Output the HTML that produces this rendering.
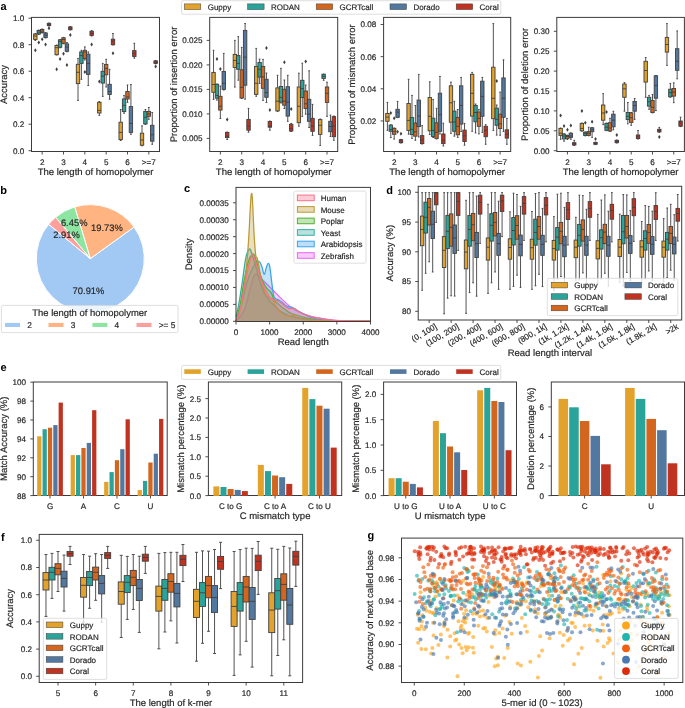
<!DOCTYPE html>
<html><head><meta charset="utf-8"><style>html,body{margin:0;padding:0;background:#fff;}svg{display:block;will-change:transform;}</style></head>
<body><svg width="685" height="708" viewBox="0 0 685 708" text-rendering="geometricPrecision" stroke-width="0.18" font-family='"Liberation Sans", sans-serif'>
<rect width="685" height="708" fill="#ffffff"/>
<text x="0.4" y="9.8" font-size="11.0" text-anchor="start" fill="#000000" stroke="#000000" font-weight="bold" stroke-width="0">a</text>
<text x="0.3" y="194.4" font-size="11.0" text-anchor="start" fill="#000000" stroke="#000000" font-weight="bold" stroke-width="0">b</text>
<text x="184.1" y="192.3" font-size="11.0" text-anchor="start" fill="#000000" stroke="#000000" font-weight="bold" stroke-width="0">c</text>
<text x="386.3" y="193.8" font-size="11.0" text-anchor="start" fill="#000000" stroke="#000000" font-weight="bold" stroke-width="0">d</text>
<text x="0.5" y="370.8" font-size="11.0" text-anchor="start" fill="#000000" stroke="#000000" font-weight="bold" stroke-width="0">e</text>
<text x="1" y="540.8" font-size="11.0" text-anchor="start" fill="#000000" stroke="#000000" font-weight="bold" stroke-width="0">f</text>
<text x="367.5" y="538.9" font-size="11.0" text-anchor="start" fill="#000000" stroke="#000000" font-weight="bold" stroke-width="0">g</text>
<path d="M35.34 34V33.5M34.49 33.5H36.19M35.34 39.5V40.5M34.49 40.5H36.19" stroke="#3f3f3f" stroke-width="0.9" fill="none"/>
<rect x="33.63" y="34" width="3.41" height="5.5" fill="#e2a22b" stroke="#3f3f3f" stroke-width="0.9"/>
<path d="M33.63 36H37.05" stroke="#3f3f3f" stroke-width="0.9"/>
<path d="M35.34 48.3L36.64 50.3L35.34 52.3L34.04 50.3Z" fill="#3f3f3f"/>
<path d="M38.75 30.5V30M37.9 30H39.61M38.75 34V34.5M37.9 34.5H39.61" stroke="#3f3f3f" stroke-width="0.9" fill="none"/>
<rect x="37.05" y="30.5" width="3.41" height="3.5" fill="#2aa39a" stroke="#3f3f3f" stroke-width="0.9"/>
<path d="M37.05 32.1H40.46" stroke="#3f3f3f" stroke-width="0.9"/>
<path d="M38.75 40.5L40.05 42.5L38.75 44.5L37.45 42.5Z" fill="#3f3f3f"/>
<path d="M42.17 29.4V29M41.31 29H43.02M42.17 32.4V33M41.31 33H43.02" stroke="#3f3f3f" stroke-width="0.9" fill="none"/>
<rect x="40.46" y="29.4" width="3.41" height="3" fill="#d3661f" stroke="#3f3f3f" stroke-width="0.9"/>
<path d="M40.46 31.1H43.87" stroke="#3f3f3f" stroke-width="0.9"/>
<path d="M42.17 37.2L43.47 39.2L42.17 41.2L40.87 39.2Z" fill="#3f3f3f"/>
<path d="M45.58 33V32.5M44.73 32.5H46.43M45.58 37.5V38M44.73 38H46.43" stroke="#3f3f3f" stroke-width="0.9" fill="none"/>
<rect x="43.87" y="33" width="3.41" height="4.5" fill="#53789f" stroke="#3f3f3f" stroke-width="0.9"/>
<path d="M43.87 35.2H47.29" stroke="#3f3f3f" stroke-width="0.9"/>
<path d="M45.58 42.6L46.88 44.6L45.58 46.6L44.28 44.6Z" fill="#3f3f3f"/>
<path d="M48.99 23.3V23M48.14 23H49.85M48.99 25.6V26M48.14 26H49.85" stroke="#3f3f3f" stroke-width="0.9" fill="none"/>
<rect x="47.29" y="23.3" width="3.41" height="2.3" fill="#bf3320" stroke="#3f3f3f" stroke-width="0.9"/>
<path d="M47.29 24.5H50.7" stroke="#3f3f3f" stroke-width="0.9"/>
<path d="M48.99 26.3L50.29 28.3L48.99 30.3L47.69 28.3Z" fill="#3f3f3f"/>
<path d="M56.67 45.5V45M55.82 45H57.53M56.67 54.7V55M55.82 55H57.53" stroke="#3f3f3f" stroke-width="0.9" fill="none"/>
<rect x="54.97" y="45.5" width="3.41" height="9.2" fill="#e2a22b" stroke="#3f3f3f" stroke-width="0.9"/>
<path d="M54.97 47.7H58.38" stroke="#3f3f3f" stroke-width="0.9"/>
<path d="M56.67 67.3L57.97 69.3L56.67 71.3L55.37 69.3Z" fill="#3f3f3f"/>
<path d="M60.09 39.9V39.5M59.23 39.5H60.94M60.09 47.3V47.8M59.23 47.8H60.94" stroke="#3f3f3f" stroke-width="0.9" fill="none"/>
<rect x="58.38" y="39.9" width="3.41" height="7.4" fill="#2aa39a" stroke="#3f3f3f" stroke-width="0.9"/>
<path d="M58.38 41.6H61.79" stroke="#3f3f3f" stroke-width="0.9"/>
<path d="M60.09 57.1L61.39 59.1L60.09 61.1L58.79 59.1Z" fill="#3f3f3f"/>
<path d="M63.5 37.8V37.4M62.65 37.4H64.35M63.5 43.3V43.8M62.65 43.8H64.35" stroke="#3f3f3f" stroke-width="0.9" fill="none"/>
<rect x="61.79" y="37.8" width="3.41" height="5.5" fill="#d3661f" stroke="#3f3f3f" stroke-width="0.9"/>
<path d="M61.79 39.5H65.21" stroke="#3f3f3f" stroke-width="0.9"/>
<path d="M63.5 51.7L64.8 53.7L63.5 55.7L62.2 53.7Z" fill="#3f3f3f"/>
<path d="M66.91 43.9V42.5M66.06 42.5H67.77M66.91 51.3V51.8M66.06 51.8H67.77" stroke="#3f3f3f" stroke-width="0.9" fill="none"/>
<rect x="65.21" y="43.9" width="3.41" height="7.4" fill="#53789f" stroke="#3f3f3f" stroke-width="0.9"/>
<path d="M65.21 47H68.62" stroke="#3f3f3f" stroke-width="0.9"/>
<path d="M66.91 63.1L68.21 65.1L66.91 67.1L65.61 65.1Z" fill="#3f3f3f"/>
<path d="M70.33 26.9V26.6M69.47 26.6H71.18M70.33 29.7V30M69.47 30H71.18" stroke="#3f3f3f" stroke-width="0.9" fill="none"/>
<rect x="68.62" y="26.9" width="3.41" height="2.8" fill="#bf3320" stroke="#3f3f3f" stroke-width="0.9"/>
<path d="M68.62 28.3H72.03" stroke="#3f3f3f" stroke-width="0.9"/>
<path d="M70.33 33.1L71.63 35.1L70.33 37.1L69.03 35.1Z" fill="#3f3f3f"/>
<path d="M78.01 64.3V58.4M77.15 58.4H78.86M78.01 83.6V100.4M77.15 100.4H78.86" stroke="#3f3f3f" stroke-width="0.9" fill="none"/>
<rect x="76.3" y="64.3" width="3.41" height="19.3" fill="#e2a22b" stroke="#3f3f3f" stroke-width="0.9"/>
<path d="M76.3 72.3H79.71" stroke="#3f3f3f" stroke-width="0.9"/>
<path d="M81.42 51.9V50.3M80.57 50.3H82.27M81.42 63.4V79.3M80.57 79.3H82.27" stroke="#3f3f3f" stroke-width="0.9" fill="none"/>
<rect x="79.71" y="51.9" width="3.41" height="11.5" fill="#2aa39a" stroke="#3f3f3f" stroke-width="0.9"/>
<path d="M79.71 55.6H83.13" stroke="#3f3f3f" stroke-width="0.9"/>
<path d="M84.83 50.3V46.9M83.98 46.9H85.69M84.83 58.4V60M83.98 60H85.69" stroke="#3f3f3f" stroke-width="0.9" fill="none"/>
<rect x="83.13" y="50.3" width="3.41" height="8.1" fill="#d3661f" stroke="#3f3f3f" stroke-width="0.9"/>
<path d="M83.13 52H86.54" stroke="#3f3f3f" stroke-width="0.9"/>
<path d="M84.83 70.1L86.13 72.1L84.83 74.1L83.53 72.1Z" fill="#3f3f3f"/>
<path d="M88.25 54.2V51.9M87.39 51.9H89.1M88.25 74.4V85.5M87.39 85.5H89.1" stroke="#3f3f3f" stroke-width="0.9" fill="none"/>
<rect x="86.54" y="54.2" width="3.41" height="20.2" fill="#53789f" stroke="#3f3f3f" stroke-width="0.9"/>
<path d="M86.54 63.4H89.95" stroke="#3f3f3f" stroke-width="0.9"/>
<path d="M91.66 31.3V30.5M90.81 30.5H92.51M91.66 35.4V36M90.81 36H92.51" stroke="#3f3f3f" stroke-width="0.9" fill="none"/>
<rect x="89.95" y="31.3" width="3.41" height="4.1" fill="#bf3320" stroke="#3f3f3f" stroke-width="0.9"/>
<path d="M89.95 33.4H93.37" stroke="#3f3f3f" stroke-width="0.9"/>
<path d="M91.66 42.6L92.96 44.6L91.66 46.6L90.36 44.6Z" fill="#3f3f3f"/>
<path d="M99.34 102.3V101.5M98.49 101.5H100.19M99.34 113V115.4M98.49 115.4H100.19" stroke="#3f3f3f" stroke-width="0.9" fill="none"/>
<rect x="97.63" y="102.3" width="3.41" height="10.7" fill="#e2a22b" stroke="#3f3f3f" stroke-width="0.9"/>
<path d="M97.63 110.4H101.05" stroke="#3f3f3f" stroke-width="0.9"/>
<path d="M99.34 79.6L100.64 81.6L99.34 83.6L98.04 81.6Z" fill="#3f3f3f"/>
<path d="M102.75 71.3V63.4M101.9 63.4H103.61M102.75 83.1V96.4M101.9 96.4H103.61" stroke="#3f3f3f" stroke-width="0.9" fill="none"/>
<rect x="101.05" y="71.3" width="3.41" height="11.8" fill="#2aa39a" stroke="#3f3f3f" stroke-width="0.9"/>
<path d="M101.05 76.2H104.46" stroke="#3f3f3f" stroke-width="0.9"/>
<path d="M106.17 64.4V59.3M105.31 59.3H107.02M106.17 74.8V87M105.31 87H107.02" stroke="#3f3f3f" stroke-width="0.9" fill="none"/>
<rect x="104.46" y="64.4" width="3.41" height="10.4" fill="#d3661f" stroke="#3f3f3f" stroke-width="0.9"/>
<path d="M104.46 68.5H107.87" stroke="#3f3f3f" stroke-width="0.9"/>
<path d="M109.58 84.3V69.3M108.73 69.3H110.43M109.58 94.5V99.2M108.73 99.2H110.43" stroke="#3f3f3f" stroke-width="0.9" fill="none"/>
<rect x="107.87" y="84.3" width="3.41" height="10.2" fill="#53789f" stroke="#3f3f3f" stroke-width="0.9"/>
<path d="M107.87 91.5H111.29" stroke="#3f3f3f" stroke-width="0.9"/>
<path d="M112.99 39.2V33.5M112.14 33.5H113.85M112.99 44.7V45M112.14 45H113.85" stroke="#3f3f3f" stroke-width="0.9" fill="none"/>
<rect x="111.29" y="39.2" width="3.41" height="5.5" fill="#bf3320" stroke="#3f3f3f" stroke-width="0.9"/>
<path d="M111.29 41.1H114.7" stroke="#3f3f3f" stroke-width="0.9"/>
<path d="M112.99 51.3L114.29 53.3L112.99 55.3L111.69 53.3Z" fill="#3f3f3f"/>
<path d="M120.67 122.2V109.5M119.82 109.5H121.53M120.67 139.6V140.5M119.82 140.5H121.53" stroke="#3f3f3f" stroke-width="0.9" fill="none"/>
<rect x="118.97" y="122.2" width="3.41" height="17.4" fill="#e2a22b" stroke="#3f3f3f" stroke-width="0.9"/>
<path d="M118.97 132.4H122.38" stroke="#3f3f3f" stroke-width="0.9"/>
<path d="M124.09 99V95.4M123.23 95.4H124.94M124.09 111.6V113.3M123.23 113.3H124.94" stroke="#3f3f3f" stroke-width="0.9" fill="none"/>
<rect x="122.38" y="99" width="3.41" height="12.6" fill="#2aa39a" stroke="#3f3f3f" stroke-width="0.9"/>
<path d="M122.38 105.4H125.79" stroke="#3f3f3f" stroke-width="0.9"/>
<path d="M127.5 91.5V85M126.65 85H128.35M127.5 99V102.4M126.65 102.4H128.35" stroke="#3f3f3f" stroke-width="0.9" fill="none"/>
<rect x="125.79" y="91.5" width="3.41" height="7.5" fill="#d3661f" stroke="#3f3f3f" stroke-width="0.9"/>
<path d="M125.79 96.9H129.21" stroke="#3f3f3f" stroke-width="0.9"/>
<path d="M130.91 106.6V84.5M130.06 84.5H131.77M130.91 132.4V134.3M130.06 134.3H131.77" stroke="#3f3f3f" stroke-width="0.9" fill="none"/>
<rect x="129.21" y="106.6" width="3.41" height="25.8" fill="#53789f" stroke="#3f3f3f" stroke-width="0.9"/>
<path d="M129.21 123.4H132.62" stroke="#3f3f3f" stroke-width="0.9"/>
<path d="M134.33 50.6V43.3M133.47 43.3H135.18M134.33 56.5V58.2M133.47 58.2H135.18" stroke="#3f3f3f" stroke-width="0.9" fill="none"/>
<rect x="132.62" y="50.6" width="3.41" height="5.9" fill="#bf3320" stroke="#3f3f3f" stroke-width="0.9"/>
<path d="M132.62 53.5H136.03" stroke="#3f3f3f" stroke-width="0.9"/>
<path d="M142.01 133.2V125.8M141.15 125.8H142.86M142.01 145.2V145.8M141.15 145.8H142.86" stroke="#3f3f3f" stroke-width="0.9" fill="none"/>
<rect x="140.3" y="133.2" width="3.41" height="12" fill="#e2a22b" stroke="#3f3f3f" stroke-width="0.9"/>
<path d="M140.3 140H143.71" stroke="#3f3f3f" stroke-width="0.9"/>
<path d="M145.42 111.4V109.5M144.57 109.5H146.27M145.42 123.9V124.5M144.57 124.5H146.27" stroke="#3f3f3f" stroke-width="0.9" fill="none"/>
<rect x="143.71" y="111.4" width="3.41" height="12.5" fill="#2aa39a" stroke="#3f3f3f" stroke-width="0.9"/>
<path d="M143.71 117.3H147.13" stroke="#3f3f3f" stroke-width="0.9"/>
<path d="M148.83 111.4V107.5M147.98 107.5H149.69M148.83 116.3V119.3M147.98 119.3H149.69" stroke="#3f3f3f" stroke-width="0.9" fill="none"/>
<rect x="147.13" y="111.4" width="3.41" height="4.9" fill="#d3661f" stroke="#3f3f3f" stroke-width="0.9"/>
<path d="M147.13 113.9H150.54" stroke="#3f3f3f" stroke-width="0.9"/>
<path d="M152.25 125.3V112.5M151.39 112.5H153.1M152.25 141.2V144.3M151.39 144.3H153.1" stroke="#3f3f3f" stroke-width="0.9" fill="none"/>
<rect x="150.54" y="125.3" width="3.41" height="15.9" fill="#53789f" stroke="#3f3f3f" stroke-width="0.9"/>
<path d="M150.54 134.8H153.95" stroke="#3f3f3f" stroke-width="0.9"/>
<path d="M155.66 60.9V60.5M154.81 60.5H156.51M155.66 63.4V63.8M154.81 63.8H156.51" stroke="#3f3f3f" stroke-width="0.9" fill="none"/>
<rect x="153.95" y="60.9" width="3.41" height="2.5" fill="#bf3320" stroke="#3f3f3f" stroke-width="0.9"/>
<path d="M153.95 62.2H157.37" stroke="#3f3f3f" stroke-width="0.9"/>
<path d="M155.66 64.5L156.96 66.5L155.66 68.5L154.36 66.5Z" fill="#3f3f3f"/>
<rect x="31.5" y="17.4" width="128" height="134.1" fill="none" stroke="#3b3b3b" stroke-width="1.0"/>
<line x1="28.5" y1="150.7" x2="31.5" y2="150.7" stroke="#3b3b3b" stroke-width="0.9"/>
<text x="24.2" y="153.62" font-size="8.1" text-anchor="end" fill="#262626" stroke="#262626">0.0</text>
<line x1="28.5" y1="124.2" x2="31.5" y2="124.2" stroke="#3b3b3b" stroke-width="0.9"/>
<text x="24.2" y="127.12" font-size="8.1" text-anchor="end" fill="#262626" stroke="#262626">0.2</text>
<line x1="28.5" y1="97.7" x2="31.5" y2="97.7" stroke="#3b3b3b" stroke-width="0.9"/>
<text x="24.2" y="100.62" font-size="8.1" text-anchor="end" fill="#262626" stroke="#262626">0.4</text>
<line x1="28.5" y1="71.2" x2="31.5" y2="71.2" stroke="#3b3b3b" stroke-width="0.9"/>
<text x="24.2" y="74.12" font-size="8.1" text-anchor="end" fill="#262626" stroke="#262626">0.6</text>
<line x1="28.5" y1="44.7" x2="31.5" y2="44.7" stroke="#3b3b3b" stroke-width="0.9"/>
<text x="24.2" y="47.62" font-size="8.1" text-anchor="end" fill="#262626" stroke="#262626">0.8</text>
<line x1="28.5" y1="18.2" x2="31.5" y2="18.2" stroke="#3b3b3b" stroke-width="0.9"/>
<text x="24.2" y="21.12" font-size="8.1" text-anchor="end" fill="#262626" stroke="#262626">1.0</text>
<line x1="42.17" y1="151.5" x2="42.17" y2="154.5" stroke="#3b3b3b" stroke-width="0.9"/>
<text x="42.17" y="164.7" font-size="8.1" text-anchor="middle" fill="#262626" stroke="#262626">2</text>
<line x1="63.5" y1="151.5" x2="63.5" y2="154.5" stroke="#3b3b3b" stroke-width="0.9"/>
<text x="63.5" y="164.7" font-size="8.1" text-anchor="middle" fill="#262626" stroke="#262626">3</text>
<line x1="84.83" y1="151.5" x2="84.83" y2="154.5" stroke="#3b3b3b" stroke-width="0.9"/>
<text x="84.83" y="164.7" font-size="8.1" text-anchor="middle" fill="#262626" stroke="#262626">4</text>
<line x1="106.17" y1="151.5" x2="106.17" y2="154.5" stroke="#3b3b3b" stroke-width="0.9"/>
<text x="106.17" y="164.7" font-size="8.1" text-anchor="middle" fill="#262626" stroke="#262626">5</text>
<line x1="127.5" y1="151.5" x2="127.5" y2="154.5" stroke="#3b3b3b" stroke-width="0.9"/>
<text x="127.5" y="164.7" font-size="8.1" text-anchor="middle" fill="#262626" stroke="#262626">6</text>
<line x1="148.83" y1="151.5" x2="148.83" y2="154.5" stroke="#3b3b3b" stroke-width="0.9"/>
<text x="148.83" y="164.7" font-size="8.1" text-anchor="middle" fill="#262626" stroke="#262626">&gt;=7</text>
<text x="95.5" y="175" font-size="9.5" text-anchor="middle" fill="#262626" stroke="#262626">The length of homopolymer</text>
<text transform="translate(7.2,84.45) rotate(-90)" font-size="9.5" text-anchor="middle" fill="#262626" stroke="#262626">Accuracy</text>
<path d="M213.54 72.4V50.3M212.69 50.3H214.39M213.54 92.3V99.5M212.69 99.5H214.39" stroke="#3f3f3f" stroke-width="0.9" fill="none"/>
<rect x="211.83" y="72.4" width="3.41" height="19.9" fill="#e2a22b" stroke="#3f3f3f" stroke-width="0.9"/>
<path d="M211.83 84.5H215.25" stroke="#3f3f3f" stroke-width="0.9"/>
<path d="M216.95 84.3V84M216.1 84H217.81M216.95 98.2V100.1M216.1 100.1H217.81" stroke="#3f3f3f" stroke-width="0.9" fill="none"/>
<rect x="215.25" y="84.3" width="3.41" height="13.9" fill="#2aa39a" stroke="#3f3f3f" stroke-width="0.9"/>
<path d="M215.25 95.4H218.66" stroke="#3f3f3f" stroke-width="0.9"/>
<path d="M216.95 57.1L218.25 59.1L216.95 61.1L215.65 59.1Z" fill="#3f3f3f"/>
<path d="M220.37 96.3V86M219.51 86H221.22M220.37 110.1V118.5M219.51 118.5H221.22" stroke="#3f3f3f" stroke-width="0.9" fill="none"/>
<rect x="218.66" y="96.3" width="3.41" height="13.8" fill="#d3661f" stroke="#3f3f3f" stroke-width="0.9"/>
<path d="M218.66 106.3H222.07" stroke="#3f3f3f" stroke-width="0.9"/>
<path d="M220.37 66.9L221.67 68.9L220.37 70.9L219.07 68.9Z" fill="#3f3f3f"/>
<path d="M223.78 71.5V53.4M222.93 53.4H224.63M223.78 89.4V90M222.93 90H224.63" stroke="#3f3f3f" stroke-width="0.9" fill="none"/>
<rect x="222.07" y="71.5" width="3.41" height="17.9" fill="#53789f" stroke="#3f3f3f" stroke-width="0.9"/>
<path d="M222.07 83.3H225.49" stroke="#3f3f3f" stroke-width="0.9"/>
<path d="M227.19 132.4V132M226.34 132H228.05M227.19 137.6V139.5M226.34 139.5H228.05" stroke="#3f3f3f" stroke-width="0.9" fill="none"/>
<rect x="225.49" y="132.4" width="3.41" height="5.2" fill="#bf3320" stroke="#3f3f3f" stroke-width="0.9"/>
<path d="M225.49 136.2H228.9" stroke="#3f3f3f" stroke-width="0.9"/>
<path d="M227.19 117.6L228.49 119.6L227.19 121.6L225.89 119.6Z" fill="#3f3f3f"/>
<path d="M234.87 54.4V40.4M234.02 40.4H235.73M234.87 67.4V87.1M234.02 87.1H235.73" stroke="#3f3f3f" stroke-width="0.9" fill="none"/>
<rect x="233.17" y="54.4" width="3.41" height="13" fill="#e2a22b" stroke="#3f3f3f" stroke-width="0.9"/>
<path d="M233.17 60.4H236.58" stroke="#3f3f3f" stroke-width="0.9"/>
<path d="M238.29 55.6V36.6M237.43 36.6H239.14M238.29 69.3V80.2M237.43 80.2H239.14" stroke="#3f3f3f" stroke-width="0.9" fill="none"/>
<rect x="236.58" y="55.6" width="3.41" height="13.7" fill="#2aa39a" stroke="#3f3f3f" stroke-width="0.9"/>
<path d="M236.58 63.4H239.99" stroke="#3f3f3f" stroke-width="0.9"/>
<path d="M241.7 69.8V47.4M240.85 47.4H242.55M241.7 98V98.5M240.85 98.5H242.55" stroke="#3f3f3f" stroke-width="0.9" fill="none"/>
<rect x="239.99" y="69.8" width="3.41" height="28.2" fill="#d3661f" stroke="#3f3f3f" stroke-width="0.9"/>
<path d="M239.99 87.3H243.41" stroke="#3f3f3f" stroke-width="0.9"/>
<path d="M245.11 30.4V23.5M244.26 23.5H245.97M245.11 85.2V99.2M244.26 99.2H245.97" stroke="#3f3f3f" stroke-width="0.9" fill="none"/>
<rect x="243.41" y="30.4" width="3.41" height="54.8" fill="#53789f" stroke="#3f3f3f" stroke-width="0.9"/>
<path d="M243.41 57.2H246.82" stroke="#3f3f3f" stroke-width="0.9"/>
<path d="M248.53 119.4V108.4M247.67 108.4H249.38M248.53 130.2V132.2M247.67 132.2H249.38" stroke="#3f3f3f" stroke-width="0.9" fill="none"/>
<rect x="246.82" y="119.4" width="3.41" height="10.8" fill="#bf3320" stroke="#3f3f3f" stroke-width="0.9"/>
<path d="M246.82 126.2H250.23" stroke="#3f3f3f" stroke-width="0.9"/>
<path d="M256.21 66.4V48.4M255.35 48.4H257.06M256.21 94.4V96.3M255.35 96.3H257.06" stroke="#3f3f3f" stroke-width="0.9" fill="none"/>
<rect x="254.5" y="66.4" width="3.41" height="28" fill="#e2a22b" stroke="#3f3f3f" stroke-width="0.9"/>
<path d="M254.5 83.3H257.91" stroke="#3f3f3f" stroke-width="0.9"/>
<path d="M259.62 62.4V59.1M258.77 59.1H260.47M259.62 77.1V83.5M258.77 83.5H260.47" stroke="#3f3f3f" stroke-width="0.9" fill="none"/>
<rect x="257.91" y="62.4" width="3.41" height="14.7" fill="#2aa39a" stroke="#3f3f3f" stroke-width="0.9"/>
<path d="M257.91 69.3H261.33" stroke="#3f3f3f" stroke-width="0.9"/>
<path d="M263.03 66.4V59.4M262.18 59.4H263.89M263.03 88.3V100.4M262.18 100.4H263.89" stroke="#3f3f3f" stroke-width="0.9" fill="none"/>
<rect x="261.33" y="66.4" width="3.41" height="21.9" fill="#d3661f" stroke="#3f3f3f" stroke-width="0.9"/>
<path d="M261.33 76.9H264.74" stroke="#3f3f3f" stroke-width="0.9"/>
<path d="M266.45 79.3V73M265.59 73H267.3M266.45 97.3V102.5M265.59 102.5H267.3" stroke="#3f3f3f" stroke-width="0.9" fill="none"/>
<rect x="264.74" y="79.3" width="3.41" height="18" fill="#53789f" stroke="#3f3f3f" stroke-width="0.9"/>
<path d="M264.74 92.6H268.15" stroke="#3f3f3f" stroke-width="0.9"/>
<path d="M266.45 46L267.75 48L266.45 50L265.15 48Z" fill="#3f3f3f"/>
<path d="M269.86 121.5V121M269.01 121H270.71M269.86 127.2V130.2M269.01 130.2H270.71" stroke="#3f3f3f" stroke-width="0.9" fill="none"/>
<rect x="268.15" y="121.5" width="3.41" height="5.7" fill="#bf3320" stroke="#3f3f3f" stroke-width="0.9"/>
<path d="M268.15 126.2H271.57" stroke="#3f3f3f" stroke-width="0.9"/>
<path d="M269.86 108.1L271.16 110.1L269.86 112.1L268.56 110.1Z" fill="#3f3f3f"/>
<path d="M277.54 87.9V75.3M276.69 75.3H278.39M277.54 110.9V111.5M276.69 111.5H278.39" stroke="#3f3f3f" stroke-width="0.9" fill="none"/>
<rect x="275.83" y="87.9" width="3.41" height="23" fill="#e2a22b" stroke="#3f3f3f" stroke-width="0.9"/>
<path d="M275.83 101.2H279.25" stroke="#3f3f3f" stroke-width="0.9"/>
<path d="M280.95 86.5V68.3M280.1 68.3H281.81M280.95 102.1V103M280.1 103H281.81" stroke="#3f3f3f" stroke-width="0.9" fill="none"/>
<rect x="279.25" y="86.5" width="3.41" height="15.6" fill="#2aa39a" stroke="#3f3f3f" stroke-width="0.9"/>
<path d="M279.25 97.4H282.66" stroke="#3f3f3f" stroke-width="0.9"/>
<path d="M284.37 89.3V80M283.51 80H285.22M284.37 105.2V108.5M283.51 108.5H285.22" stroke="#3f3f3f" stroke-width="0.9" fill="none"/>
<rect x="282.66" y="89.3" width="3.41" height="15.9" fill="#d3661f" stroke="#3f3f3f" stroke-width="0.9"/>
<path d="M282.66 101.2H286.07" stroke="#3f3f3f" stroke-width="0.9"/>
<path d="M284.37 60.3L285.67 62.3L284.37 64.3L283.07 62.3Z" fill="#3f3f3f"/>
<path d="M287.78 86.7V75.3M286.93 75.3H288.63M287.78 116.1V121.3M286.93 121.3H288.63" stroke="#3f3f3f" stroke-width="0.9" fill="none"/>
<rect x="286.07" y="86.7" width="3.41" height="29.4" fill="#53789f" stroke="#3f3f3f" stroke-width="0.9"/>
<path d="M286.07 102.2H289.49" stroke="#3f3f3f" stroke-width="0.9"/>
<path d="M291.19 124.3V123.5M290.34 123.5H292.05M291.19 131V131.5M290.34 131.5H292.05" stroke="#3f3f3f" stroke-width="0.9" fill="none"/>
<rect x="289.49" y="124.3" width="3.41" height="6.7" fill="#bf3320" stroke="#3f3f3f" stroke-width="0.9"/>
<path d="M289.49 128.5H292.9" stroke="#3f3f3f" stroke-width="0.9"/>
<path d="M291.19 107L292.49 109L291.19 111L289.89 109Z" fill="#3f3f3f"/>
<path d="M298.87 87V73.2M298.02 73.2H299.73M298.87 122.7V126.2M298.02 126.2H299.73" stroke="#3f3f3f" stroke-width="0.9" fill="none"/>
<rect x="297.17" y="87" width="3.41" height="35.7" fill="#e2a22b" stroke="#3f3f3f" stroke-width="0.9"/>
<path d="M297.17 106.3H300.58" stroke="#3f3f3f" stroke-width="0.9"/>
<path d="M302.29 80.3V63.2M301.43 63.2H303.14M302.29 97.6V116.4M301.43 116.4H303.14" stroke="#3f3f3f" stroke-width="0.9" fill="none"/>
<rect x="300.58" y="80.3" width="3.41" height="17.3" fill="#2aa39a" stroke="#3f3f3f" stroke-width="0.9"/>
<path d="M300.58 88.6H303.99" stroke="#3f3f3f" stroke-width="0.9"/>
<path d="M305.7 91V85M304.85 85H306.55M305.7 108.5V114.2M304.85 114.2H306.55" stroke="#3f3f3f" stroke-width="0.9" fill="none"/>
<rect x="303.99" y="91" width="3.41" height="17.5" fill="#d3661f" stroke="#3f3f3f" stroke-width="0.9"/>
<path d="M303.99 103.8H307.41" stroke="#3f3f3f" stroke-width="0.9"/>
<path d="M305.7 59.6L307 61.6L305.7 63.6L304.4 61.6Z" fill="#3f3f3f"/>
<path d="M309.11 99.3V70.8M308.26 70.8H309.97M309.11 121.3V127.5M308.26 127.5H309.97" stroke="#3f3f3f" stroke-width="0.9" fill="none"/>
<rect x="307.41" y="99.3" width="3.41" height="22" fill="#53789f" stroke="#3f3f3f" stroke-width="0.9"/>
<path d="M307.41 114.2H310.82" stroke="#3f3f3f" stroke-width="0.9"/>
<path d="M312.53 118.3V104.4M311.67 104.4H313.38M312.53 131.3V135.4M311.67 135.4H313.38" stroke="#3f3f3f" stroke-width="0.9" fill="none"/>
<rect x="310.82" y="118.3" width="3.41" height="13" fill="#bf3320" stroke="#3f3f3f" stroke-width="0.9"/>
<path d="M310.82 126.1H314.23" stroke="#3f3f3f" stroke-width="0.9"/>
<path d="M320.21 119.6V119M319.35 119H321.06M320.21 134.4V145.5M319.35 145.5H321.06" stroke="#3f3f3f" stroke-width="0.9" fill="none"/>
<rect x="318.5" y="119.6" width="3.41" height="14.8" fill="#e2a22b" stroke="#3f3f3f" stroke-width="0.9"/>
<path d="M318.5 125.3H321.91" stroke="#3f3f3f" stroke-width="0.9"/>
<path d="M323.62 74.3V74M322.77 74H324.47M323.62 78.4V80.3M322.77 80.3H324.47" stroke="#3f3f3f" stroke-width="0.9" fill="none"/>
<rect x="321.91" y="74.3" width="3.41" height="4.1" fill="#2aa39a" stroke="#3f3f3f" stroke-width="0.9"/>
<path d="M321.91 76.3H325.33" stroke="#3f3f3f" stroke-width="0.9"/>
<path d="M327.03 87V82.2M326.18 82.2H327.89M327.03 102.4V116.4M326.18 116.4H327.89" stroke="#3f3f3f" stroke-width="0.9" fill="none"/>
<rect x="325.33" y="87" width="3.41" height="15.4" fill="#d3661f" stroke="#3f3f3f" stroke-width="0.9"/>
<path d="M325.33 93.3H328.74" stroke="#3f3f3f" stroke-width="0.9"/>
<path d="M330.45 121.3V115.1M329.59 115.1H331.3M330.45 131.7V136.5M329.59 136.5H331.3" stroke="#3f3f3f" stroke-width="0.9" fill="none"/>
<rect x="328.74" y="121.3" width="3.41" height="10.4" fill="#53789f" stroke="#3f3f3f" stroke-width="0.9"/>
<path d="M328.74 126.5H332.15" stroke="#3f3f3f" stroke-width="0.9"/>
<path d="M333.86 116.6V116M333.01 116H334.71M333.86 136.7V140.3M333.01 140.3H334.71" stroke="#3f3f3f" stroke-width="0.9" fill="none"/>
<rect x="332.15" y="116.6" width="3.41" height="20.1" fill="#bf3320" stroke="#3f3f3f" stroke-width="0.9"/>
<path d="M332.15 126.1H335.57" stroke="#3f3f3f" stroke-width="0.9"/>
<rect x="209.7" y="17.4" width="128" height="134.1" fill="none" stroke="#3b3b3b" stroke-width="1.0"/>
<line x1="206.7" y1="138.4" x2="209.7" y2="138.4" stroke="#3b3b3b" stroke-width="0.9"/>
<text x="202.4" y="141.32" font-size="8.1" text-anchor="end" fill="#262626" stroke="#262626">0.005</text>
<line x1="206.7" y1="113.9" x2="209.7" y2="113.9" stroke="#3b3b3b" stroke-width="0.9"/>
<text x="202.4" y="116.82" font-size="8.1" text-anchor="end" fill="#262626" stroke="#262626">0.010</text>
<line x1="206.7" y1="89.4" x2="209.7" y2="89.4" stroke="#3b3b3b" stroke-width="0.9"/>
<text x="202.4" y="92.32" font-size="8.1" text-anchor="end" fill="#262626" stroke="#262626">0.015</text>
<line x1="206.7" y1="64.9" x2="209.7" y2="64.9" stroke="#3b3b3b" stroke-width="0.9"/>
<text x="202.4" y="67.82" font-size="8.1" text-anchor="end" fill="#262626" stroke="#262626">0.020</text>
<line x1="206.7" y1="40.4" x2="209.7" y2="40.4" stroke="#3b3b3b" stroke-width="0.9"/>
<text x="202.4" y="43.32" font-size="8.1" text-anchor="end" fill="#262626" stroke="#262626">0.025</text>
<line x1="220.37" y1="151.5" x2="220.37" y2="154.5" stroke="#3b3b3b" stroke-width="0.9"/>
<text x="220.37" y="164.7" font-size="8.1" text-anchor="middle" fill="#262626" stroke="#262626">2</text>
<line x1="241.7" y1="151.5" x2="241.7" y2="154.5" stroke="#3b3b3b" stroke-width="0.9"/>
<text x="241.7" y="164.7" font-size="8.1" text-anchor="middle" fill="#262626" stroke="#262626">3</text>
<line x1="263.03" y1="151.5" x2="263.03" y2="154.5" stroke="#3b3b3b" stroke-width="0.9"/>
<text x="263.03" y="164.7" font-size="8.1" text-anchor="middle" fill="#262626" stroke="#262626">4</text>
<line x1="284.37" y1="151.5" x2="284.37" y2="154.5" stroke="#3b3b3b" stroke-width="0.9"/>
<text x="284.37" y="164.7" font-size="8.1" text-anchor="middle" fill="#262626" stroke="#262626">5</text>
<line x1="305.7" y1="151.5" x2="305.7" y2="154.5" stroke="#3b3b3b" stroke-width="0.9"/>
<text x="305.7" y="164.7" font-size="8.1" text-anchor="middle" fill="#262626" stroke="#262626">6</text>
<line x1="327.03" y1="151.5" x2="327.03" y2="154.5" stroke="#3b3b3b" stroke-width="0.9"/>
<text x="327.03" y="164.7" font-size="8.1" text-anchor="middle" fill="#262626" stroke="#262626">&gt;=7</text>
<text x="273.7" y="175" font-size="9.5" text-anchor="middle" fill="#262626" stroke="#262626">The length of homopolymer</text>
<text transform="translate(176.6,84.45) rotate(-90)" font-size="9.5" text-anchor="middle" fill="#262626" stroke="#262626">Proportion of insertion error</text>
<path d="M387.41 113.5V102.4M386.57 102.4H388.26M387.41 121.3V130.4M386.57 130.4H388.26" stroke="#3f3f3f" stroke-width="0.9" fill="none"/>
<rect x="385.72" y="113.5" width="3.39" height="7.8" fill="#e2a22b" stroke="#3f3f3f" stroke-width="0.9"/>
<path d="M385.72 117.1H389.11" stroke="#3f3f3f" stroke-width="0.9"/>
<path d="M390.8 125.1V124.8M389.95 124.8H391.65M390.8 131.3V137.5M389.95 137.5H391.65" stroke="#3f3f3f" stroke-width="0.9" fill="none"/>
<rect x="389.11" y="125.1" width="3.39" height="6.2" fill="#2aa39a" stroke="#3f3f3f" stroke-width="0.9"/>
<path d="M389.11 129.4H392.5" stroke="#3f3f3f" stroke-width="0.9"/>
<path d="M390.8 111.1L392.1 113.1L390.8 115.1L389.5 113.1Z" fill="#3f3f3f"/>
<path d="M394.19 128.3V128M393.34 128H395.04M394.19 134.3V139.1M393.34 139.1H395.04" stroke="#3f3f3f" stroke-width="0.9" fill="none"/>
<rect x="392.5" y="128.3" width="3.39" height="6" fill="#d3661f" stroke="#3f3f3f" stroke-width="0.9"/>
<path d="M392.5 131.3H395.89" stroke="#3f3f3f" stroke-width="0.9"/>
<path d="M394.19 116.2L395.49 118.2L394.19 120.2L392.89 118.2Z" fill="#3f3f3f"/>
<path d="M397.58 109.3V101.4M396.73 101.4H398.43M397.58 117.3V117.6M396.73 117.6H398.43" stroke="#3f3f3f" stroke-width="0.9" fill="none"/>
<rect x="395.89" y="109.3" width="3.39" height="8" fill="#53789f" stroke="#3f3f3f" stroke-width="0.9"/>
<path d="M395.89 112.1H399.28" stroke="#3f3f3f" stroke-width="0.9"/>
<path d="M397.58 129.8L398.88 131.8L397.58 133.8L396.28 131.8Z" fill="#3f3f3f"/>
<path d="M400.97 139.7V139.4M400.12 139.4H401.82M400.97 142.7V143M400.12 143H401.82" stroke="#3f3f3f" stroke-width="0.9" fill="none"/>
<rect x="399.28" y="139.7" width="3.39" height="3" fill="#bf3320" stroke="#3f3f3f" stroke-width="0.9"/>
<path d="M399.28 141H402.66" stroke="#3f3f3f" stroke-width="0.9"/>
<path d="M400.97 131.7L402.27 133.7L400.97 135.7L399.67 133.7Z" fill="#3f3f3f"/>
<path d="M408.6 103.5V79.3M407.75 79.3H409.44M408.6 130.4V134.2M407.75 134.2H409.44" stroke="#3f3f3f" stroke-width="0.9" fill="none"/>
<rect x="406.9" y="103.5" width="3.39" height="26.9" fill="#e2a22b" stroke="#3f3f3f" stroke-width="0.9"/>
<path d="M406.9 120.4H410.29" stroke="#3f3f3f" stroke-width="0.9"/>
<path d="M411.99 117.6V95.4M411.14 95.4H412.83M411.99 134.6V138.4M411.14 138.4H412.83" stroke="#3f3f3f" stroke-width="0.9" fill="none"/>
<rect x="410.29" y="117.6" width="3.39" height="17" fill="#2aa39a" stroke="#3f3f3f" stroke-width="0.9"/>
<path d="M410.29 129.4H413.68" stroke="#3f3f3f" stroke-width="0.9"/>
<path d="M415.38 123V105.5M414.53 105.5H416.22M415.38 136.2V140.3M414.53 140.3H416.22" stroke="#3f3f3f" stroke-width="0.9" fill="none"/>
<rect x="413.68" y="123" width="3.39" height="13.2" fill="#d3661f" stroke="#3f3f3f" stroke-width="0.9"/>
<path d="M413.68 131.8H417.07" stroke="#3f3f3f" stroke-width="0.9"/>
<path d="M418.76 100.1V74.4M417.92 74.4H419.61M418.76 126.6V137M417.92 137H419.61" stroke="#3f3f3f" stroke-width="0.9" fill="none"/>
<rect x="417.07" y="100.1" width="3.39" height="26.5" fill="#53789f" stroke="#3f3f3f" stroke-width="0.9"/>
<path d="M417.07 116H420.46" stroke="#3f3f3f" stroke-width="0.9"/>
<path d="M422.15 135.6V125.6M421.31 125.6H423M422.15 143.6V144M421.31 144H423" stroke="#3f3f3f" stroke-width="0.9" fill="none"/>
<rect x="420.46" y="135.6" width="3.39" height="8" fill="#bf3320" stroke="#3f3f3f" stroke-width="0.9"/>
<path d="M420.46 140H423.85" stroke="#3f3f3f" stroke-width="0.9"/>
<path d="M429.78 97.5V81.8M428.93 81.8H430.63M429.78 130.8V134.6M428.93 134.6H430.63" stroke="#3f3f3f" stroke-width="0.9" fill="none"/>
<rect x="428.09" y="97.5" width="3.39" height="33.3" fill="#e2a22b" stroke="#3f3f3f" stroke-width="0.9"/>
<path d="M428.09 116.3H431.47" stroke="#3f3f3f" stroke-width="0.9"/>
<path d="M433.17 118.2V99.5M432.32 99.5H434.02M433.17 136.5V137.5M432.32 137.5H434.02" stroke="#3f3f3f" stroke-width="0.9" fill="none"/>
<rect x="431.47" y="118.2" width="3.39" height="18.3" fill="#2aa39a" stroke="#3f3f3f" stroke-width="0.9"/>
<path d="M431.47 130.4H434.86" stroke="#3f3f3f" stroke-width="0.9"/>
<path d="M436.56 122.8V108.3M435.71 108.3H437.41M436.56 138.4V139M435.71 139H437.41" stroke="#3f3f3f" stroke-width="0.9" fill="none"/>
<rect x="434.86" y="122.8" width="3.39" height="15.6" fill="#d3661f" stroke="#3f3f3f" stroke-width="0.9"/>
<path d="M434.86 132.3H438.25" stroke="#3f3f3f" stroke-width="0.9"/>
<path d="M439.95 93.2V76.4M439.1 76.4H440.8M439.95 131.3V134M439.1 134H440.8" stroke="#3f3f3f" stroke-width="0.9" fill="none"/>
<rect x="438.25" y="93.2" width="3.39" height="38.1" fill="#53789f" stroke="#3f3f3f" stroke-width="0.9"/>
<path d="M438.25 114.7H441.64" stroke="#3f3f3f" stroke-width="0.9"/>
<path d="M443.34 134V123.2M442.49 123.2H444.18M443.34 143.6V146M442.49 146H444.18" stroke="#3f3f3f" stroke-width="0.9" fill="none"/>
<rect x="441.64" y="134" width="3.39" height="9.6" fill="#bf3320" stroke="#3f3f3f" stroke-width="0.9"/>
<path d="M441.64 140.3H445.03" stroke="#3f3f3f" stroke-width="0.9"/>
<path d="M450.96 85.8V82.1M450.12 82.1H451.81M450.96 122.2V133.4M450.12 133.4H451.81" stroke="#3f3f3f" stroke-width="0.9" fill="none"/>
<rect x="449.27" y="85.8" width="3.39" height="36.4" fill="#e2a22b" stroke="#3f3f3f" stroke-width="0.9"/>
<path d="M449.27 102.8H452.66" stroke="#3f3f3f" stroke-width="0.9"/>
<path d="M454.35 111.1V101.3M453.5 101.3H455.2M454.35 131.3V136.2M453.5 136.2H455.2" stroke="#3f3f3f" stroke-width="0.9" fill="none"/>
<rect x="452.66" y="111.1" width="3.39" height="20.2" fill="#2aa39a" stroke="#3f3f3f" stroke-width="0.9"/>
<path d="M452.66 122H456.05" stroke="#3f3f3f" stroke-width="0.9"/>
<path d="M457.74 117.4V109.5M456.89 109.5H458.59M457.74 134.8V137.4M456.89 137.4H458.59" stroke="#3f3f3f" stroke-width="0.9" fill="none"/>
<rect x="456.05" y="117.4" width="3.39" height="17.4" fill="#d3661f" stroke="#3f3f3f" stroke-width="0.9"/>
<path d="M456.05 126.3H459.44" stroke="#3f3f3f" stroke-width="0.9"/>
<path d="M461.13 85.8V77.4M460.28 77.4H461.98M461.13 124.1V131.5M460.28 131.5H461.98" stroke="#3f3f3f" stroke-width="0.9" fill="none"/>
<rect x="459.44" y="85.8" width="3.39" height="38.3" fill="#53789f" stroke="#3f3f3f" stroke-width="0.9"/>
<path d="M459.44 105.4H462.83" stroke="#3f3f3f" stroke-width="0.9"/>
<path d="M464.52 130.1V123.4M463.67 123.4H465.37M464.52 141.5V145.2M463.67 145.2H465.37" stroke="#3f3f3f" stroke-width="0.9" fill="none"/>
<rect x="462.83" y="130.1" width="3.39" height="11.4" fill="#bf3320" stroke="#3f3f3f" stroke-width="0.9"/>
<path d="M462.83 135.8H466.21" stroke="#3f3f3f" stroke-width="0.9"/>
<path d="M472.15 74.3V72.4M471.3 72.4H472.99M472.15 116.1V131.3M471.3 131.3H472.99" stroke="#3f3f3f" stroke-width="0.9" fill="none"/>
<rect x="470.45" y="74.3" width="3.39" height="41.8" fill="#e2a22b" stroke="#3f3f3f" stroke-width="0.9"/>
<path d="M470.45 93.3H473.84" stroke="#3f3f3f" stroke-width="0.9"/>
<path d="M475.54 105.4V104M474.69 104H476.38M475.54 121.8V132.9M474.69 132.9H476.38" stroke="#3f3f3f" stroke-width="0.9" fill="none"/>
<rect x="473.84" y="105.4" width="3.39" height="16.4" fill="#2aa39a" stroke="#3f3f3f" stroke-width="0.9"/>
<path d="M473.84 112.5H477.23" stroke="#3f3f3f" stroke-width="0.9"/>
<path d="M478.93 112V109.5M478.08 109.5H479.77M478.93 126.3V133.9M478.08 133.9H479.77" stroke="#3f3f3f" stroke-width="0.9" fill="none"/>
<rect x="477.23" y="112" width="3.39" height="14.3" fill="#d3661f" stroke="#3f3f3f" stroke-width="0.9"/>
<path d="M477.23 118.4H480.62" stroke="#3f3f3f" stroke-width="0.9"/>
<path d="M482.31 81.2V77.4M481.47 77.4H483.16M482.31 116.3V132.4M481.47 132.4H483.16" stroke="#3f3f3f" stroke-width="0.9" fill="none"/>
<rect x="480.62" y="81.2" width="3.39" height="35.1" fill="#53789f" stroke="#3f3f3f" stroke-width="0.9"/>
<path d="M480.62 96.4H484.01" stroke="#3f3f3f" stroke-width="0.9"/>
<path d="M485.7 126.3V124.7M484.86 124.7H486.55M485.7 136.7V144.3M484.86 144.3H486.55" stroke="#3f3f3f" stroke-width="0.9" fill="none"/>
<rect x="484.01" y="126.3" width="3.39" height="10.4" fill="#bf3320" stroke="#3f3f3f" stroke-width="0.9"/>
<path d="M484.01 130.4H487.4" stroke="#3f3f3f" stroke-width="0.9"/>
<path d="M493.33 67.2V23.6M492.48 23.6H494.18M493.33 118.7V130.4M492.48 130.4H494.18" stroke="#3f3f3f" stroke-width="0.9" fill="none"/>
<rect x="491.64" y="67.2" width="3.39" height="51.5" fill="#e2a22b" stroke="#3f3f3f" stroke-width="0.9"/>
<path d="M491.64 98.3H495.02" stroke="#3f3f3f" stroke-width="0.9"/>
<path d="M496.72 108.2V105M495.87 105H497.57M496.72 125.3V135.1M495.87 135.1H497.57" stroke="#3f3f3f" stroke-width="0.9" fill="none"/>
<rect x="495.02" y="108.2" width="3.39" height="17.1" fill="#2aa39a" stroke="#3f3f3f" stroke-width="0.9"/>
<path d="M495.02 119.3H498.41" stroke="#3f3f3f" stroke-width="0.9"/>
<path d="M496.72 78.9L498.02 80.9L496.72 82.9L495.42 80.9Z" fill="#3f3f3f"/>
<path d="M500.11 114.2V92.1M499.26 92.1H500.96M500.11 128.6V135.3M499.26 135.3H500.96" stroke="#3f3f3f" stroke-width="0.9" fill="none"/>
<rect x="498.41" y="114.2" width="3.39" height="14.4" fill="#d3661f" stroke="#3f3f3f" stroke-width="0.9"/>
<path d="M498.41 123.9H501.8" stroke="#3f3f3f" stroke-width="0.9"/>
<path d="M503.5 77.9V59.8M502.65 59.8H504.35M503.5 117.3V131.5M502.65 131.5H504.35" stroke="#3f3f3f" stroke-width="0.9" fill="none"/>
<rect x="501.8" y="77.9" width="3.39" height="39.4" fill="#53789f" stroke="#3f3f3f" stroke-width="0.9"/>
<path d="M501.8 98.3H505.19" stroke="#3f3f3f" stroke-width="0.9"/>
<path d="M506.89 129.8V118.4M506.04 118.4H507.73M506.89 138.1V144.3M506.04 144.3H507.73" stroke="#3f3f3f" stroke-width="0.9" fill="none"/>
<rect x="505.19" y="129.8" width="3.39" height="8.3" fill="#bf3320" stroke="#3f3f3f" stroke-width="0.9"/>
<path d="M505.19 134.3H508.58" stroke="#3f3f3f" stroke-width="0.9"/>
<rect x="383.6" y="17.4" width="127.1" height="134.1" fill="none" stroke="#3b3b3b" stroke-width="1.0"/>
<line x1="380.6" y1="120.95" x2="383.6" y2="120.95" stroke="#3b3b3b" stroke-width="0.9"/>
<text x="376.3" y="123.87" font-size="8.1" text-anchor="end" fill="#262626" stroke="#262626">0.02</text>
<line x1="380.6" y1="88.8" x2="383.6" y2="88.8" stroke="#3b3b3b" stroke-width="0.9"/>
<text x="376.3" y="91.72" font-size="8.1" text-anchor="end" fill="#262626" stroke="#262626">0.04</text>
<line x1="380.6" y1="56.65" x2="383.6" y2="56.65" stroke="#3b3b3b" stroke-width="0.9"/>
<text x="376.3" y="59.57" font-size="8.1" text-anchor="end" fill="#262626" stroke="#262626">0.06</text>
<line x1="380.6" y1="24.5" x2="383.6" y2="24.5" stroke="#3b3b3b" stroke-width="0.9"/>
<text x="376.3" y="27.42" font-size="8.1" text-anchor="end" fill="#262626" stroke="#262626">0.08</text>
<line x1="394.19" y1="151.5" x2="394.19" y2="154.5" stroke="#3b3b3b" stroke-width="0.9"/>
<text x="394.19" y="164.7" font-size="8.1" text-anchor="middle" fill="#262626" stroke="#262626">2</text>
<line x1="415.38" y1="151.5" x2="415.38" y2="154.5" stroke="#3b3b3b" stroke-width="0.9"/>
<text x="415.38" y="164.7" font-size="8.1" text-anchor="middle" fill="#262626" stroke="#262626">3</text>
<line x1="436.56" y1="151.5" x2="436.56" y2="154.5" stroke="#3b3b3b" stroke-width="0.9"/>
<text x="436.56" y="164.7" font-size="8.1" text-anchor="middle" fill="#262626" stroke="#262626">4</text>
<line x1="457.74" y1="151.5" x2="457.74" y2="154.5" stroke="#3b3b3b" stroke-width="0.9"/>
<text x="457.74" y="164.7" font-size="8.1" text-anchor="middle" fill="#262626" stroke="#262626">5</text>
<line x1="478.93" y1="151.5" x2="478.93" y2="154.5" stroke="#3b3b3b" stroke-width="0.9"/>
<text x="478.93" y="164.7" font-size="8.1" text-anchor="middle" fill="#262626" stroke="#262626">6</text>
<line x1="500.11" y1="151.5" x2="500.11" y2="154.5" stroke="#3b3b3b" stroke-width="0.9"/>
<text x="500.11" y="164.7" font-size="8.1" text-anchor="middle" fill="#262626" stroke="#262626">&gt;=7</text>
<text x="447.15" y="175" font-size="9.5" text-anchor="middle" fill="#262626" stroke="#262626">The length of homopolymer</text>
<text transform="translate(354.9,84.45) rotate(-90)" font-size="9.5" text-anchor="middle" fill="#262626" stroke="#262626">Proportion of mismatch error</text>
<path d="M560.63 128.4V128M559.78 128H561.48M560.63 135.4V139.3M559.78 139.3H561.48" stroke="#3f3f3f" stroke-width="0.9" fill="none"/>
<rect x="558.93" y="128.4" width="3.4" height="7" fill="#e2a22b" stroke="#3f3f3f" stroke-width="0.9"/>
<path d="M558.93 133.2H562.33" stroke="#3f3f3f" stroke-width="0.9"/>
<path d="M560.63 113.6L561.93 115.6L560.63 117.6L559.33 115.6Z" fill="#3f3f3f"/>
<path d="M564.03 134.1V133.8M563.18 133.8H564.88M564.03 138.9V141.2M563.18 141.2H564.88" stroke="#3f3f3f" stroke-width="0.9" fill="none"/>
<rect x="562.33" y="134.1" width="3.4" height="4.8" fill="#2aa39a" stroke="#3f3f3f" stroke-width="0.9"/>
<path d="M562.33 136H565.73" stroke="#3f3f3f" stroke-width="0.9"/>
<path d="M564.03 124.1L565.33 126.1L564.03 128.1L562.73 126.1Z" fill="#3f3f3f"/>
<path d="M567.43 135.5V135.2M566.58 135.2H568.28M567.43 138.4V139.5M566.58 139.5H568.28" stroke="#3f3f3f" stroke-width="0.9" fill="none"/>
<rect x="565.73" y="135.5" width="3.4" height="2.9" fill="#d3661f" stroke="#3f3f3f" stroke-width="0.9"/>
<path d="M565.73 136.5H569.13" stroke="#3f3f3f" stroke-width="0.9"/>
<path d="M567.43 127.8L568.73 129.8L567.43 131.8L566.13 129.8Z" fill="#3f3f3f"/>
<path d="M570.84 133.2V132.9M569.99 132.9H571.69M570.84 137.4V139.3M569.99 139.3H571.69" stroke="#3f3f3f" stroke-width="0.9" fill="none"/>
<rect x="569.13" y="133.2" width="3.4" height="4.2" fill="#53789f" stroke="#3f3f3f" stroke-width="0.9"/>
<path d="M569.13 136H572.54" stroke="#3f3f3f" stroke-width="0.9"/>
<path d="M570.84 123.6L572.14 125.6L570.84 127.6L569.54 125.6Z" fill="#3f3f3f"/>
<path d="M574.24 142.7V140.3M573.39 140.3H575.09M574.24 145V145.5M573.39 145.5H575.09" stroke="#3f3f3f" stroke-width="0.9" fill="none"/>
<rect x="572.54" y="142.7" width="3.4" height="2.3" fill="#bf3320" stroke="#3f3f3f" stroke-width="0.9"/>
<path d="M572.54 143.8H575.94" stroke="#3f3f3f" stroke-width="0.9"/>
<path d="M581.89 123.4V123M581.04 123H582.75M581.89 130.8V131.2M581.04 131.2H582.75" stroke="#3f3f3f" stroke-width="0.9" fill="none"/>
<rect x="580.19" y="123.4" width="3.4" height="7.4" fill="#e2a22b" stroke="#3f3f3f" stroke-width="0.9"/>
<path d="M580.19 128.4H583.6" stroke="#3f3f3f" stroke-width="0.9"/>
<path d="M581.89 109.1L583.19 111.1L581.89 113.1L580.59 111.1Z" fill="#3f3f3f"/>
<path d="M585.3 132.2V131.9M584.45 131.9H586.15M585.3 135.5V135.9M584.45 135.9H586.15" stroke="#3f3f3f" stroke-width="0.9" fill="none"/>
<rect x="583.6" y="132.2" width="3.4" height="3.3" fill="#2aa39a" stroke="#3f3f3f" stroke-width="0.9"/>
<path d="M583.6 133.6H587" stroke="#3f3f3f" stroke-width="0.9"/>
<path d="M585.3 120.7L586.6 122.7L585.3 124.7L584 122.7Z" fill="#3f3f3f"/>
<path d="M588.7 131.6V127.2M587.85 127.2H589.55M588.7 135.4V135.8M587.85 135.8H589.55" stroke="#3f3f3f" stroke-width="0.9" fill="none"/>
<rect x="587" y="131.6" width="3.4" height="3.8" fill="#d3661f" stroke="#3f3f3f" stroke-width="0.9"/>
<path d="M587 133.2H590.4" stroke="#3f3f3f" stroke-width="0.9"/>
<path d="M592.1 127.8V127.5M591.25 127.5H592.95M592.1 131.7V137.4M591.25 137.4H592.95" stroke="#3f3f3f" stroke-width="0.9" fill="none"/>
<rect x="590.4" y="127.8" width="3.4" height="3.9" fill="#53789f" stroke="#3f3f3f" stroke-width="0.9"/>
<path d="M590.4 129.8H593.8" stroke="#3f3f3f" stroke-width="0.9"/>
<path d="M592.1 119.8L593.4 121.8L592.1 123.8L590.8 121.8Z" fill="#3f3f3f"/>
<path d="M595.51 142.4V142.1M594.65 142.1H596.36M595.51 144.3V144.6M594.65 144.6H596.36" stroke="#3f3f3f" stroke-width="0.9" fill="none"/>
<rect x="593.8" y="142.4" width="3.4" height="1.9" fill="#bf3320" stroke="#3f3f3f" stroke-width="0.9"/>
<path d="M593.8 143.4H597.21" stroke="#3f3f3f" stroke-width="0.9"/>
<path d="M595.51 137.1L596.81 139.1L595.51 141.1L594.21 139.1Z" fill="#3f3f3f"/>
<path d="M603.16 105V93.6M602.31 93.6H604.01M603.16 120.2V124.6M602.31 124.6H604.01" stroke="#3f3f3f" stroke-width="0.9" fill="none"/>
<rect x="601.46" y="105" width="3.4" height="15.2" fill="#e2a22b" stroke="#3f3f3f" stroke-width="0.9"/>
<path d="M601.46 113H604.86" stroke="#3f3f3f" stroke-width="0.9"/>
<path d="M606.56 123.4V123.1M605.71 123.1H607.41M606.56 130.3V130.7M605.71 130.7H607.41" stroke="#3f3f3f" stroke-width="0.9" fill="none"/>
<rect x="604.86" y="123.4" width="3.4" height="6.9" fill="#2aa39a" stroke="#3f3f3f" stroke-width="0.9"/>
<path d="M604.86 127.2H608.27" stroke="#3f3f3f" stroke-width="0.9"/>
<path d="M606.56 110L607.86 112L606.56 114L605.26 112Z" fill="#3f3f3f"/>
<path d="M609.97 122.7V118.3M609.12 118.3H610.82M609.97 131V131.4M609.12 131.4H610.82" stroke="#3f3f3f" stroke-width="0.9" fill="none"/>
<rect x="608.27" y="122.7" width="3.4" height="8.3" fill="#d3661f" stroke="#3f3f3f" stroke-width="0.9"/>
<path d="M608.27 128H611.67" stroke="#3f3f3f" stroke-width="0.9"/>
<path d="M613.37 114.2V111.3M612.52 111.3H614.22M613.37 126.8V129.8M612.52 129.8H614.22" stroke="#3f3f3f" stroke-width="0.9" fill="none"/>
<rect x="611.67" y="114.2" width="3.4" height="12.6" fill="#53789f" stroke="#3f3f3f" stroke-width="0.9"/>
<path d="M611.67 120.2H615.07" stroke="#3f3f3f" stroke-width="0.9"/>
<path d="M616.77 140.3V140M615.92 140H617.62M616.77 142.7V143M615.92 143H617.62" stroke="#3f3f3f" stroke-width="0.9" fill="none"/>
<rect x="615.07" y="140.3" width="3.4" height="2.4" fill="#bf3320" stroke="#3f3f3f" stroke-width="0.9"/>
<path d="M615.07 141.5H618.47" stroke="#3f3f3f" stroke-width="0.9"/>
<path d="M616.77 133.1L618.07 135.1L616.77 137.1L615.47 135.1Z" fill="#3f3f3f"/>
<path d="M624.43 84V82.6M623.58 82.6H625.28M624.43 97.3V111.2M623.58 111.2H625.28" stroke="#3f3f3f" stroke-width="0.9" fill="none"/>
<rect x="622.73" y="84" width="3.4" height="13.3" fill="#e2a22b" stroke="#3f3f3f" stroke-width="0.9"/>
<path d="M622.73 88.8H626.13" stroke="#3f3f3f" stroke-width="0.9"/>
<path d="M627.83 112.5V102.5M626.98 102.5H628.68M627.83 119.6V123.9M626.98 123.9H628.68" stroke="#3f3f3f" stroke-width="0.9" fill="none"/>
<rect x="626.13" y="112.5" width="3.4" height="7.1" fill="#2aa39a" stroke="#3f3f3f" stroke-width="0.9"/>
<path d="M626.13 116.3H629.53" stroke="#3f3f3f" stroke-width="0.9"/>
<path d="M631.23 112.8V112.5M630.38 112.5H632.08M631.23 122.4V125.3M630.38 125.3H632.08" stroke="#3f3f3f" stroke-width="0.9" fill="none"/>
<rect x="629.53" y="112.8" width="3.4" height="9.6" fill="#d3661f" stroke="#3f3f3f" stroke-width="0.9"/>
<path d="M629.53 117.7H632.93" stroke="#3f3f3f" stroke-width="0.9"/>
<path d="M634.64 101.4V98.5M633.79 98.5H635.49M634.64 111.2V119.4M633.79 119.4H635.49" stroke="#3f3f3f" stroke-width="0.9" fill="none"/>
<rect x="632.93" y="101.4" width="3.4" height="9.8" fill="#53789f" stroke="#3f3f3f" stroke-width="0.9"/>
<path d="M632.93 105.5H636.34" stroke="#3f3f3f" stroke-width="0.9"/>
<path d="M638.04 135V130.5M637.19 130.5H638.89M638.04 138.6V139M637.19 139H638.89" stroke="#3f3f3f" stroke-width="0.9" fill="none"/>
<rect x="636.34" y="135" width="3.4" height="3.6" fill="#bf3320" stroke="#3f3f3f" stroke-width="0.9"/>
<path d="M636.34 136.8H639.74" stroke="#3f3f3f" stroke-width="0.9"/>
<path d="M645.69 61.3V57.5M644.84 57.5H646.55M645.69 82.1V97.3M644.84 97.3H646.55" stroke="#3f3f3f" stroke-width="0.9" fill="none"/>
<rect x="643.99" y="61.3" width="3.4" height="20.8" fill="#e2a22b" stroke="#3f3f3f" stroke-width="0.9"/>
<path d="M643.99 70.5H647.4" stroke="#3f3f3f" stroke-width="0.9"/>
<path d="M649.1 97.3V95.4M648.25 95.4H649.95M649.1 106.1V109.3M648.25 109.3H649.95" stroke="#3f3f3f" stroke-width="0.9" fill="none"/>
<rect x="647.4" y="97.3" width="3.4" height="8.8" fill="#2aa39a" stroke="#3f3f3f" stroke-width="0.9"/>
<path d="M647.4 101.8H650.8" stroke="#3f3f3f" stroke-width="0.9"/>
<path d="M652.5 100.4V94.5M651.65 94.5H653.35M652.5 112.5V112.9M651.65 112.9H653.35" stroke="#3f3f3f" stroke-width="0.9" fill="none"/>
<rect x="650.8" y="100.4" width="3.4" height="12.1" fill="#d3661f" stroke="#3f3f3f" stroke-width="0.9"/>
<path d="M650.8 107.3H654.2" stroke="#3f3f3f" stroke-width="0.9"/>
<path d="M655.9 75.8V75.5M655.05 75.5H656.75M655.9 98.2V110.6M655.05 110.6H656.75" stroke="#3f3f3f" stroke-width="0.9" fill="none"/>
<rect x="654.2" y="75.8" width="3.4" height="22.4" fill="#53789f" stroke="#3f3f3f" stroke-width="0.9"/>
<path d="M654.2 85.4H657.6" stroke="#3f3f3f" stroke-width="0.9"/>
<path d="M659.31 129.3V127.4M658.45 127.4H660.16M659.31 131.9V132.3M658.45 132.3H660.16" stroke="#3f3f3f" stroke-width="0.9" fill="none"/>
<rect x="657.6" y="129.3" width="3.4" height="2.6" fill="#bf3320" stroke="#3f3f3f" stroke-width="0.9"/>
<path d="M657.6 130.6H661.01" stroke="#3f3f3f" stroke-width="0.9"/>
<path d="M659.31 135.1L660.61 137.1L659.31 139.1L658.01 137.1Z" fill="#3f3f3f"/>
<path d="M666.96 37.4V23.6M666.11 23.6H667.81M666.96 52.1V65.4M666.11 65.4H667.81" stroke="#3f3f3f" stroke-width="0.9" fill="none"/>
<rect x="665.26" y="37.4" width="3.4" height="14.7" fill="#e2a22b" stroke="#3f3f3f" stroke-width="0.9"/>
<path d="M665.26 44.5H668.66" stroke="#3f3f3f" stroke-width="0.9"/>
<path d="M670.36 89.2V83.5M669.51 83.5H671.21M670.36 96.8V97.2M669.51 97.2H671.21" stroke="#3f3f3f" stroke-width="0.9" fill="none"/>
<rect x="668.66" y="89.2" width="3.4" height="7.6" fill="#2aa39a" stroke="#3f3f3f" stroke-width="0.9"/>
<path d="M668.66 92.6H672.07" stroke="#3f3f3f" stroke-width="0.9"/>
<path d="M673.77 88.5V82.8M672.92 82.8H674.62M673.77 96.1V102.7M672.92 102.7H674.62" stroke="#3f3f3f" stroke-width="0.9" fill="none"/>
<rect x="672.07" y="88.5" width="3.4" height="7.6" fill="#d3661f" stroke="#3f3f3f" stroke-width="0.9"/>
<path d="M672.07 92.1H675.47" stroke="#3f3f3f" stroke-width="0.9"/>
<path d="M677.17 48.7V30.9M676.32 30.9H678.02M677.17 70.3V78.8M676.32 78.8H678.02" stroke="#3f3f3f" stroke-width="0.9" fill="none"/>
<rect x="675.47" y="48.7" width="3.4" height="21.6" fill="#53789f" stroke="#3f3f3f" stroke-width="0.9"/>
<path d="M675.47 61.3H678.87" stroke="#3f3f3f" stroke-width="0.9"/>
<path d="M680.57 121V117.2M679.72 117.2H681.42M680.57 126.2V126.6M679.72 126.6H681.42" stroke="#3f3f3f" stroke-width="0.9" fill="none"/>
<rect x="678.87" y="121" width="3.4" height="5.2" fill="#bf3320" stroke="#3f3f3f" stroke-width="0.9"/>
<path d="M678.87 123H682.27" stroke="#3f3f3f" stroke-width="0.9"/>
<rect x="556.8" y="17.4" width="127.6" height="134.1" fill="none" stroke="#3b3b3b" stroke-width="1.0"/>
<line x1="553.8" y1="150.7" x2="556.8" y2="150.7" stroke="#3b3b3b" stroke-width="0.9"/>
<text x="549.5" y="153.62" font-size="8.1" text-anchor="end" fill="#262626" stroke="#262626">0.00</text>
<line x1="553.8" y1="130.8" x2="556.8" y2="130.8" stroke="#3b3b3b" stroke-width="0.9"/>
<text x="549.5" y="133.72" font-size="8.1" text-anchor="end" fill="#262626" stroke="#262626">0.05</text>
<line x1="553.8" y1="110.9" x2="556.8" y2="110.9" stroke="#3b3b3b" stroke-width="0.9"/>
<text x="549.5" y="113.82" font-size="8.1" text-anchor="end" fill="#262626" stroke="#262626">0.10</text>
<line x1="553.8" y1="91" x2="556.8" y2="91" stroke="#3b3b3b" stroke-width="0.9"/>
<text x="549.5" y="93.92" font-size="8.1" text-anchor="end" fill="#262626" stroke="#262626">0.15</text>
<line x1="553.8" y1="71.1" x2="556.8" y2="71.1" stroke="#3b3b3b" stroke-width="0.9"/>
<text x="549.5" y="74.02" font-size="8.1" text-anchor="end" fill="#262626" stroke="#262626">0.20</text>
<line x1="553.8" y1="51.2" x2="556.8" y2="51.2" stroke="#3b3b3b" stroke-width="0.9"/>
<text x="549.5" y="54.12" font-size="8.1" text-anchor="end" fill="#262626" stroke="#262626">0.25</text>
<line x1="553.8" y1="31.3" x2="556.8" y2="31.3" stroke="#3b3b3b" stroke-width="0.9"/>
<text x="549.5" y="34.22" font-size="8.1" text-anchor="end" fill="#262626" stroke="#262626">0.30</text>
<line x1="567.43" y1="151.5" x2="567.43" y2="154.5" stroke="#3b3b3b" stroke-width="0.9"/>
<text x="567.43" y="164.7" font-size="8.1" text-anchor="middle" fill="#262626" stroke="#262626">2</text>
<line x1="588.7" y1="151.5" x2="588.7" y2="154.5" stroke="#3b3b3b" stroke-width="0.9"/>
<text x="588.7" y="164.7" font-size="8.1" text-anchor="middle" fill="#262626" stroke="#262626">3</text>
<line x1="609.97" y1="151.5" x2="609.97" y2="154.5" stroke="#3b3b3b" stroke-width="0.9"/>
<text x="609.97" y="164.7" font-size="8.1" text-anchor="middle" fill="#262626" stroke="#262626">4</text>
<line x1="631.23" y1="151.5" x2="631.23" y2="154.5" stroke="#3b3b3b" stroke-width="0.9"/>
<text x="631.23" y="164.7" font-size="8.1" text-anchor="middle" fill="#262626" stroke="#262626">5</text>
<line x1="652.5" y1="151.5" x2="652.5" y2="154.5" stroke="#3b3b3b" stroke-width="0.9"/>
<text x="652.5" y="164.7" font-size="8.1" text-anchor="middle" fill="#262626" stroke="#262626">6</text>
<line x1="673.77" y1="151.5" x2="673.77" y2="154.5" stroke="#3b3b3b" stroke-width="0.9"/>
<text x="673.77" y="164.7" font-size="8.1" text-anchor="middle" fill="#262626" stroke="#262626">&gt;=7</text>
<text x="620.6" y="175" font-size="9.5" text-anchor="middle" fill="#262626" stroke="#262626">The length of homopolymer</text>
<text transform="translate(528.1,84.45) rotate(-90)" font-size="9.5" text-anchor="middle" fill="#262626" stroke="#262626">Proportion of deletion error</text>
<rect x="181.5" y="0.7" width="319.3" height="13.5" rx="1.5" fill="#ffffff" fill-opacity="0.8" stroke="#d6d6d6" stroke-width="0.8"/>
<rect x="184.3" y="3.9" width="16.5" height="5.7" fill="#e2a22b" stroke="#3f3f3f" stroke-width="0.5"/>
<text x="207.7" y="10" font-size="8.0" text-anchor="start" fill="#262626" stroke="#262626">Guppy</text>
<rect x="247.6" y="3.9" width="16.5" height="5.7" fill="#2aa39a" stroke="#3f3f3f" stroke-width="0.5"/>
<text x="271" y="10" font-size="8.0" text-anchor="start" fill="#262626" stroke="#262626">RODAN</text>
<rect x="316.2" y="3.9" width="16.5" height="5.7" fill="#d3661f" stroke="#3f3f3f" stroke-width="0.5"/>
<text x="339.6" y="10" font-size="8.0" text-anchor="start" fill="#262626" stroke="#262626">GCRTcall</text>
<rect x="390" y="3.9" width="16.5" height="5.7" fill="#53789f" stroke="#3f3f3f" stroke-width="0.5"/>
<text x="413.4" y="10" font-size="8.0" text-anchor="start" fill="#262626" stroke="#262626">Dorado</text>
<rect x="456.2" y="3.9" width="16.5" height="5.7" fill="#bf3320" stroke="#3f3f3f" stroke-width="0.5"/>
<text x="479.6" y="10" font-size="8.0" text-anchor="start" fill="#262626" stroke="#262626">Coral</text>
<path d="M90.3 258.6L48.63 224.25A54.0 54.0 0 1 0 134.11 227.03Z" fill="#a1c9f4" stroke="#ffffff" stroke-width="1.0" stroke-linejoin="round"/>
<path d="M90.3 258.6L134.11 227.03A54.0 54.0 0 0 0 74.69 206.91Z" fill="#ffb482" stroke="#ffffff" stroke-width="1.0" stroke-linejoin="round"/>
<path d="M90.3 258.6L74.69 206.91A54.0 54.0 0 0 0 55.57 217.25Z" fill="#8de5a1" stroke="#ffffff" stroke-width="1.0" stroke-linejoin="round"/>
<path d="M90.3 258.6L55.57 217.25A54.0 54.0 0 0 0 48.63 224.25Z" fill="#ff9f9b" stroke="#ffffff" stroke-width="1.0" stroke-linejoin="round"/>
<text x="88.5" y="294" font-size="9.4" text-anchor="middle" fill="#262626" stroke="#262626">70.91%</text>
<text x="106.9" y="230.6" font-size="9.4" text-anchor="middle" fill="#262626" stroke="#262626">19.73%</text>
<text x="74.2" y="225.9" font-size="9.4" text-anchor="middle" fill="#262626" stroke="#262626">6.45%</text>
<text x="66.6" y="238.2" font-size="9.4" text-anchor="middle" fill="#262626" stroke="#262626">2.91%</text>
<rect x="1.4" y="305.4" width="176.6" height="27.2" rx="1.5" fill="#ffffff" fill-opacity="0.8" stroke="#d6d6d6" stroke-width="0.8"/>
<text x="89.7" y="315.8" font-size="9.45" text-anchor="middle" fill="#262626" stroke="#262626">The length of homopolymer</text>
<rect x="5.0" y="322.9" width="15" height="4.1" fill="#a1c9f4"/>
<text x="27.2" y="327.9" font-size="8.3" text-anchor="start" fill="#262626" stroke="#262626">2</text>
<rect x="48.5" y="322.9" width="15" height="4.1" fill="#ffb482"/>
<text x="70.7" y="327.9" font-size="8.3" text-anchor="start" fill="#262626" stroke="#262626">3</text>
<rect x="92.4" y="322.9" width="15" height="4.1" fill="#8de5a1"/>
<text x="114.6" y="327.9" font-size="8.3" text-anchor="start" fill="#262626" stroke="#262626">4</text>
<rect x="136.5" y="322.9" width="15" height="4.1" fill="#ff9f9b"/>
<text x="158.7" y="327.9" font-size="8.3" text-anchor="start" fill="#262626" stroke="#262626">&gt;= 5</text>
<path d="M236 321.3C237.41 319.37 242.12 315.2 244.47 309.75C246.83 304.29 248.48 294.33 250.12 288.56C251.77 282.79 252.95 277.26 254.36 275.14C255.77 273.02 256.95 274.79 258.6 275.85C260.25 276.91 261.89 279.14 264.25 281.5C266.6 283.85 269.66 286.91 272.72 289.97C275.78 293.03 279.31 296.8 282.61 299.86C285.91 302.92 288.97 305.98 292.5 308.33C296.03 310.69 299.89 312.45 303.8 313.98C307.7 315.51 310.76 316.45 315.94 317.51C321.12 318.57 325.83 319.75 334.87 320.34C343.91 320.93 364.3 320.93 370.18 321.05L370.18 321.3L236 321.3Z" fill="#e866f4" fill-opacity="0.3" stroke="none"/>
<path d="M236 321.3C237.41 319.37 242.12 315.2 244.47 309.75C246.83 304.29 248.48 294.33 250.12 288.56C251.77 282.79 252.95 277.26 254.36 275.14C255.77 273.02 256.95 274.79 258.6 275.85C260.25 276.91 261.89 279.14 264.25 281.5C266.6 283.85 269.66 286.91 272.72 289.97C275.78 293.03 279.31 296.8 282.61 299.86C285.91 302.92 288.97 305.98 292.5 308.33C296.03 310.69 299.89 312.45 303.8 313.98C307.7 315.51 310.76 316.45 315.94 317.51C321.12 318.57 325.83 319.75 334.87 320.34C343.91 320.93 364.3 320.93 370.18 321.05" fill="none" stroke="#e866f4" stroke-width="1.25"/>
<path d="M236 321.3C236.94 318.43 239.77 310.73 241.65 304.1C243.53 297.46 245.42 287.62 247.3 281.5C249.18 275.38 251.3 270.67 252.95 267.37C254.6 264.08 256.01 262.55 257.19 261.72C258.36 260.9 259.19 261.49 260.01 262.43C260.84 263.37 261.42 265.37 262.13 267.37C262.84 269.37 263.54 274.44 264.25 274.44C264.95 274.44 265.71 269.21 266.37 267.37C267.03 265.54 267.61 263.42 268.2 263.42C268.79 263.42 269.26 263.89 269.9 267.37C270.53 270.86 271.31 279.38 272.02 284.32C272.72 289.27 273.08 294.44 274.14 297.03C275.19 299.62 276.96 298.92 278.37 299.86C279.79 300.8 281.2 301.62 282.61 302.68C284.02 303.74 285.2 305.39 286.85 306.21C288.5 307.04 290.61 306.8 292.5 307.63C294.38 308.45 295.79 309.86 298.15 311.16C300.5 312.45 303.66 314.1 306.62 315.4C309.59 316.69 311.24 318.03 315.94 318.93C320.65 319.82 325.83 320.39 334.87 320.76C343.91 321.14 364.3 321.12 370.18 321.19L370.18 321.3L236 321.3Z" fill="#3ba3ec" fill-opacity="0.3" stroke="none"/>
<path d="M236 321.3C236.94 318.43 239.77 310.73 241.65 304.1C243.53 297.46 245.42 287.62 247.3 281.5C249.18 275.38 251.3 270.67 252.95 267.37C254.6 264.08 256.01 262.55 257.19 261.72C258.36 260.9 259.19 261.49 260.01 262.43C260.84 263.37 261.42 265.37 262.13 267.37C262.84 269.37 263.54 274.44 264.25 274.44C264.95 274.44 265.71 269.21 266.37 267.37C267.03 265.54 267.61 263.42 268.2 263.42C268.79 263.42 269.26 263.89 269.9 267.37C270.53 270.86 271.31 279.38 272.02 284.32C272.72 289.27 273.08 294.44 274.14 297.03C275.19 299.62 276.96 298.92 278.37 299.86C279.79 300.8 281.2 301.62 282.61 302.68C284.02 303.74 285.2 305.39 286.85 306.21C288.5 307.04 290.61 306.8 292.5 307.63C294.38 308.45 295.79 309.86 298.15 311.16C300.5 312.45 303.66 314.1 306.62 315.4C309.59 316.69 311.24 318.03 315.94 318.93C320.65 319.82 325.83 320.39 334.87 320.76C343.91 321.14 364.3 321.12 370.18 321.19" fill="none" stroke="#3ba3ec" stroke-width="1.25"/>
<path d="M236 316.81C236.47 314.69 237.77 309.98 238.82 304.1C239.88 298.21 241.18 289.27 242.36 281.5C243.53 273.73 244.71 262.9 245.89 257.49C247.06 252.07 248.48 249.84 249.42 249.01C250.36 248.19 250.71 250.42 251.54 252.54C252.36 254.66 253.42 258.55 254.36 261.72C255.3 264.9 256.13 267.84 257.19 271.61C258.25 275.38 259.54 280.79 260.72 284.32C261.89 287.85 262.95 290.21 264.25 292.8C265.54 295.39 267.07 297.98 268.49 299.86C269.9 301.74 271.08 302.45 272.72 304.1C274.37 305.74 276.25 308.1 278.37 309.75C280.49 311.39 283.08 312.81 285.44 313.98C287.79 315.16 287.41 315.75 292.5 316.81C297.58 317.87 308.88 319.63 315.94 320.34C323.01 321.05 325.83 320.9 334.87 321.05C343.91 321.19 364.3 321.16 370.18 321.19L370.18 321.3L236 321.3Z" fill="#36ada4" fill-opacity="0.3" stroke="none"/>
<path d="M236 316.81C236.47 314.69 237.77 309.98 238.82 304.1C239.88 298.21 241.18 289.27 242.36 281.5C243.53 273.73 244.71 262.9 245.89 257.49C247.06 252.07 248.48 249.84 249.42 249.01C250.36 248.19 250.71 250.42 251.54 252.54C252.36 254.66 253.42 258.55 254.36 261.72C255.3 264.9 256.13 267.84 257.19 271.61C258.25 275.38 259.54 280.79 260.72 284.32C261.89 287.85 262.95 290.21 264.25 292.8C265.54 295.39 267.07 297.98 268.49 299.86C269.9 301.74 271.08 302.45 272.72 304.1C274.37 305.74 276.25 308.1 278.37 309.75C280.49 311.39 283.08 312.81 285.44 313.98C287.79 315.16 287.41 315.75 292.5 316.81C297.58 317.87 308.88 319.63 315.94 320.34C323.01 321.05 325.83 320.9 334.87 321.05C343.91 321.19 364.3 321.16 370.18 321.19" fill="none" stroke="#36ada4" stroke-width="1.25"/>
<path d="M236 321.3C236.71 318.43 238.82 311.2 240.24 304.1C241.65 296.99 243.06 285.97 244.47 278.67C245.89 271.37 247.53 264.19 248.71 260.31C249.89 256.43 250.71 256.43 251.54 255.37C252.36 254.31 252.95 253.37 253.66 253.95C254.36 254.54 254.95 256.43 255.77 258.9C256.6 261.37 257.42 265.02 258.6 268.79C259.78 272.55 261.42 278.2 262.84 281.5C264.25 284.79 265.66 286.68 267.07 288.56C268.49 290.44 270.13 290.91 271.31 292.8C272.49 294.68 272.96 297.98 274.14 299.86C275.31 301.74 276.49 302.45 278.37 304.1C280.26 305.74 283.08 308.1 285.44 309.75C287.79 311.39 287.41 312.29 292.5 313.98C297.58 315.68 308.88 318.74 315.94 319.92C323.01 321.09 325.83 320.83 334.87 321.05C343.91 321.26 364.3 321.16 370.18 321.19L370.18 321.3L236 321.3Z" fill="#50b131" fill-opacity="0.3" stroke="none"/>
<path d="M236 321.3C236.71 318.43 238.82 311.2 240.24 304.1C241.65 296.99 243.06 285.97 244.47 278.67C245.89 271.37 247.53 264.19 248.71 260.31C249.89 256.43 250.71 256.43 251.54 255.37C252.36 254.31 252.95 253.37 253.66 253.95C254.36 254.54 254.95 256.43 255.77 258.9C256.6 261.37 257.42 265.02 258.6 268.79C259.78 272.55 261.42 278.2 262.84 281.5C264.25 284.79 265.66 286.68 267.07 288.56C268.49 290.44 270.13 290.91 271.31 292.8C272.49 294.68 272.96 297.98 274.14 299.86C275.31 301.74 276.49 302.45 278.37 304.1C280.26 305.74 283.08 308.1 285.44 309.75C287.79 311.39 287.41 312.29 292.5 313.98C297.58 315.68 308.88 318.74 315.94 319.92C323.01 321.09 325.83 320.83 334.87 321.05C343.91 321.26 364.3 321.16 370.18 321.19" fill="none" stroke="#50b131" stroke-width="1.25"/>
<path d="M236 321.3C236.71 319.37 238.82 315.91 240.24 309.75C241.65 303.58 243.3 293.03 244.47 284.32C245.65 275.61 246.55 265.96 247.3 257.49C248.05 249.01 248.52 241.24 248.99 233.47C249.47 225.71 249.75 217.35 250.12 210.88C250.5 204.4 250.9 196.99 251.25 194.63C251.61 192.28 251.91 193.1 252.24 196.75C252.57 200.4 252.88 209.46 253.23 216.53C253.58 223.59 253.94 232.65 254.36 239.12C254.79 245.6 255.3 252.19 255.77 255.37C256.24 258.55 256.72 256.66 257.19 258.19C257.66 259.72 258.01 261.37 258.6 264.55C259.19 267.73 260.01 273.73 260.72 277.26C261.42 280.79 262.01 282.91 262.84 285.73C263.66 288.56 264.48 292.09 265.66 294.21C266.84 296.33 268.72 297.5 269.9 298.45C271.08 299.39 271.78 298.68 272.72 299.86C273.66 301.04 274.61 303.86 275.55 305.51C276.49 307.16 276.96 308.22 278.37 309.75C279.79 311.28 282.14 313.63 284.02 314.69C285.91 315.75 288.02 315.98 289.67 316.1C291.32 316.22 292.5 315.04 293.91 315.4C295.32 315.75 296.03 317.47 298.15 318.22C300.27 318.97 303.66 319.54 306.62 319.92C309.59 320.29 311.24 320.29 315.94 320.48C320.65 320.67 325.83 320.93 334.87 321.05C343.91 321.16 364.3 321.16 370.18 321.19L370.18 321.3L236 321.3Z" fill="#bb9832" fill-opacity="0.3" stroke="none"/>
<path d="M236 321.3C236.71 319.37 238.82 315.91 240.24 309.75C241.65 303.58 243.3 293.03 244.47 284.32C245.65 275.61 246.55 265.96 247.3 257.49C248.05 249.01 248.52 241.24 248.99 233.47C249.47 225.71 249.75 217.35 250.12 210.88C250.5 204.4 250.9 196.99 251.25 194.63C251.61 192.28 251.91 193.1 252.24 196.75C252.57 200.4 252.88 209.46 253.23 216.53C253.58 223.59 253.94 232.65 254.36 239.12C254.79 245.6 255.3 252.19 255.77 255.37C256.24 258.55 256.72 256.66 257.19 258.19C257.66 259.72 258.01 261.37 258.6 264.55C259.19 267.73 260.01 273.73 260.72 277.26C261.42 280.79 262.01 282.91 262.84 285.73C263.66 288.56 264.48 292.09 265.66 294.21C266.84 296.33 268.72 297.5 269.9 298.45C271.08 299.39 271.78 298.68 272.72 299.86C273.66 301.04 274.61 303.86 275.55 305.51C276.49 307.16 276.96 308.22 278.37 309.75C279.79 311.28 282.14 313.63 284.02 314.69C285.91 315.75 288.02 315.98 289.67 316.1C291.32 316.22 292.5 315.04 293.91 315.4C295.32 315.75 296.03 317.47 298.15 318.22C300.27 318.97 303.66 319.54 306.62 319.92C309.59 320.29 311.24 320.29 315.94 320.48C320.65 320.67 325.83 320.93 334.87 321.05C343.91 321.16 364.3 321.16 370.18 321.19" fill="none" stroke="#bb9832" stroke-width="1.25"/>
<path d="M236 321.3C236.71 319.37 238.82 315.44 240.24 309.75C241.65 304.05 243.06 294.44 244.47 287.15C245.89 279.85 247.42 271.37 248.71 265.96C250.01 260.55 251.18 255.6 252.24 254.66C253.3 253.72 254.01 257.49 255.07 260.31C256.13 263.14 257.3 267.61 258.6 271.61C259.89 275.61 261.42 280.79 262.84 284.32C264.25 287.85 265.9 290.56 267.07 292.8C268.25 295.03 268.96 296.68 269.9 297.74C270.84 298.8 271.55 298.68 272.72 299.15C273.9 299.62 275.31 299.74 276.96 300.56C278.61 301.39 280.73 302.8 282.61 304.1C284.49 305.39 286.38 307.63 288.26 308.33C290.14 309.04 292.26 307.86 293.91 308.33C295.56 308.8 296.5 310.22 298.15 311.16C299.79 312.1 300.83 312.92 303.8 313.98C306.76 315.04 310.76 316.45 315.94 317.51C321.12 318.57 325.83 319.75 334.87 320.34C343.91 320.93 364.3 320.93 370.18 321.05L370.18 321.3L236 321.3Z" fill="#f77189" fill-opacity="0.3" stroke="none"/>
<path d="M236 321.3C236.71 319.37 238.82 315.44 240.24 309.75C241.65 304.05 243.06 294.44 244.47 287.15C245.89 279.85 247.42 271.37 248.71 265.96C250.01 260.55 251.18 255.6 252.24 254.66C253.3 253.72 254.01 257.49 255.07 260.31C256.13 263.14 257.3 267.61 258.6 271.61C259.89 275.61 261.42 280.79 262.84 284.32C264.25 287.85 265.9 290.56 267.07 292.8C268.25 295.03 268.96 296.68 269.9 297.74C270.84 298.8 271.55 298.68 272.72 299.15C273.9 299.62 275.31 299.74 276.96 300.56C278.61 301.39 280.73 302.8 282.61 304.1C284.49 305.39 286.38 307.63 288.26 308.33C290.14 309.04 292.26 307.86 293.91 308.33C295.56 308.8 296.5 310.22 298.15 311.16C299.79 312.1 300.83 312.92 303.8 313.98C306.76 315.04 310.76 316.45 315.94 317.51C321.12 318.57 325.83 319.75 334.87 320.34C343.91 320.93 364.3 320.93 370.18 321.05" fill="none" stroke="#f77189" stroke-width="1.25"/>
<rect x="236" y="187.4" width="134.5" height="134.1" fill="none" stroke="#3b3b3b" stroke-width="1.0"/>
<line x1="233" y1="321.3" x2="236" y2="321.3" stroke="#3b3b3b" stroke-width="0.9"/>
<text x="228.7" y="324.22" font-size="8.1" text-anchor="end" fill="#262626" stroke="#262626">0.00000</text>
<line x1="233" y1="304.37" x2="236" y2="304.37" stroke="#3b3b3b" stroke-width="0.9"/>
<text x="228.7" y="307.29" font-size="8.1" text-anchor="end" fill="#262626" stroke="#262626">0.00005</text>
<line x1="233" y1="287.44" x2="236" y2="287.44" stroke="#3b3b3b" stroke-width="0.9"/>
<text x="228.7" y="290.36" font-size="8.1" text-anchor="end" fill="#262626" stroke="#262626">0.00010</text>
<line x1="233" y1="270.51" x2="236" y2="270.51" stroke="#3b3b3b" stroke-width="0.9"/>
<text x="228.7" y="273.43" font-size="8.1" text-anchor="end" fill="#262626" stroke="#262626">0.00015</text>
<line x1="233" y1="253.58" x2="236" y2="253.58" stroke="#3b3b3b" stroke-width="0.9"/>
<text x="228.7" y="256.5" font-size="8.1" text-anchor="end" fill="#262626" stroke="#262626">0.00020</text>
<line x1="233" y1="236.65" x2="236" y2="236.65" stroke="#3b3b3b" stroke-width="0.9"/>
<text x="228.7" y="239.57" font-size="8.1" text-anchor="end" fill="#262626" stroke="#262626">0.00025</text>
<line x1="233" y1="219.72" x2="236" y2="219.72" stroke="#3b3b3b" stroke-width="0.9"/>
<text x="228.7" y="222.64" font-size="8.1" text-anchor="end" fill="#262626" stroke="#262626">0.00030</text>
<line x1="233" y1="202.79" x2="236" y2="202.79" stroke="#3b3b3b" stroke-width="0.9"/>
<text x="228.7" y="205.71" font-size="8.1" text-anchor="end" fill="#262626" stroke="#262626">0.00035</text>
<line x1="236" y1="321.5" x2="236" y2="324.5" stroke="#3b3b3b" stroke-width="0.9"/>
<text x="236" y="334.7" font-size="8.1" text-anchor="middle" fill="#262626" stroke="#262626">0</text>
<line x1="269.62" y1="321.5" x2="269.62" y2="324.5" stroke="#3b3b3b" stroke-width="0.9"/>
<text x="269.62" y="334.7" font-size="8.1" text-anchor="middle" fill="#262626" stroke="#262626">1000</text>
<line x1="303.25" y1="321.5" x2="303.25" y2="324.5" stroke="#3b3b3b" stroke-width="0.9"/>
<text x="303.25" y="334.7" font-size="8.1" text-anchor="middle" fill="#262626" stroke="#262626">2000</text>
<line x1="336.88" y1="321.5" x2="336.88" y2="324.5" stroke="#3b3b3b" stroke-width="0.9"/>
<text x="336.88" y="334.7" font-size="8.1" text-anchor="middle" fill="#262626" stroke="#262626">3000</text>
<line x1="370.5" y1="321.5" x2="370.5" y2="324.5" stroke="#3b3b3b" stroke-width="0.9"/>
<text x="370.5" y="334.7" font-size="8.1" text-anchor="middle" fill="#262626" stroke="#262626">4000</text>
<text x="303.25" y="344.8" font-size="9.5" text-anchor="middle" fill="#262626" stroke="#262626">Read length</text>
<text transform="translate(191.5,254.45) rotate(-90)" font-size="9.5" text-anchor="middle" fill="#262626" stroke="#262626">Density</text>
<rect x="293.9" y="191.1" width="72.1" height="72.1" rx="1.5" fill="#ffffff" fill-opacity="0.8" stroke="#d6d6d6" stroke-width="0.8"/>
<rect x="297.4" y="195.1" width="16.8" height="5.6" fill="#f77189" fill-opacity="0.35" stroke="#f77189" stroke-width="1.0"/>
<text x="320.7" y="201" font-size="8.0" text-anchor="start" fill="#262626" stroke="#262626">Human</text>
<rect x="297.4" y="206.62" width="16.8" height="5.6" fill="#bb9832" fill-opacity="0.35" stroke="#bb9832" stroke-width="1.0"/>
<text x="320.7" y="212.52" font-size="8.0" text-anchor="start" fill="#262626" stroke="#262626">Mouse</text>
<rect x="297.4" y="218.14" width="16.8" height="5.6" fill="#50b131" fill-opacity="0.35" stroke="#50b131" stroke-width="1.0"/>
<text x="320.7" y="224.04" font-size="8.0" text-anchor="start" fill="#262626" stroke="#262626">Poplar</text>
<rect x="297.4" y="229.66" width="16.8" height="5.6" fill="#36ada4" fill-opacity="0.35" stroke="#36ada4" stroke-width="1.0"/>
<text x="320.7" y="235.56" font-size="8.0" text-anchor="start" fill="#262626" stroke="#262626">Yeast</text>
<rect x="297.4" y="241.18" width="16.8" height="5.6" fill="#3ba3ec" fill-opacity="0.35" stroke="#3ba3ec" stroke-width="1.0"/>
<text x="320.7" y="247.08" font-size="8.0" text-anchor="start" fill="#262626" stroke="#262626">Arabidopsis</text>
<rect x="297.4" y="252.7" width="16.8" height="5.6" fill="#e866f4" fill-opacity="0.35" stroke="#e866f4" stroke-width="1.0"/>
<text x="320.7" y="258.6" font-size="8.0" text-anchor="start" fill="#262626" stroke="#262626">Zebrafish</text>
<path d="M422.15 216.1V192.6M421.27 192.6H423.03M422.15 245.7V290.3M421.27 290.3H423.03" stroke="#3f3f3f" stroke-width="0.9" fill="none"/>
<rect x="420.4" y="216.1" width="3.51" height="29.6" fill="#e2a22b" stroke="#3f3f3f" stroke-width="0.9"/>
<path d="M420.4 229.4H423.91" stroke="#3f3f3f" stroke-width="0.9"/>
<path d="M425.67 202.2V192.6M424.79 192.6H426.54M425.67 233V273.3M424.79 273.3H426.54" stroke="#3f3f3f" stroke-width="0.9" fill="none"/>
<rect x="423.91" y="202.2" width="3.51" height="30.8" fill="#2aa39a" stroke="#3f3f3f" stroke-width="0.9"/>
<path d="M423.91 217.3H427.42" stroke="#3f3f3f" stroke-width="0.9"/>
<path d="M429.18 198.5V192.6M428.3 192.6H430.06M429.18 225V261.8M428.3 261.8H430.06" stroke="#3f3f3f" stroke-width="0.9" fill="none"/>
<rect x="427.42" y="198.5" width="3.51" height="26.5" fill="#d3661f" stroke="#3f3f3f" stroke-width="0.9"/>
<path d="M427.42 207.4H430.94" stroke="#3f3f3f" stroke-width="0.9"/>
<path d="M432.69 211.2V192.6M431.81 192.6H433.57M432.69 238.5V272M431.81 272H433.57" stroke="#3f3f3f" stroke-width="0.9" fill="none"/>
<rect x="430.94" y="211.2" width="3.51" height="27.3" fill="#53789f" stroke="#3f3f3f" stroke-width="0.9"/>
<path d="M430.94 224.3H434.45" stroke="#3f3f3f" stroke-width="0.9"/>
<path d="M436.21 192.6V192.6M435.33 192.6H437.08M436.21 204.8V222.4M435.33 222.4H437.08" stroke="#3f3f3f" stroke-width="0.9" fill="none"/>
<rect x="434.45" y="192.6" width="3.51" height="12.2" fill="#bf3320" stroke="#3f3f3f" stroke-width="0.9"/>
<path d="M434.45 193H437.96" stroke="#3f3f3f" stroke-width="0.9"/>
<path d="M444.11 236.6V192.6M443.23 192.6H444.99M444.11 267.5V313.8M443.23 313.8H444.99" stroke="#3f3f3f" stroke-width="0.9" fill="none"/>
<rect x="442.35" y="236.6" width="3.51" height="30.9" fill="#e2a22b" stroke="#3f3f3f" stroke-width="0.9"/>
<path d="M442.35 250.3H445.87" stroke="#3f3f3f" stroke-width="0.9"/>
<path d="M447.62 215.4V192.6M446.75 192.6H448.5M447.62 248.6V298.2M446.75 298.2H448.5" stroke="#3f3f3f" stroke-width="0.9" fill="none"/>
<rect x="445.87" y="215.4" width="3.51" height="33.2" fill="#2aa39a" stroke="#3f3f3f" stroke-width="0.9"/>
<path d="M445.87 231.3H449.38" stroke="#3f3f3f" stroke-width="0.9"/>
<path d="M451.14 213.9V192.6M450.26 192.6H452.02M451.14 246.2V295.8M450.26 295.8H452.02" stroke="#3f3f3f" stroke-width="0.9" fill="none"/>
<rect x="449.38" y="213.9" width="3.51" height="32.3" fill="#d3661f" stroke="#3f3f3f" stroke-width="0.9"/>
<path d="M449.38 227.4H452.89" stroke="#3f3f3f" stroke-width="0.9"/>
<path d="M454.65 225V192.6M453.77 192.6H455.53M454.65 253.4V296.1M453.77 296.1H455.53" stroke="#3f3f3f" stroke-width="0.9" fill="none"/>
<rect x="452.89" y="225" width="3.51" height="28.4" fill="#53789f" stroke="#3f3f3f" stroke-width="0.9"/>
<path d="M452.89 238H456.41" stroke="#3f3f3f" stroke-width="0.9"/>
<path d="M458.16 192.6V192.6M457.29 192.6H459.04M458.16 215.4V250.4M457.29 250.4H459.04" stroke="#3f3f3f" stroke-width="0.9" fill="none"/>
<rect x="456.41" y="192.6" width="3.51" height="22.8" fill="#bf3320" stroke="#3f3f3f" stroke-width="0.9"/>
<path d="M456.41 201.4H459.92" stroke="#3f3f3f" stroke-width="0.9"/>
<path d="M466.07 240V200.3M465.19 200.3H466.95M466.07 268.8V313.4M465.19 313.4H466.95" stroke="#3f3f3f" stroke-width="0.9" fill="none"/>
<rect x="464.31" y="240" width="3.51" height="28.8" fill="#e2a22b" stroke="#3f3f3f" stroke-width="0.9"/>
<path d="M464.31 252.1H467.83" stroke="#3f3f3f" stroke-width="0.9"/>
<path d="M469.58 215.4V192.6M468.7 192.6H470.46M469.58 246.2V292.6M468.7 292.6H470.46" stroke="#3f3f3f" stroke-width="0.9" fill="none"/>
<rect x="467.83" y="215.4" width="3.51" height="30.8" fill="#2aa39a" stroke="#3f3f3f" stroke-width="0.9"/>
<path d="M467.83 229.4H471.34" stroke="#3f3f3f" stroke-width="0.9"/>
<path d="M473.1 213.5V192.6M472.22 192.6H473.97M473.1 240.7V282.8M472.22 282.8H473.97" stroke="#3f3f3f" stroke-width="0.9" fill="none"/>
<rect x="471.34" y="213.5" width="3.51" height="27.2" fill="#d3661f" stroke="#3f3f3f" stroke-width="0.9"/>
<path d="M471.34 224.7H474.85" stroke="#3f3f3f" stroke-width="0.9"/>
<path d="M476.61 232.4V196.1M475.73 196.1H477.49M476.61 257.5V296.2M475.73 296.2H477.49" stroke="#3f3f3f" stroke-width="0.9" fill="none"/>
<rect x="474.85" y="232.4" width="3.51" height="25.1" fill="#53789f" stroke="#3f3f3f" stroke-width="0.9"/>
<path d="M474.85 243.6H478.37" stroke="#3f3f3f" stroke-width="0.9"/>
<path d="M480.12 195.2V192.6M479.24 192.6H481M480.12 214.1V243.3M479.24 243.3H481" stroke="#3f3f3f" stroke-width="0.9" fill="none"/>
<rect x="478.37" y="195.2" width="3.51" height="18.9" fill="#bf3320" stroke="#3f3f3f" stroke-width="0.9"/>
<path d="M478.37 202.4H481.88" stroke="#3f3f3f" stroke-width="0.9"/>
<path d="M488.03 238V204.3M487.15 204.3H488.91M488.03 260.1V293.4M487.15 293.4H488.91" stroke="#3f3f3f" stroke-width="0.9" fill="none"/>
<rect x="486.27" y="238" width="3.51" height="22.1" fill="#e2a22b" stroke="#3f3f3f" stroke-width="0.9"/>
<path d="M486.27 247.2H489.78" stroke="#3f3f3f" stroke-width="0.9"/>
<path d="M491.54 213.7V192.6M490.66 192.6H492.42M491.54 241.1V282.8M490.66 282.8H492.42" stroke="#3f3f3f" stroke-width="0.9" fill="none"/>
<rect x="489.78" y="213.7" width="3.51" height="27.4" fill="#2aa39a" stroke="#3f3f3f" stroke-width="0.9"/>
<path d="M489.78 225.3H493.3" stroke="#3f3f3f" stroke-width="0.9"/>
<path d="M495.05 212.5V192.6M494.18 192.6H495.93M495.05 235.9V272M494.18 272H495.93" stroke="#3f3f3f" stroke-width="0.9" fill="none"/>
<rect x="493.3" y="212.5" width="3.51" height="23.4" fill="#d3661f" stroke="#3f3f3f" stroke-width="0.9"/>
<path d="M493.3 222.4H496.81" stroke="#3f3f3f" stroke-width="0.9"/>
<path d="M498.57 233.4V201.2M497.69 201.2H499.45M498.57 255.3V289.3M497.69 289.3H499.45" stroke="#3f3f3f" stroke-width="0.9" fill="none"/>
<rect x="496.81" y="233.4" width="3.51" height="21.9" fill="#53789f" stroke="#3f3f3f" stroke-width="0.9"/>
<path d="M496.81 243.6H500.32" stroke="#3f3f3f" stroke-width="0.9"/>
<path d="M502.08 195.2V192.6M501.2 192.6H502.96M502.08 211.5V236.6M501.2 236.6H502.96" stroke="#3f3f3f" stroke-width="0.9" fill="none"/>
<rect x="500.32" y="195.2" width="3.51" height="16.3" fill="#bf3320" stroke="#3f3f3f" stroke-width="0.9"/>
<path d="M500.32 200.9H503.84" stroke="#3f3f3f" stroke-width="0.9"/>
<path d="M509.99 238.8V211.8M509.11 211.8H510.86M509.99 259.2V289.3M509.11 289.3H510.86" stroke="#3f3f3f" stroke-width="0.9" fill="none"/>
<rect x="508.23" y="238.8" width="3.51" height="20.4" fill="#e2a22b" stroke="#3f3f3f" stroke-width="0.9"/>
<path d="M508.23 247.5H511.74" stroke="#3f3f3f" stroke-width="0.9"/>
<path d="M513.5 217.6V193.2M512.62 193.2H514.38M513.5 245V286.4M512.62 286.4H514.38" stroke="#3f3f3f" stroke-width="0.9" fill="none"/>
<rect x="511.74" y="217.6" width="3.51" height="27.4" fill="#2aa39a" stroke="#3f3f3f" stroke-width="0.9"/>
<path d="M511.74 230.5H515.26" stroke="#3f3f3f" stroke-width="0.9"/>
<path d="M517.01 215.7V194.5M516.13 194.5H517.89M517.01 239.2V275.2M516.13 275.2H517.89" stroke="#3f3f3f" stroke-width="0.9" fill="none"/>
<rect x="515.26" y="215.7" width="3.51" height="23.5" fill="#d3661f" stroke="#3f3f3f" stroke-width="0.9"/>
<path d="M515.26 225.5H518.77" stroke="#3f3f3f" stroke-width="0.9"/>
<path d="M520.53 235.1V206.4M519.65 206.4H521.4M520.53 255.8V287.4M519.65 287.4H521.4" stroke="#3f3f3f" stroke-width="0.9" fill="none"/>
<rect x="518.77" y="235.1" width="3.51" height="20.7" fill="#53789f" stroke="#3f3f3f" stroke-width="0.9"/>
<path d="M518.77 244.3H522.28" stroke="#3f3f3f" stroke-width="0.9"/>
<path d="M524.04 196.6V192.6M523.16 192.6H524.92M524.04 214.1V240.4M523.16 240.4H524.92" stroke="#3f3f3f" stroke-width="0.9" fill="none"/>
<rect x="522.28" y="196.6" width="3.51" height="17.5" fill="#bf3320" stroke="#3f3f3f" stroke-width="0.9"/>
<path d="M522.28 203.5H525.8" stroke="#3f3f3f" stroke-width="0.9"/>
<path d="M531.94 239.2V211.5M531.07 211.5H532.82M531.94 259.2V289.3M531.07 289.3H532.82" stroke="#3f3f3f" stroke-width="0.9" fill="none"/>
<rect x="530.19" y="239.2" width="3.51" height="20" fill="#e2a22b" stroke="#3f3f3f" stroke-width="0.9"/>
<path d="M530.19 247.7H533.7" stroke="#3f3f3f" stroke-width="0.9"/>
<path d="M535.46 219.2V193.5M534.58 193.5H536.34M535.46 245.2V285.8M534.58 285.8H536.34" stroke="#3f3f3f" stroke-width="0.9" fill="none"/>
<rect x="533.7" y="219.2" width="3.51" height="26" fill="#2aa39a" stroke="#3f3f3f" stroke-width="0.9"/>
<path d="M533.7 232.4H537.21" stroke="#3f3f3f" stroke-width="0.9"/>
<path d="M538.97 216.6V192.6M538.09 192.6H539.85M538.97 239.2V274.3M538.09 274.3H539.85" stroke="#3f3f3f" stroke-width="0.9" fill="none"/>
<rect x="537.21" y="216.6" width="3.51" height="22.6" fill="#d3661f" stroke="#3f3f3f" stroke-width="0.9"/>
<path d="M537.21 226.5H540.73" stroke="#3f3f3f" stroke-width="0.9"/>
<path d="M542.48 235.3V208.4M541.61 208.4H543.36M542.48 255.3V286.6M541.61 286.6H543.36" stroke="#3f3f3f" stroke-width="0.9" fill="none"/>
<rect x="540.73" y="235.3" width="3.51" height="20" fill="#53789f" stroke="#3f3f3f" stroke-width="0.9"/>
<path d="M540.73 244.3H544.24" stroke="#3f3f3f" stroke-width="0.9"/>
<path d="M546 197.6V192.6M545.12 192.6H546.88M546 214.9V241.9M545.12 241.9H546.88" stroke="#3f3f3f" stroke-width="0.9" fill="none"/>
<rect x="544.24" y="197.6" width="3.51" height="17.3" fill="#bf3320" stroke="#3f3f3f" stroke-width="0.9"/>
<path d="M544.24 205.3H547.75" stroke="#3f3f3f" stroke-width="0.9"/>
<path d="M553.9 240.4V216.6M553.02 216.6H554.78M553.9 260.1V290.5M553.02 290.5H554.78" stroke="#3f3f3f" stroke-width="0.9" fill="none"/>
<rect x="552.15" y="240.4" width="3.51" height="19.7" fill="#e2a22b" stroke="#3f3f3f" stroke-width="0.9"/>
<path d="M552.15 248.6H555.66" stroke="#3f3f3f" stroke-width="0.9"/>
<path d="M557.42 227.6V194.2M556.54 194.2H558.29M557.42 250.1V278.9M556.54 278.9H558.29" stroke="#3f3f3f" stroke-width="0.9" fill="none"/>
<rect x="555.66" y="227.6" width="3.51" height="22.5" fill="#2aa39a" stroke="#3f3f3f" stroke-width="0.9"/>
<path d="M555.66 237.1H559.17" stroke="#3f3f3f" stroke-width="0.9"/>
<path d="M560.93 222.4V193.2M560.05 193.2H561.81M560.93 243.8V276.5M560.05 276.5H561.81" stroke="#3f3f3f" stroke-width="0.9" fill="none"/>
<rect x="559.17" y="222.4" width="3.51" height="21.4" fill="#d3661f" stroke="#3f3f3f" stroke-width="0.9"/>
<path d="M559.17 231.3H562.69" stroke="#3f3f3f" stroke-width="0.9"/>
<path d="M564.44 236.3V207.4M563.56 207.4H565.32M564.44 256.7V288M563.56 288H565.32" stroke="#3f3f3f" stroke-width="0.9" fill="none"/>
<rect x="562.69" y="236.3" width="3.51" height="20.4" fill="#53789f" stroke="#3f3f3f" stroke-width="0.9"/>
<path d="M562.69 245.2H566.2" stroke="#3f3f3f" stroke-width="0.9"/>
<path d="M567.96 202.6V192.6M567.08 192.6H568.83M567.96 219.5V245M567.08 245H568.83" stroke="#3f3f3f" stroke-width="0.9" fill="none"/>
<rect x="566.2" y="202.6" width="3.51" height="16.9" fill="#bf3320" stroke="#3f3f3f" stroke-width="0.9"/>
<path d="M566.2 209.6H569.71" stroke="#3f3f3f" stroke-width="0.9"/>
<path d="M575.86 240.1V217.3M574.98 217.3H576.74M575.86 257.7V280.3M574.98 280.3H576.74" stroke="#3f3f3f" stroke-width="0.9" fill="none"/>
<rect x="574.1" y="240.1" width="3.51" height="17.6" fill="#e2a22b" stroke="#3f3f3f" stroke-width="0.9"/>
<path d="M574.1 247.2H577.62" stroke="#3f3f3f" stroke-width="0.9"/>
<path d="M579.37 224.5V195.2M578.5 195.2H580.25M579.37 246.2V279.9M578.5 279.9H580.25" stroke="#3f3f3f" stroke-width="0.9" fill="none"/>
<rect x="577.62" y="224.5" width="3.51" height="21.7" fill="#2aa39a" stroke="#3f3f3f" stroke-width="0.9"/>
<path d="M577.62 235.3H581.13" stroke="#3f3f3f" stroke-width="0.9"/>
<path d="M582.89 219.9V195.6M582.01 195.6H583.77M582.89 241.1V272.9M582.01 272.9H583.77" stroke="#3f3f3f" stroke-width="0.9" fill="none"/>
<rect x="581.13" y="219.9" width="3.51" height="21.2" fill="#d3661f" stroke="#3f3f3f" stroke-width="0.9"/>
<path d="M581.13 229.4H584.64" stroke="#3f3f3f" stroke-width="0.9"/>
<path d="M586.4 236.3V209.3M585.52 209.3H587.28M586.4 255.3V286.1M585.52 286.1H587.28" stroke="#3f3f3f" stroke-width="0.9" fill="none"/>
<rect x="584.64" y="236.3" width="3.51" height="19" fill="#53789f" stroke="#3f3f3f" stroke-width="0.9"/>
<path d="M584.64 245H588.16" stroke="#3f3f3f" stroke-width="0.9"/>
<path d="M589.91 201.6V192.6M589.04 192.6H590.79M589.91 217.3V240.4M589.04 240.4H590.79" stroke="#3f3f3f" stroke-width="0.9" fill="none"/>
<rect x="588.16" y="201.6" width="3.51" height="15.7" fill="#bf3320" stroke="#3f3f3f" stroke-width="0.9"/>
<path d="M588.16 208.4H591.67" stroke="#3f3f3f" stroke-width="0.9"/>
<path d="M597.82 240.7V214.4M596.94 214.4H598.7M597.82 258.9V283M596.94 283H598.7" stroke="#3f3f3f" stroke-width="0.9" fill="none"/>
<rect x="596.06" y="240.7" width="3.51" height="18.2" fill="#e2a22b" stroke="#3f3f3f" stroke-width="0.9"/>
<path d="M596.06 248.4H599.58" stroke="#3f3f3f" stroke-width="0.9"/>
<path d="M601.33 229.8V200M600.45 200H602.21M601.33 249.1V278.9M600.45 278.9H602.21" stroke="#3f3f3f" stroke-width="0.9" fill="none"/>
<rect x="599.58" y="229.8" width="3.51" height="19.3" fill="#2aa39a" stroke="#3f3f3f" stroke-width="0.9"/>
<path d="M599.58 237.8H603.09" stroke="#3f3f3f" stroke-width="0.9"/>
<path d="M604.85 224.3V194.9M603.97 194.9H605.72M604.85 243.6V273.3M603.97 273.3H605.72" stroke="#3f3f3f" stroke-width="0.9" fill="none"/>
<rect x="603.09" y="224.3" width="3.51" height="19.3" fill="#d3661f" stroke="#3f3f3f" stroke-width="0.9"/>
<path d="M603.09 232.1H606.6" stroke="#3f3f3f" stroke-width="0.9"/>
<path d="M608.36 236.3V211.2M607.48 211.2H609.24M608.36 256.3V286.1M607.48 286.1H609.24" stroke="#3f3f3f" stroke-width="0.9" fill="none"/>
<rect x="606.6" y="236.3" width="3.51" height="20" fill="#53789f" stroke="#3f3f3f" stroke-width="0.9"/>
<path d="M606.6 245.2H610.12" stroke="#3f3f3f" stroke-width="0.9"/>
<path d="M611.87 204.3V192.6M610.99 192.6H612.75M611.87 219.2V241.9M610.99 241.9H612.75" stroke="#3f3f3f" stroke-width="0.9" fill="none"/>
<rect x="610.12" y="204.3" width="3.51" height="14.9" fill="#bf3320" stroke="#3f3f3f" stroke-width="0.9"/>
<path d="M610.12 210.6H613.63" stroke="#3f3f3f" stroke-width="0.9"/>
<path d="M619.78 239.5V214.1M618.9 214.1H620.66M619.78 256.6V282.3M618.9 282.3H620.66" stroke="#3f3f3f" stroke-width="0.9" fill="none"/>
<rect x="618.02" y="239.5" width="3.51" height="17.1" fill="#e2a22b" stroke="#3f3f3f" stroke-width="0.9"/>
<path d="M618.02 247.2H621.53" stroke="#3f3f3f" stroke-width="0.9"/>
<path d="M623.29 215.4V194.5M622.41 194.5H624.17M623.29 243.8V286.1M622.41 286.1H624.17" stroke="#3f3f3f" stroke-width="0.9" fill="none"/>
<rect x="621.53" y="215.4" width="3.51" height="28.4" fill="#2aa39a" stroke="#3f3f3f" stroke-width="0.9"/>
<path d="M621.53 231.8H625.05" stroke="#3f3f3f" stroke-width="0.9"/>
<path d="M626.8 215.4V194.9M625.93 194.9H627.68M626.8 238V272.4M625.93 272.4H627.68" stroke="#3f3f3f" stroke-width="0.9" fill="none"/>
<rect x="625.05" y="215.4" width="3.51" height="22.6" fill="#d3661f" stroke="#3f3f3f" stroke-width="0.9"/>
<path d="M625.05 226.5H628.56" stroke="#3f3f3f" stroke-width="0.9"/>
<path d="M630.32 235.6V210.6M629.44 210.6H631.2M630.32 253.4V280.8M629.44 280.8H631.2" stroke="#3f3f3f" stroke-width="0.9" fill="none"/>
<rect x="628.56" y="235.6" width="3.51" height="17.8" fill="#53789f" stroke="#3f3f3f" stroke-width="0.9"/>
<path d="M628.56 243.3H632.07" stroke="#3f3f3f" stroke-width="0.9"/>
<path d="M633.83 198.7V192.6M632.95 192.6H634.71M633.83 215.7V241.4M632.95 241.4H634.71" stroke="#3f3f3f" stroke-width="0.9" fill="none"/>
<rect x="632.07" y="198.7" width="3.51" height="17" fill="#bf3320" stroke="#3f3f3f" stroke-width="0.9"/>
<path d="M632.07 207.4H635.59" stroke="#3f3f3f" stroke-width="0.9"/>
<path d="M641.74 240.7V221.5M640.86 221.5H642.61M641.74 257.2V283M640.86 283H642.61" stroke="#3f3f3f" stroke-width="0.9" fill="none"/>
<rect x="639.98" y="240.7" width="3.51" height="16.5" fill="#e2a22b" stroke="#3f3f3f" stroke-width="0.9"/>
<path d="M639.98 246.9H643.49" stroke="#3f3f3f" stroke-width="0.9"/>
<path d="M645.25 230.8V205.5M644.37 205.5H646.13M645.25 250.1V278.9M644.37 278.9H646.13" stroke="#3f3f3f" stroke-width="0.9" fill="none"/>
<rect x="643.49" y="230.8" width="3.51" height="19.3" fill="#2aa39a" stroke="#3f3f3f" stroke-width="0.9"/>
<path d="M643.49 238.5H647.01" stroke="#3f3f3f" stroke-width="0.9"/>
<path d="M648.76 224.5V206.4M647.88 206.4H649.64M648.76 243.3V271M647.88 271H649.64" stroke="#3f3f3f" stroke-width="0.9" fill="none"/>
<rect x="647.01" y="224.5" width="3.51" height="18.8" fill="#d3661f" stroke="#3f3f3f" stroke-width="0.9"/>
<path d="M647.01 232.4H650.52" stroke="#3f3f3f" stroke-width="0.9"/>
<path d="M652.28 236.6V211.2M651.4 211.2H653.15M652.28 254.3V280.3M651.4 280.3H653.15" stroke="#3f3f3f" stroke-width="0.9" fill="none"/>
<rect x="650.52" y="236.6" width="3.51" height="17.7" fill="#53789f" stroke="#3f3f3f" stroke-width="0.9"/>
<path d="M650.52 244.3H654.03" stroke="#3f3f3f" stroke-width="0.9"/>
<path d="M655.79 205.5V192.7M654.91 192.7H656.67M655.79 219.5V240.4M654.91 240.4H656.67" stroke="#3f3f3f" stroke-width="0.9" fill="none"/>
<rect x="654.03" y="205.5" width="3.51" height="14" fill="#bf3320" stroke="#3f3f3f" stroke-width="0.9"/>
<path d="M654.03 211.5H657.55" stroke="#3f3f3f" stroke-width="0.9"/>
<path d="M663.69 241.1V218.6M662.82 218.6H664.57M663.69 257.2V281.8M662.82 281.8H664.57" stroke="#3f3f3f" stroke-width="0.9" fill="none"/>
<rect x="661.94" y="241.1" width="3.51" height="16.1" fill="#e2a22b" stroke="#3f3f3f" stroke-width="0.9"/>
<path d="M661.94 247.2H665.45" stroke="#3f3f3f" stroke-width="0.9"/>
<path d="M667.21 232.4V208M666.33 208H668.09M667.21 250.1V277.5M666.33 277.5H668.09" stroke="#3f3f3f" stroke-width="0.9" fill="none"/>
<rect x="665.45" y="232.4" width="3.51" height="17.7" fill="#2aa39a" stroke="#3f3f3f" stroke-width="0.9"/>
<path d="M665.45 239.2H668.96" stroke="#3f3f3f" stroke-width="0.9"/>
<path d="M670.72 226.5V204.3M669.84 204.3H671.6M670.72 243.6V270.2M669.84 270.2H671.6" stroke="#3f3f3f" stroke-width="0.9" fill="none"/>
<rect x="668.96" y="226.5" width="3.51" height="17.1" fill="#d3661f" stroke="#3f3f3f" stroke-width="0.9"/>
<path d="M668.96 233.4H672.48" stroke="#3f3f3f" stroke-width="0.9"/>
<path d="M674.23 237.1V214.7M673.36 214.7H675.11M674.23 253.9V280.1M673.36 280.1H675.11" stroke="#3f3f3f" stroke-width="0.9" fill="none"/>
<rect x="672.48" y="237.1" width="3.51" height="16.8" fill="#53789f" stroke="#3f3f3f" stroke-width="0.9"/>
<path d="M672.48 244.3H675.99" stroke="#3f3f3f" stroke-width="0.9"/>
<path d="M677.75 208.4V194.5M676.87 194.5H678.63M677.75 221.2V241.1M676.87 241.1H678.63" stroke="#3f3f3f" stroke-width="0.9" fill="none"/>
<rect x="675.99" y="208.4" width="3.51" height="12.8" fill="#bf3320" stroke="#3f3f3f" stroke-width="0.9"/>
<path d="M675.99 213.5H679.5" stroke="#3f3f3f" stroke-width="0.9"/>
<rect x="418.2" y="186.3" width="263.5" height="133.7" fill="none" stroke="#3b3b3b" stroke-width="1.0"/>
<line x1="415.2" y1="311.3" x2="418.2" y2="311.3" stroke="#3b3b3b" stroke-width="0.9"/>
<text x="410.9" y="314.22" font-size="8.1" text-anchor="end" fill="#262626" stroke="#262626">80</text>
<line x1="415.2" y1="281.55" x2="418.2" y2="281.55" stroke="#3b3b3b" stroke-width="0.9"/>
<text x="410.9" y="284.47" font-size="8.1" text-anchor="end" fill="#262626" stroke="#262626">85</text>
<line x1="415.2" y1="251.8" x2="418.2" y2="251.8" stroke="#3b3b3b" stroke-width="0.9"/>
<text x="410.9" y="254.72" font-size="8.1" text-anchor="end" fill="#262626" stroke="#262626">90</text>
<line x1="415.2" y1="222.05" x2="418.2" y2="222.05" stroke="#3b3b3b" stroke-width="0.9"/>
<text x="410.9" y="224.97" font-size="8.1" text-anchor="end" fill="#262626" stroke="#262626">95</text>
<line x1="415.2" y1="192.3" x2="418.2" y2="192.3" stroke="#3b3b3b" stroke-width="0.9"/>
<text x="410.9" y="195.22" font-size="8.1" text-anchor="end" fill="#262626" stroke="#262626">100</text>
<line x1="429.18" y1="320" x2="429.18" y2="323" stroke="#3b3b3b" stroke-width="0.9"/>
<line x1="451.14" y1="320" x2="451.14" y2="323" stroke="#3b3b3b" stroke-width="0.9"/>
<line x1="473.1" y1="320" x2="473.1" y2="323" stroke="#3b3b3b" stroke-width="0.9"/>
<line x1="495.05" y1="320" x2="495.05" y2="323" stroke="#3b3b3b" stroke-width="0.9"/>
<line x1="517.01" y1="320" x2="517.01" y2="323" stroke="#3b3b3b" stroke-width="0.9"/>
<line x1="538.97" y1="320" x2="538.97" y2="323" stroke="#3b3b3b" stroke-width="0.9"/>
<line x1="560.93" y1="320" x2="560.93" y2="323" stroke="#3b3b3b" stroke-width="0.9"/>
<line x1="582.89" y1="320" x2="582.89" y2="323" stroke="#3b3b3b" stroke-width="0.9"/>
<line x1="604.85" y1="320" x2="604.85" y2="323" stroke="#3b3b3b" stroke-width="0.9"/>
<line x1="626.8" y1="320" x2="626.8" y2="323" stroke="#3b3b3b" stroke-width="0.9"/>
<line x1="648.76" y1="320" x2="648.76" y2="323" stroke="#3b3b3b" stroke-width="0.9"/>
<line x1="670.72" y1="320" x2="670.72" y2="323" stroke="#3b3b3b" stroke-width="0.9"/>
<text transform="translate(437.38,328.2) rotate(-30)" font-size="8.1" text-anchor="end" fill="#262626" stroke="#262626">(0, 100]</text>
<text transform="translate(459.34,328.2) rotate(-30)" font-size="8.1" text-anchor="end" fill="#262626" stroke="#262626">(100, 200]</text>
<text transform="translate(481.3,328.2) rotate(-30)" font-size="8.1" text-anchor="end" fill="#262626" stroke="#262626">(200, 400]</text>
<text transform="translate(503.25,328.2) rotate(-30)" font-size="8.1" text-anchor="end" fill="#262626" stroke="#262626">(400, 600]</text>
<text transform="translate(525.21,328.2) rotate(-30)" font-size="8.1" text-anchor="end" fill="#262626" stroke="#262626">(600, 800]</text>
<text transform="translate(547.17,328.2) rotate(-30)" font-size="8.1" text-anchor="end" fill="#262626" stroke="#262626">(800, 1k]</text>
<text transform="translate(569.13,328.2) rotate(-30)" font-size="8.1" text-anchor="end" fill="#262626" stroke="#262626">(1k, 1.2k]</text>
<text transform="translate(591.09,328.2) rotate(-30)" font-size="8.1" text-anchor="end" fill="#262626" stroke="#262626">(1.2k, 1.4k]</text>
<text transform="translate(613.05,328.2) rotate(-30)" font-size="8.1" text-anchor="end" fill="#262626" stroke="#262626">(1.4k, 1.6k]</text>
<text transform="translate(635,328.2) rotate(-30)" font-size="8.1" text-anchor="end" fill="#262626" stroke="#262626">(1.6k, 1.8k]</text>
<text transform="translate(656.96,328.2) rotate(-30)" font-size="8.1" text-anchor="end" fill="#262626" stroke="#262626">(1.8k, 2k]</text>
<text transform="translate(678.92,328.2) rotate(-30)" font-size="8.1" text-anchor="end" fill="#262626" stroke="#262626">&gt;2k</text>
<text x="549.95" y="355.6" font-size="9.5" text-anchor="middle" fill="#262626" stroke="#262626">Read length interval</text>
<text transform="translate(392.8,253.15) rotate(-90)" font-size="9.5" text-anchor="middle" fill="#262626" stroke="#262626">Accuracy (%)</text>
<rect x="547.3" y="278.3" width="130.5" height="37.3" rx="1.5" fill="#ffffff" fill-opacity="0.8" stroke="#d6d6d6" stroke-width="0.8"/>
<rect x="551.2" y="282.3" width="16.5" height="5.6" fill="#e2a22b" stroke="#3f3f3f" stroke-width="0.5"/>
<text x="574.2" y="288.3" font-size="8.0" text-anchor="start" fill="#262626" stroke="#262626">Guppy</text>
<rect x="551.2" y="293.75" width="16.5" height="5.6" fill="#2aa39a" stroke="#3f3f3f" stroke-width="0.5"/>
<text x="574.2" y="299.75" font-size="8.0" text-anchor="start" fill="#262626" stroke="#262626">RODAN</text>
<rect x="551.2" y="305.2" width="16.5" height="5.6" fill="#d3661f" stroke="#3f3f3f" stroke-width="0.5"/>
<text x="574.2" y="311.2" font-size="8.0" text-anchor="start" fill="#262626" stroke="#262626">GCRTcall</text>
<rect x="624.9" y="282.3" width="16.5" height="5.6" fill="#53789f" stroke="#3f3f3f" stroke-width="0.5"/>
<text x="647.9" y="288.3" font-size="8.0" text-anchor="start" fill="#262626" stroke="#262626">Dorado</text>
<rect x="624.9" y="293.75" width="16.5" height="5.6" fill="#bf3320" stroke="#3f3f3f" stroke-width="0.5"/>
<text x="647.9" y="299.75" font-size="8.0" text-anchor="start" fill="#262626" stroke="#262626">Coral</text>
<rect x="33.3" y="382" width="133.9" height="113.5" fill="none" stroke="#3b3b3b" stroke-width="1.0"/>
<rect x="37.2" y="436.3" width="4.26" height="59.6" fill="#e2a22b"/>
<rect x="42.55" y="429.2" width="4.26" height="66.7" fill="#2aa39a"/>
<rect x="47.91" y="427.7" width="4.26" height="68.2" fill="#d3661f"/>
<rect x="53.27" y="425.1" width="4.26" height="70.8" fill="#53789f"/>
<rect x="58.62" y="402.6" width="4.26" height="93.3" fill="#bf3320"/>
<rect x="70.67" y="455.1" width="4.26" height="40.8" fill="#e2a22b"/>
<rect x="76.03" y="455.1" width="4.26" height="40.8" fill="#2aa39a"/>
<rect x="81.38" y="448" width="4.26" height="47.9" fill="#d3661f"/>
<rect x="86.74" y="442.9" width="4.26" height="53" fill="#53789f"/>
<rect x="92.1" y="410.2" width="4.26" height="85.7" fill="#bf3320"/>
<rect x="104.15" y="481.9" width="4.26" height="14" fill="#e2a22b"/>
<rect x="109.5" y="472.1" width="4.26" height="23.8" fill="#2aa39a"/>
<rect x="114.86" y="460.2" width="4.26" height="35.7" fill="#d3661f"/>
<rect x="120.22" y="449.2" width="4.26" height="46.7" fill="#53789f"/>
<rect x="125.57" y="419.3" width="4.26" height="76.6" fill="#bf3320"/>
<rect x="137.62" y="490.1" width="4.26" height="5.8" fill="#e2a22b"/>
<rect x="142.98" y="480.9" width="4.26" height="15" fill="#2aa39a"/>
<rect x="148.33" y="462.5" width="4.26" height="33.4" fill="#d3661f"/>
<rect x="153.69" y="453.7" width="4.26" height="42.2" fill="#53789f"/>
<rect x="159.05" y="418.9" width="4.26" height="77" fill="#bf3320"/>
<line x1="30.3" y1="495.6" x2="33.3" y2="495.6" stroke="#3b3b3b" stroke-width="0.9"/>
<text x="26" y="498.52" font-size="8.1" text-anchor="end" fill="#262626" stroke="#262626">88</text>
<line x1="30.3" y1="476.7" x2="33.3" y2="476.7" stroke="#3b3b3b" stroke-width="0.9"/>
<text x="26" y="479.62" font-size="8.1" text-anchor="end" fill="#262626" stroke="#262626">90</text>
<line x1="30.3" y1="457.8" x2="33.3" y2="457.8" stroke="#3b3b3b" stroke-width="0.9"/>
<text x="26" y="460.72" font-size="8.1" text-anchor="end" fill="#262626" stroke="#262626">92</text>
<line x1="30.3" y1="438.9" x2="33.3" y2="438.9" stroke="#3b3b3b" stroke-width="0.9"/>
<text x="26" y="441.82" font-size="8.1" text-anchor="end" fill="#262626" stroke="#262626">94</text>
<line x1="30.3" y1="420" x2="33.3" y2="420" stroke="#3b3b3b" stroke-width="0.9"/>
<text x="26" y="422.92" font-size="8.1" text-anchor="end" fill="#262626" stroke="#262626">96</text>
<line x1="30.3" y1="401.1" x2="33.3" y2="401.1" stroke="#3b3b3b" stroke-width="0.9"/>
<text x="26" y="404.02" font-size="8.1" text-anchor="end" fill="#262626" stroke="#262626">98</text>
<line x1="30.3" y1="382.2" x2="33.3" y2="382.2" stroke="#3b3b3b" stroke-width="0.9"/>
<text x="26" y="385.12" font-size="8.1" text-anchor="end" fill="#262626" stroke="#262626">100</text>
<line x1="50.04" y1="495.5" x2="50.04" y2="498.5" stroke="#3b3b3b" stroke-width="0.9"/>
<text x="50.04" y="508.7" font-size="8.1" text-anchor="middle" fill="#262626" stroke="#262626">G</text>
<line x1="83.51" y1="495.5" x2="83.51" y2="498.5" stroke="#3b3b3b" stroke-width="0.9"/>
<text x="83.51" y="508.7" font-size="8.1" text-anchor="middle" fill="#262626" stroke="#262626">A</text>
<line x1="116.99" y1="495.5" x2="116.99" y2="498.5" stroke="#3b3b3b" stroke-width="0.9"/>
<text x="116.99" y="508.7" font-size="8.1" text-anchor="middle" fill="#262626" stroke="#262626">C</text>
<line x1="150.46" y1="495.5" x2="150.46" y2="498.5" stroke="#3b3b3b" stroke-width="0.9"/>
<text x="150.46" y="508.7" font-size="8.1" text-anchor="middle" fill="#262626" stroke="#262626">U</text>
<text transform="translate(6.9,438.75) rotate(-90)" font-size="9.5" text-anchor="middle" fill="#262626" stroke="#262626">Match Accuracy (%)</text>
<rect x="208.4" y="382" width="133.3" height="113.5" fill="none" stroke="#3b3b3b" stroke-width="1.0"/>
<rect x="213.39" y="486.4" width="6.01" height="9.5" fill="#e2a22b"/>
<rect x="220.5" y="487" width="6.01" height="8.9" fill="#2aa39a"/>
<rect x="227.61" y="489" width="6.01" height="6.9" fill="#d3661f"/>
<rect x="234.72" y="489.9" width="6.01" height="6" fill="#53789f"/>
<rect x="241.83" y="491.1" width="6.01" height="4.8" fill="#bf3320"/>
<rect x="257.83" y="464.9" width="6.01" height="31" fill="#e2a22b"/>
<rect x="264.94" y="471.1" width="6.01" height="24.8" fill="#2aa39a"/>
<rect x="272.05" y="475.5" width="6.01" height="20.4" fill="#d3661f"/>
<rect x="279.15" y="477.2" width="6.01" height="18.7" fill="#53789f"/>
<rect x="286.26" y="483.9" width="6.01" height="12" fill="#bf3320"/>
<rect x="302.26" y="387.9" width="6.01" height="108" fill="#e2a22b"/>
<rect x="309.37" y="399.1" width="6.01" height="96.8" fill="#2aa39a"/>
<rect x="316.48" y="405.7" width="6.01" height="90.2" fill="#d3661f"/>
<rect x="323.59" y="408.7" width="6.01" height="87.2" fill="#53789f"/>
<rect x="330.7" y="447.6" width="6.01" height="48.3" fill="#bf3320"/>
<line x1="205.4" y1="495.6" x2="208.4" y2="495.6" stroke="#3b3b3b" stroke-width="0.9"/>
<text x="201.1" y="498.52" font-size="8.1" text-anchor="end" fill="#262626" stroke="#262626">0.0</text>
<line x1="205.4" y1="476.2" x2="208.4" y2="476.2" stroke="#3b3b3b" stroke-width="0.9"/>
<text x="201.1" y="479.12" font-size="8.1" text-anchor="end" fill="#262626" stroke="#262626">0.5</text>
<line x1="205.4" y1="456.8" x2="208.4" y2="456.8" stroke="#3b3b3b" stroke-width="0.9"/>
<text x="201.1" y="459.72" font-size="8.1" text-anchor="end" fill="#262626" stroke="#262626">1.0</text>
<line x1="205.4" y1="437.4" x2="208.4" y2="437.4" stroke="#3b3b3b" stroke-width="0.9"/>
<text x="201.1" y="440.32" font-size="8.1" text-anchor="end" fill="#262626" stroke="#262626">1.5</text>
<line x1="205.4" y1="418" x2="208.4" y2="418" stroke="#3b3b3b" stroke-width="0.9"/>
<text x="201.1" y="420.92" font-size="8.1" text-anchor="end" fill="#262626" stroke="#262626">2.0</text>
<line x1="205.4" y1="398.6" x2="208.4" y2="398.6" stroke="#3b3b3b" stroke-width="0.9"/>
<text x="201.1" y="401.52" font-size="8.1" text-anchor="end" fill="#262626" stroke="#262626">2.5</text>
<line x1="230.62" y1="495.5" x2="230.62" y2="498.5" stroke="#3b3b3b" stroke-width="0.9"/>
<text x="230.62" y="508.7" font-size="8.1" text-anchor="middle" fill="#262626" stroke="#262626">C to G</text>
<line x1="275.05" y1="495.5" x2="275.05" y2="498.5" stroke="#3b3b3b" stroke-width="0.9"/>
<text x="275.05" y="508.7" font-size="8.1" text-anchor="middle" fill="#262626" stroke="#262626">C to A</text>
<line x1="319.48" y1="495.5" x2="319.48" y2="498.5" stroke="#3b3b3b" stroke-width="0.9"/>
<text x="319.48" y="508.7" font-size="8.1" text-anchor="middle" fill="#262626" stroke="#262626">C to U</text>
<text x="275.05" y="518.6" font-size="9.5" text-anchor="middle" fill="#262626" stroke="#262626">C mismatch type</text>
<text transform="translate(184.2,438.75) rotate(-90)" font-size="9.5" text-anchor="middle" fill="#262626" stroke="#262626">Mismatch percentage (%)</text>
<rect x="383.6" y="382" width="132.9" height="113.5" fill="none" stroke="#3b3b3b" stroke-width="1.0"/>
<rect x="388.58" y="478.2" width="5.99" height="17.7" fill="#e2a22b"/>
<rect x="395.67" y="478.2" width="5.99" height="17.7" fill="#2aa39a"/>
<rect x="402.76" y="481.7" width="5.99" height="14.2" fill="#d3661f"/>
<rect x="409.84" y="483.9" width="5.99" height="12" fill="#53789f"/>
<rect x="416.93" y="487.4" width="5.99" height="8.5" fill="#bf3320"/>
<rect x="432.88" y="421" width="5.99" height="74.9" fill="#e2a22b"/>
<rect x="439.97" y="433.2" width="5.99" height="62.7" fill="#2aa39a"/>
<rect x="447.06" y="446.5" width="5.99" height="49.4" fill="#d3661f"/>
<rect x="454.14" y="452.3" width="5.99" height="43.6" fill="#53789f"/>
<rect x="461.23" y="470" width="5.99" height="25.9" fill="#bf3320"/>
<rect x="477.18" y="390.3" width="5.99" height="105.6" fill="#e2a22b"/>
<rect x="484.27" y="387.9" width="5.99" height="108" fill="#2aa39a"/>
<rect x="491.36" y="401" width="5.99" height="94.9" fill="#d3661f"/>
<rect x="498.44" y="402" width="5.99" height="93.9" fill="#53789f"/>
<rect x="505.53" y="450.2" width="5.99" height="45.7" fill="#bf3320"/>
<line x1="380.6" y1="495.6" x2="383.6" y2="495.6" stroke="#3b3b3b" stroke-width="0.9"/>
<text x="376.3" y="498.52" font-size="8.1" text-anchor="end" fill="#262626" stroke="#262626">0.0</text>
<line x1="380.6" y1="470.3" x2="383.6" y2="470.3" stroke="#3b3b3b" stroke-width="0.9"/>
<text x="376.3" y="473.22" font-size="8.1" text-anchor="end" fill="#262626" stroke="#262626">0.5</text>
<line x1="380.6" y1="445" x2="383.6" y2="445" stroke="#3b3b3b" stroke-width="0.9"/>
<text x="376.3" y="447.92" font-size="8.1" text-anchor="end" fill="#262626" stroke="#262626">1.0</text>
<line x1="380.6" y1="419.7" x2="383.6" y2="419.7" stroke="#3b3b3b" stroke-width="0.9"/>
<text x="376.3" y="422.62" font-size="8.1" text-anchor="end" fill="#262626" stroke="#262626">1.5</text>
<line x1="380.6" y1="394.4" x2="383.6" y2="394.4" stroke="#3b3b3b" stroke-width="0.9"/>
<text x="376.3" y="397.32" font-size="8.1" text-anchor="end" fill="#262626" stroke="#262626">2.0</text>
<line x1="405.75" y1="495.5" x2="405.75" y2="498.5" stroke="#3b3b3b" stroke-width="0.9"/>
<text x="405.75" y="508.7" font-size="8.1" text-anchor="middle" fill="#262626" stroke="#262626">U to G</text>
<line x1="450.05" y1="495.5" x2="450.05" y2="498.5" stroke="#3b3b3b" stroke-width="0.9"/>
<text x="450.05" y="508.7" font-size="8.1" text-anchor="middle" fill="#262626" stroke="#262626">U to A</text>
<line x1="494.35" y1="495.5" x2="494.35" y2="498.5" stroke="#3b3b3b" stroke-width="0.9"/>
<text x="494.35" y="508.7" font-size="8.1" text-anchor="middle" fill="#262626" stroke="#262626">U to C</text>
<text x="450.05" y="518.6" font-size="9.5" text-anchor="middle" fill="#262626" stroke="#262626">U mismatch type</text>
<text transform="translate(359.4,438.75) rotate(-90)" font-size="9.5" text-anchor="middle" fill="#262626" stroke="#262626">Mismatch percentage (%)</text>
<rect x="551.3" y="382" width="133.2" height="113.5" fill="none" stroke="#3b3b3b" stroke-width="1.0"/>
<rect x="558.51" y="398.9" width="9.56" height="97" fill="#e2a22b"/>
<rect x="569.17" y="407.3" width="9.56" height="88.6" fill="#2aa39a"/>
<rect x="579.82" y="421" width="9.56" height="74.9" fill="#d3661f"/>
<rect x="590.48" y="435.9" width="9.56" height="60" fill="#53789f"/>
<rect x="601.13" y="464.3" width="9.56" height="31.6" fill="#bf3320"/>
<rect x="625.11" y="387.9" width="9.56" height="108" fill="#e2a22b"/>
<rect x="635.77" y="398.9" width="9.56" height="97" fill="#2aa39a"/>
<rect x="646.42" y="418.9" width="9.56" height="77" fill="#d3661f"/>
<rect x="657.08" y="430.2" width="9.56" height="65.7" fill="#53789f"/>
<rect x="667.73" y="463.3" width="9.56" height="32.6" fill="#bf3320"/>
<line x1="548.3" y1="495.6" x2="551.3" y2="495.6" stroke="#3b3b3b" stroke-width="0.9"/>
<text x="544" y="498.52" font-size="8.1" text-anchor="end" fill="#262626" stroke="#262626">0</text>
<line x1="548.3" y1="466.04" x2="551.3" y2="466.04" stroke="#3b3b3b" stroke-width="0.9"/>
<text x="544" y="468.96" font-size="8.1" text-anchor="end" fill="#262626" stroke="#262626">2</text>
<line x1="548.3" y1="436.48" x2="551.3" y2="436.48" stroke="#3b3b3b" stroke-width="0.9"/>
<text x="544" y="439.4" font-size="8.1" text-anchor="end" fill="#262626" stroke="#262626">4</text>
<line x1="548.3" y1="406.92" x2="551.3" y2="406.92" stroke="#3b3b3b" stroke-width="0.9"/>
<text x="544" y="409.84" font-size="8.1" text-anchor="end" fill="#262626" stroke="#262626">6</text>
<line x1="584.6" y1="495.5" x2="584.6" y2="498.5" stroke="#3b3b3b" stroke-width="0.9"/>
<text x="584.6" y="508.7" font-size="8.1" text-anchor="middle" fill="#262626" stroke="#262626">C</text>
<line x1="651.2" y1="495.5" x2="651.2" y2="498.5" stroke="#3b3b3b" stroke-width="0.9"/>
<text x="651.2" y="508.7" font-size="8.1" text-anchor="middle" fill="#262626" stroke="#262626">U</text>
<text transform="translate(533.9,438.75) rotate(-90)" font-size="9.5" text-anchor="middle" fill="#262626" stroke="#262626">Deletion percentage (%)</text>
<rect x="181.5" y="365.4" width="319.3" height="14" rx="1.5" fill="#ffffff" fill-opacity="0.8" stroke="#d6d6d6" stroke-width="0.8"/>
<rect x="184.3" y="369.3" width="16.5" height="4.6" fill="#e2a22b"/>
<text x="207.7" y="375" font-size="8.0" text-anchor="start" fill="#262626" stroke="#262626">Guppy</text>
<rect x="247.6" y="369.3" width="16.5" height="4.6" fill="#2aa39a"/>
<text x="271" y="375" font-size="8.0" text-anchor="start" fill="#262626" stroke="#262626">RODAN</text>
<rect x="316.2" y="369.3" width="16.5" height="4.6" fill="#d3661f"/>
<text x="339.6" y="375" font-size="8.0" text-anchor="start" fill="#262626" stroke="#262626">GCRTcall</text>
<rect x="390" y="369.3" width="16.5" height="4.6" fill="#53789f"/>
<text x="413.4" y="375" font-size="8.0" text-anchor="start" fill="#262626" stroke="#262626">Dorado</text>
<rect x="456.2" y="369.3" width="16.5" height="4.6" fill="#bf3320"/>
<text x="479.6" y="375" font-size="8.0" text-anchor="start" fill="#262626" stroke="#262626">Coral</text>
<path d="M45.97 572.6V554.5M44.47 554.5H47.48M45.97 590V616.4M44.47 616.4H47.48" stroke="#3f3f3f" stroke-width="0.9" fill="none"/>
<rect x="42.96" y="572.6" width="6.02" height="17.4" fill="#e2a22b" stroke="#3f3f3f" stroke-width="0.9"/>
<path d="M42.96 580H48.98" stroke="#3f3f3f" stroke-width="0.9"/>
<path d="M51.99 567.3V553.4M50.49 553.4H53.5M51.99 580V598.4M50.49 598.4H53.5" stroke="#3f3f3f" stroke-width="0.9" fill="none"/>
<rect x="48.98" y="567.3" width="6.02" height="12.7" fill="#2aa39a" stroke="#3f3f3f" stroke-width="0.9"/>
<path d="M48.98 572.3H55" stroke="#3f3f3f" stroke-width="0.9"/>
<path d="M58.01 563.7V551.5M56.51 551.5H59.52M58.01 574.8V591.5M56.51 591.5H59.52" stroke="#3f3f3f" stroke-width="0.9" fill="none"/>
<rect x="55" y="563.7" width="6.02" height="11.1" fill="#d3661f" stroke="#3f3f3f" stroke-width="0.9"/>
<path d="M55 568.4H61.02" stroke="#3f3f3f" stroke-width="0.9"/>
<path d="M64.03 571.2V555.1M62.53 555.1H65.54M64.03 587V611.1M62.53 611.1H65.54" stroke="#3f3f3f" stroke-width="0.9" fill="none"/>
<rect x="61.02" y="571.2" width="6.02" height="15.8" fill="#53789f" stroke="#3f3f3f" stroke-width="0.9"/>
<path d="M61.02 578.4H67.05" stroke="#3f3f3f" stroke-width="0.9"/>
<path d="M70.06 551.5V546.4M68.55 546.4H71.56M70.06 556.2V564.5M68.55 564.5H71.56" stroke="#3f3f3f" stroke-width="0.9" fill="none"/>
<rect x="67.05" y="551.5" width="6.02" height="4.7" fill="#bf3320" stroke="#3f3f3f" stroke-width="0.9"/>
<path d="M67.05 553.7H73.07" stroke="#3f3f3f" stroke-width="0.9"/>
<path d="M83.6 577.5V554.5M82.1 554.5H85.11M83.6 597.2V622.2M82.1 622.2H85.11" stroke="#3f3f3f" stroke-width="0.9" fill="none"/>
<rect x="80.59" y="577.5" width="6.02" height="19.7" fill="#e2a22b" stroke="#3f3f3f" stroke-width="0.9"/>
<path d="M80.59 585.3H86.61" stroke="#3f3f3f" stroke-width="0.9"/>
<path d="M89.62 571.5V556.2M88.12 556.2H91.13M89.62 585.6V608.3M88.12 608.3H91.13" stroke="#3f3f3f" stroke-width="0.9" fill="none"/>
<rect x="86.61" y="571.5" width="6.02" height="14.1" fill="#2aa39a" stroke="#3f3f3f" stroke-width="0.9"/>
<path d="M86.61 577.5H92.63" stroke="#3f3f3f" stroke-width="0.9"/>
<path d="M95.64 567.1V553.7M94.14 553.7H97.15M95.64 580V600.3M94.14 600.3H97.15" stroke="#3f3f3f" stroke-width="0.9" fill="none"/>
<rect x="92.63" y="567.1" width="6.02" height="12.9" fill="#d3661f" stroke="#3f3f3f" stroke-width="0.9"/>
<path d="M92.63 572.3H98.65" stroke="#3f3f3f" stroke-width="0.9"/>
<path d="M101.66 575.6V554.5M100.16 554.5H103.17M101.66 593.9V622.2M100.16 622.2H103.17" stroke="#3f3f3f" stroke-width="0.9" fill="none"/>
<rect x="98.65" y="575.6" width="6.02" height="18.3" fill="#53789f" stroke="#3f3f3f" stroke-width="0.9"/>
<path d="M98.65 583.4H104.67" stroke="#3f3f3f" stroke-width="0.9"/>
<path d="M107.68 552.6V546.4M106.18 546.4H109.19M107.68 558.4V568.4M106.18 568.4H109.19" stroke="#3f3f3f" stroke-width="0.9" fill="none"/>
<rect x="104.67" y="552.6" width="6.02" height="5.8" fill="#bf3320" stroke="#3f3f3f" stroke-width="0.9"/>
<path d="M104.67 555.3H110.69" stroke="#3f3f3f" stroke-width="0.9"/>
<path d="M121.23 581.9V555.3M119.73 555.3H122.74M121.23 604.2V637.5M119.73 637.5H122.74" stroke="#3f3f3f" stroke-width="0.9" fill="none"/>
<rect x="118.22" y="581.9" width="6.02" height="22.3" fill="#e2a22b" stroke="#3f3f3f" stroke-width="0.9"/>
<path d="M118.22 591.5H124.24" stroke="#3f3f3f" stroke-width="0.9"/>
<path d="M127.25 575.6V556.4M125.75 556.4H128.76M127.25 592.6V619.4M125.75 619.4H128.76" stroke="#3f3f3f" stroke-width="0.9" fill="none"/>
<rect x="124.24" y="575.6" width="6.02" height="17" fill="#2aa39a" stroke="#3f3f3f" stroke-width="0.9"/>
<path d="M124.24 582.3H130.26" stroke="#3f3f3f" stroke-width="0.9"/>
<path d="M133.27 570.4V554.5M131.77 554.5H134.78M133.27 585.6V609.4M131.77 609.4H134.78" stroke="#3f3f3f" stroke-width="0.9" fill="none"/>
<rect x="130.26" y="570.4" width="6.02" height="15.2" fill="#d3661f" stroke="#3f3f3f" stroke-width="0.9"/>
<path d="M130.26 577.3H136.28" stroke="#3f3f3f" stroke-width="0.9"/>
<path d="M139.29 579.5V556.2M137.79 556.2H140.8M139.29 600.5V632.4M137.79 632.4H140.8" stroke="#3f3f3f" stroke-width="0.9" fill="none"/>
<rect x="136.28" y="579.5" width="6.02" height="21" fill="#53789f" stroke="#3f3f3f" stroke-width="0.9"/>
<path d="M136.28 588.4H142.3" stroke="#3f3f3f" stroke-width="0.9"/>
<path d="M145.31 554.2V546.4M143.81 546.4H146.82M145.31 561.2V573.4M143.81 573.4H146.82" stroke="#3f3f3f" stroke-width="0.9" fill="none"/>
<rect x="142.3" y="554.2" width="6.02" height="7" fill="#bf3320" stroke="#3f3f3f" stroke-width="0.9"/>
<path d="M142.3 557.5H148.32" stroke="#3f3f3f" stroke-width="0.9"/>
<path d="M158.86 586.1V553.4M157.35 553.4H160.36M158.86 611.1V648.8M157.35 648.8H160.36" stroke="#3f3f3f" stroke-width="0.9" fill="none"/>
<rect x="155.85" y="586.1" width="6.02" height="25" fill="#e2a22b" stroke="#3f3f3f" stroke-width="0.9"/>
<path d="M155.85 596.4H161.87" stroke="#3f3f3f" stroke-width="0.9"/>
<path d="M164.88 579.5V552.6M163.37 552.6H166.38M164.88 600.3V632M163.37 632H166.38" stroke="#3f3f3f" stroke-width="0.9" fill="none"/>
<rect x="161.87" y="579.5" width="6.02" height="20.8" fill="#2aa39a" stroke="#3f3f3f" stroke-width="0.9"/>
<path d="M161.87 588.4H167.89" stroke="#3f3f3f" stroke-width="0.9"/>
<path d="M170.9 573.7V552.3M169.39 552.3H172.41M170.9 592.2V620.9M169.39 620.9H172.41" stroke="#3f3f3f" stroke-width="0.9" fill="none"/>
<rect x="167.89" y="573.7" width="6.02" height="18.5" fill="#d3661f" stroke="#3f3f3f" stroke-width="0.9"/>
<path d="M167.89 581.5H173.91" stroke="#3f3f3f" stroke-width="0.9"/>
<path d="M176.92 583.4V552.3M175.42 552.3H178.43M176.92 606.9V643M175.42 643H178.43" stroke="#3f3f3f" stroke-width="0.9" fill="none"/>
<rect x="173.91" y="583.4" width="6.02" height="23.5" fill="#53789f" stroke="#3f3f3f" stroke-width="0.9"/>
<path d="M173.91 593.4H179.93" stroke="#3f3f3f" stroke-width="0.9"/>
<path d="M182.94 555.3V544.5M181.44 544.5H184.45M182.94 565.6V581.5M181.44 581.5H184.45" stroke="#3f3f3f" stroke-width="0.9" fill="none"/>
<rect x="179.93" y="555.3" width="6.02" height="10.3" fill="#bf3320" stroke="#3f3f3f" stroke-width="0.9"/>
<path d="M179.93 559.3H185.95" stroke="#3f3f3f" stroke-width="0.9"/>
<path d="M196.49 589.3V552.3M194.98 552.3H197.99M196.49 617.5V661.2M194.98 661.2H197.99" stroke="#3f3f3f" stroke-width="0.9" fill="none"/>
<rect x="193.48" y="589.3" width="6.02" height="28.2" fill="#e2a22b" stroke="#3f3f3f" stroke-width="0.9"/>
<path d="M193.48 601.3H199.5" stroke="#3f3f3f" stroke-width="0.9"/>
<path d="M202.51 582.6V550.9M201 550.9H204.01M202.51 606.4V643.3M201 643.3H204.01" stroke="#3f3f3f" stroke-width="0.9" fill="none"/>
<rect x="199.5" y="582.6" width="6.02" height="23.8" fill="#2aa39a" stroke="#3f3f3f" stroke-width="0.9"/>
<path d="M199.5 592.8H205.52" stroke="#3f3f3f" stroke-width="0.9"/>
<path d="M208.53 576.4V551.2M207.02 551.2H210.03M208.53 597.8V631.3M207.02 631.3H210.03" stroke="#3f3f3f" stroke-width="0.9" fill="none"/>
<rect x="205.52" y="576.4" width="6.02" height="21.4" fill="#d3661f" stroke="#3f3f3f" stroke-width="0.9"/>
<path d="M205.52 585.6H211.54" stroke="#3f3f3f" stroke-width="0.9"/>
<path d="M214.55 585.6V549.5M213.04 549.5H216.05M214.55 612.4V653.5M213.04 653.5H216.05" stroke="#3f3f3f" stroke-width="0.9" fill="none"/>
<rect x="211.54" y="585.6" width="6.02" height="26.8" fill="#53789f" stroke="#3f3f3f" stroke-width="0.9"/>
<path d="M211.54 597.5H217.56" stroke="#3f3f3f" stroke-width="0.9"/>
<path d="M220.57 556.4V542.3M219.06 542.3H222.07M220.57 569.3V588.6M219.06 588.6H222.07" stroke="#3f3f3f" stroke-width="0.9" fill="none"/>
<rect x="217.56" y="556.4" width="6.02" height="12.9" fill="#bf3320" stroke="#3f3f3f" stroke-width="0.9"/>
<path d="M217.56 561.5H223.58" stroke="#3f3f3f" stroke-width="0.9"/>
<path d="M234.12 591.5V551.5M232.61 551.5H235.62M234.12 626.4V675.4M232.61 675.4H235.62" stroke="#3f3f3f" stroke-width="0.9" fill="none"/>
<rect x="231.11" y="591.5" width="6.02" height="34.9" fill="#e2a22b" stroke="#3f3f3f" stroke-width="0.9"/>
<path d="M231.11 606.4H237.13" stroke="#3f3f3f" stroke-width="0.9"/>
<path d="M240.14 582.6V549.5M238.63 549.5H241.64M240.14 611.1V654.9M238.63 654.9H241.64" stroke="#3f3f3f" stroke-width="0.9" fill="none"/>
<rect x="237.13" y="582.6" width="6.02" height="28.5" fill="#2aa39a" stroke="#3f3f3f" stroke-width="0.9"/>
<path d="M237.13 594.5H243.15" stroke="#3f3f3f" stroke-width="0.9"/>
<path d="M246.16 576.4V548.2M244.65 548.2H247.66M246.16 602V641.3M244.65 641.3H247.66" stroke="#3f3f3f" stroke-width="0.9" fill="none"/>
<rect x="243.15" y="576.4" width="6.02" height="25.6" fill="#d3661f" stroke="#3f3f3f" stroke-width="0.9"/>
<path d="M243.15 587H249.17" stroke="#3f3f3f" stroke-width="0.9"/>
<path d="M252.18 587.5V548.4M250.67 548.4H253.68M252.18 619.4V667.1M250.67 667.1H253.68" stroke="#3f3f3f" stroke-width="0.9" fill="none"/>
<rect x="249.17" y="587.5" width="6.02" height="31.9" fill="#53789f" stroke="#3f3f3f" stroke-width="0.9"/>
<path d="M249.17 601.3H255.19" stroke="#3f3f3f" stroke-width="0.9"/>
<path d="M258.2 555.2V541.5M256.69 541.5H259.7M258.2 570.6V594.4M256.69 594.4H259.7" stroke="#3f3f3f" stroke-width="0.9" fill="none"/>
<rect x="255.19" y="555.2" width="6.02" height="15.4" fill="#bf3320" stroke="#3f3f3f" stroke-width="0.9"/>
<path d="M255.19 561.3H261.21" stroke="#3f3f3f" stroke-width="0.9"/>
<path d="M271.74 592.8V548.2M270.24 548.2H273.25M271.74 632.6V675.8M270.24 675.8H273.25" stroke="#3f3f3f" stroke-width="0.9" fill="none"/>
<rect x="268.73" y="592.8" width="6.02" height="39.8" fill="#e2a22b" stroke="#3f3f3f" stroke-width="0.9"/>
<path d="M268.73 610.1H274.75" stroke="#3f3f3f" stroke-width="0.9"/>
<path d="M277.77 578.5V549.3M276.26 549.3H279.27M277.77 609.1V655.5M276.26 655.5H279.27" stroke="#3f3f3f" stroke-width="0.9" fill="none"/>
<rect x="274.75" y="578.5" width="6.02" height="30.6" fill="#2aa39a" stroke="#3f3f3f" stroke-width="0.9"/>
<path d="M274.75 590.7H280.78" stroke="#3f3f3f" stroke-width="0.9"/>
<path d="M283.79 573.8V546.4M282.28 546.4H285.29M283.79 600.2V639.8M282.28 639.8H285.29" stroke="#3f3f3f" stroke-width="0.9" fill="none"/>
<rect x="280.78" y="573.8" width="6.02" height="26.4" fill="#d3661f" stroke="#3f3f3f" stroke-width="0.9"/>
<path d="M280.78 584.4H286.8" stroke="#3f3f3f" stroke-width="0.9"/>
<path d="M289.81 588.5V548M288.3 548H291.31M289.81 624.3V675.8M288.3 675.8H291.31" stroke="#3f3f3f" stroke-width="0.9" fill="none"/>
<rect x="286.8" y="588.5" width="6.02" height="35.8" fill="#53789f" stroke="#3f3f3f" stroke-width="0.9"/>
<path d="M286.8 605H292.82" stroke="#3f3f3f" stroke-width="0.9"/>
<path d="M295.83 551.3V541.2M294.32 541.2H297.33M295.83 565.1V586.4M294.32 586.4H297.33" stroke="#3f3f3f" stroke-width="0.9" fill="none"/>
<rect x="292.82" y="551.3" width="6.02" height="13.8" fill="#bf3320" stroke="#3f3f3f" stroke-width="0.9"/>
<path d="M292.82 556.3H298.84" stroke="#3f3f3f" stroke-width="0.9"/>
<rect x="39.2" y="534.4" width="263.4" height="148.1" fill="none" stroke="#3b3b3b" stroke-width="1.0"/>
<line x1="36.2" y1="676.3" x2="39.2" y2="676.3" stroke="#3b3b3b" stroke-width="0.9"/>
<text x="31.9" y="679.22" font-size="8.1" text-anchor="end" fill="#262626" stroke="#262626">0.0</text>
<line x1="36.2" y1="649.1" x2="39.2" y2="649.1" stroke="#3b3b3b" stroke-width="0.9"/>
<text x="31.9" y="652.02" font-size="8.1" text-anchor="end" fill="#262626" stroke="#262626">0.2</text>
<line x1="36.2" y1="621.9" x2="39.2" y2="621.9" stroke="#3b3b3b" stroke-width="0.9"/>
<text x="31.9" y="624.82" font-size="8.1" text-anchor="end" fill="#262626" stroke="#262626">0.4</text>
<line x1="36.2" y1="594.7" x2="39.2" y2="594.7" stroke="#3b3b3b" stroke-width="0.9"/>
<text x="31.9" y="597.62" font-size="8.1" text-anchor="end" fill="#262626" stroke="#262626">0.6</text>
<line x1="36.2" y1="567.5" x2="39.2" y2="567.5" stroke="#3b3b3b" stroke-width="0.9"/>
<text x="31.9" y="570.42" font-size="8.1" text-anchor="end" fill="#262626" stroke="#262626">0.8</text>
<line x1="36.2" y1="540.3" x2="39.2" y2="540.3" stroke="#3b3b3b" stroke-width="0.9"/>
<text x="31.9" y="543.22" font-size="8.1" text-anchor="end" fill="#262626" stroke="#262626">1.0</text>
<line x1="58.01" y1="682.5" x2="58.01" y2="685.5" stroke="#3b3b3b" stroke-width="0.9"/>
<text x="58.01" y="695.7" font-size="8.1" text-anchor="middle" fill="#262626" stroke="#262626">5</text>
<line x1="95.64" y1="682.5" x2="95.64" y2="685.5" stroke="#3b3b3b" stroke-width="0.9"/>
<text x="95.64" y="695.7" font-size="8.1" text-anchor="middle" fill="#262626" stroke="#262626">6</text>
<line x1="133.27" y1="682.5" x2="133.27" y2="685.5" stroke="#3b3b3b" stroke-width="0.9"/>
<text x="133.27" y="695.7" font-size="8.1" text-anchor="middle" fill="#262626" stroke="#262626">7</text>
<line x1="170.9" y1="682.5" x2="170.9" y2="685.5" stroke="#3b3b3b" stroke-width="0.9"/>
<text x="170.9" y="695.7" font-size="8.1" text-anchor="middle" fill="#262626" stroke="#262626">8</text>
<line x1="208.53" y1="682.5" x2="208.53" y2="685.5" stroke="#3b3b3b" stroke-width="0.9"/>
<text x="208.53" y="695.7" font-size="8.1" text-anchor="middle" fill="#262626" stroke="#262626">9</text>
<line x1="246.16" y1="682.5" x2="246.16" y2="685.5" stroke="#3b3b3b" stroke-width="0.9"/>
<text x="246.16" y="695.7" font-size="8.1" text-anchor="middle" fill="#262626" stroke="#262626">10</text>
<line x1="283.79" y1="682.5" x2="283.79" y2="685.5" stroke="#3b3b3b" stroke-width="0.9"/>
<text x="283.79" y="695.7" font-size="8.1" text-anchor="middle" fill="#262626" stroke="#262626">11</text>
<text x="170.9" y="705.6" font-size="9.5" text-anchor="middle" fill="#262626" stroke="#262626">The length of k-mer</text>
<text transform="translate(12.5,608.45) rotate(-90)" font-size="9.5" text-anchor="middle" fill="#262626" stroke="#262626">Accuracy</text>
<rect x="43.4" y="618.3" width="63.3" height="61.1" rx="1.5" fill="#ffffff" fill-opacity="0.8" stroke="#d6d6d6" stroke-width="0.8"/>
<rect x="46.2" y="622" width="16.7" height="5.6" fill="#e2a22b" stroke="#3f3f3f" stroke-width="0.5"/>
<text x="69.8" y="628" font-size="8.0" text-anchor="start" fill="#262626" stroke="#262626">Guppy</text>
<rect x="46.2" y="633.55" width="16.7" height="5.6" fill="#2aa39a" stroke="#3f3f3f" stroke-width="0.5"/>
<text x="69.8" y="639.55" font-size="8.0" text-anchor="start" fill="#262626" stroke="#262626">RODAN</text>
<rect x="46.2" y="645.1" width="16.7" height="5.6" fill="#d3661f" stroke="#3f3f3f" stroke-width="0.5"/>
<text x="69.8" y="651.1" font-size="8.0" text-anchor="start" fill="#262626" stroke="#262626">GCRTcall</text>
<rect x="46.2" y="656.65" width="16.7" height="5.6" fill="#53789f" stroke="#3f3f3f" stroke-width="0.5"/>
<text x="69.8" y="662.65" font-size="8.0" text-anchor="start" fill="#262626" stroke="#262626">Dorado</text>
<rect x="46.2" y="668.2" width="16.7" height="5.6" fill="#bf3320" stroke="#3f3f3f" stroke-width="0.5"/>
<text x="69.8" y="674.2" font-size="8.0" text-anchor="start" fill="#262626" stroke="#262626">Coral</text>
<g stroke="#ffa51a" stroke-opacity="0.65" stroke-width="4.0" stroke-linecap="round" fill="none"><path d="M650.53 645.13h0"/><path d="M533.32 601.75h0"/><path d="M461.5 647.97h0"/><path d="M545.14 613.75h0"/><path d="M438.36 644.91h0"/><path d="M491.85 647h0"/><path d="M591.54 585.36h0"/><path d="M660.89 591.98h0"/><path d="M454.55 633.24h0"/><path d="M418.13 642.81h0"/><path d="M462.92 621.32h0"/><path d="M476.14 613.66h0"/><path d="M526.9 582.27h0"/><path d="M629.62 606.29h0"/><path d="M542.04 650.43h0"/><path d="M583.62 616.62h0"/><path d="M669.3 633.06h0"/><path d="M668.8 606.18h0"/><path d="M494.88 589.16h0"/><path d="M473 647.82h0"/><path d="M610.16 614.49h0"/><path d="M516.64 601.95h0"/><path d="M659.17 596.7h0"/><path d="M630.87 633.97h0"/><path d="M646.96 593.39h0"/><path d="M534.43 611.91h0"/><path d="M432.97 584.92h0"/><path d="M575.19 615.33h0"/><path d="M436.57 608.15h0"/><path d="M499.31 633.11h0"/><path d="M444.46 622.19h0"/><path d="M429.61 611.69h0"/><path d="M618.02 599.48h0"/><path d="M528.66 596.75h0"/><path d="M463.04 580.82h0"/><path d="M578.83 613.6h0"/><path d="M444.08 626.23h0"/><path d="M483.26 628.44h0"/><path d="M662.47 603.02h0"/><path d="M640.47 604.38h0"/><path d="M468.16 633.76h0"/><path d="M578.35 653.84h0"/><path d="M439.94 579.19h0"/><path d="M480.31 593.26h0"/><path d="M611.8 613.24h0"/><path d="M433.06 622.78h0"/><path d="M437.33 592h0"/><path d="M567.99 629.52h0"/><path d="M509.31 622.02h0"/><path d="M537.94 677.54h0"/><path d="M561.16 592.12h0"/><path d="M453.7 600.47h0"/><path d="M646.49 624.78h0"/><path d="M462.81 603.49h0"/><path d="M603.29 630.66h0"/><path d="M657.15 595.29h0"/><path d="M639.78 618.53h0"/><path d="M440.84 634.53h0"/><path d="M424.19 629.14h0"/><path d="M594.39 592.53h0"/><path d="M479.98 616.62h0"/><path d="M489.3 595.67h0"/><path d="M459.14 644.62h0"/><path d="M472.68 613.87h0"/><path d="M557.27 622.02h0"/><path d="M485.92 589.54h0"/><path d="M648.77 641.89h0"/><path d="M483.11 610.56h0"/><path d="M528.22 607.23h0"/><path d="M508.56 596.31h0"/><path d="M560.54 605.72h0"/><path d="M642.02 594.58h0"/><path d="M664.91 593.08h0"/><path d="M563.68 634.9h0"/><path d="M450.17 646.6h0"/><path d="M646.95 606.95h0"/><path d="M593.47 610.85h0"/><path d="M576.91 606.51h0"/><path d="M537.56 613.28h0"/><path d="M669.73 614.88h0"/><path d="M433.54 635.54h0"/><path d="M644.39 654.4h0"/><path d="M602.7 624.62h0"/><path d="M648.17 625.77h0"/><path d="M504.23 658.05h0"/><path d="M636.95 635.05h0"/><path d="M520.92 665.44h0"/><path d="M560.71 598.36h0"/><path d="M574.04 664.29h0"/><path d="M569.92 638.44h0"/><path d="M434.8 587.85h0"/><path d="M639.17 666.87h0"/><path d="M600.43 677.83h0"/><path d="M562.79 645.71h0"/><path d="M526.9 583.5h0"/><path d="M606.05 606h0"/><path d="M421.91 621.6h0"/><path d="M473.14 636.92h0"/><path d="M592.79 630.41h0"/><path d="M649.57 649.37h0"/><path d="M479.69 611.33h0"/><path d="M587.63 589.11h0"/><path d="M466.08 610.35h0"/><path d="M582.99 583.49h0"/><path d="M497.87 665.33h0"/><path d="M584.5 591.6h0"/><path d="M620.31 602.83h0"/><path d="M647.97 584.71h0"/><path d="M563.34 592.49h0"/><path d="M495.19 630.21h0"/><path d="M628.26 591.17h0"/><path d="M631.23 588.02h0"/><path d="M485.05 627.97h0"/><path d="M457.53 676.32h0"/><path d="M469.02 632.67h0"/><path d="M520.11 605.34h0"/><path d="M494.91 634.22h0"/><path d="M628.78 634.43h0"/><path d="M433.39 582.43h0"/><path d="M422.35 615.32h0"/><path d="M595.42 606.48h0"/><path d="M560.14 617.63h0"/><path d="M419.19 629.36h0"/><path d="M420.62 592.37h0"/><path d="M626.36 589.48h0"/><path d="M426.3 610.8h0"/><path d="M575.12 597.09h0"/><path d="M581.73 648.03h0"/><path d="M620.66 599.37h0"/><path d="M465.25 622.59h0"/><path d="M417.05 628.76h0"/><path d="M534.99 609.33h0"/><path d="M483.91 615.77h0"/><path d="M502.67 628.56h0"/><path d="M571.35 622.65h0"/><path d="M607.58 643.03h0"/><path d="M645.93 649.62h0"/><path d="M436.59 582.2h0"/><path d="M447.5 629.79h0"/><path d="M646.88 648.34h0"/><path d="M510.61 601.05h0"/><path d="M617.95 662.55h0"/><path d="M655.65 635.32h0"/><path d="M466.67 650.28h0"/><path d="M598.82 603.09h0"/><path d="M597.73 595.82h0"/><path d="M468.82 647.26h0"/><path d="M664.11 656.66h0"/><path d="M496.19 658.6h0"/><path d="M646.89 623h0"/><path d="M435.46 596.51h0"/><path d="M526.99 631.71h0"/><path d="M538.89 656h0"/><path d="M421.56 626.37h0"/><path d="M618.74 608.4h0"/><path d="M458.49 621.16h0"/><path d="M450.21 636.26h0"/><path d="M599.24 592.56h0"/><path d="M629 585.72h0"/><path d="M540.2 636.29h0"/><path d="M656.9 672.68h0"/><path d="M548.91 595.54h0"/><path d="M488.47 602.11h0"/><path d="M547.92 617.1h0"/><path d="M629.93 650.29h0"/><path d="M511.74 633.74h0"/><path d="M630.35 620.59h0"/><path d="M631.75 596.96h0"/><path d="M661.83 622.81h0"/><path d="M465.67 646.9h0"/><path d="M551.28 617.33h0"/><path d="M421.39 648.9h0"/><path d="M662.08 612.71h0"/><path d="M619.05 639.24h0"/><path d="M558.17 614.73h0"/><path d="M431.14 653.42h0"/><path d="M551.99 609.64h0"/><path d="M650.32 670.17h0"/><path d="M483.11 576.95h0"/><path d="M525.15 625.89h0"/><path d="M622.79 609.61h0"/><path d="M495.38 586.98h0"/><path d="M463.23 630h0"/><path d="M447.39 657.5h0"/><path d="M613.48 653.61h0"/><path d="M472.39 594.36h0"/><path d="M589.9 609.44h0"/><path d="M572.71 623.08h0"/><path d="M441.11 589.15h0"/><path d="M544.77 613.64h0"/><path d="M478.34 625.74h0"/><path d="M525.94 601.23h0"/><path d="M510.34 580.45h0"/><path d="M455.13 640.43h0"/><path d="M466.51 594.76h0"/><path d="M549.67 638.19h0"/><path d="M631.88 640.36h0"/><path d="M473.77 652.75h0"/><path d="M603.64 646.45h0"/><path d="M495.04 590.28h0"/><path d="M494.81 666.27h0"/><path d="M669.48 595.17h0"/><path d="M641.15 620.84h0"/><path d="M600.01 598.62h0"/><path d="M480.63 597.03h0"/><path d="M522.07 582.68h0"/><path d="M517.25 608.48h0"/><path d="M589.44 625.59h0"/><path d="M588.71 593.94h0"/><path d="M647.24 609.95h0"/><path d="M543.55 598.82h0"/><path d="M608.08 614.62h0"/><path d="M462.61 653.18h0"/><path d="M432.33 612.7h0"/><path d="M555.31 606.1h0"/><path d="M545.89 607.35h0"/><path d="M461.47 625.82h0"/><path d="M466.42 618.36h0"/><path d="M430.13 601.11h0"/><path d="M657.5 617.35h0"/><path d="M497.84 656.75h0"/><path d="M533.65 601.1h0"/><path d="M567.9 640.57h0"/><path d="M417.69 614.73h0"/><path d="M460.63 627.8h0"/><path d="M530.33 661.76h0"/><path d="M464.17 613.82h0"/><path d="M456.49 639.53h0"/><path d="M642.6 616.74h0"/><path d="M619.21 612.35h0"/><path d="M575.17 627.09h0"/><path d="M517.69 663.59h0"/><path d="M665.47 637.98h0"/><path d="M620.01 630.77h0"/><path d="M604.57 615.07h0"/><path d="M517.98 603.27h0"/><path d="M643.45 660.94h0"/><path d="M610.41 581.58h0"/><path d="M609.89 640.57h0"/><path d="M432.33 647.97h0"/><path d="M501.64 587.76h0"/><path d="M505.2 615.85h0"/><path d="M577.55 611.21h0"/><path d="M655.76 625.98h0"/><path d="M584.55 625.81h0"/><path d="M559.88 632.82h0"/><path d="M550.55 578.1h0"/><path d="M609 638.35h0"/><path d="M664.81 644.8h0"/><path d="M603.13 574.91h0"/><path d="M479.89 606.62h0"/><path d="M464.26 619.08h0"/><path d="M510.32 606.92h0"/><path d="M645.78 595.2h0"/><path d="M554.89 600.04h0"/><path d="M559.47 615.45h0"/><path d="M621.21 573.38h0"/><path d="M433.78 613.16h0"/><path d="M425.83 649.37h0"/><path d="M652.04 638.27h0"/><path d="M457.53 595.57h0"/><path d="M540.95 586.14h0"/><path d="M655.91 619.18h0"/><path d="M521.83 618.03h0"/><path d="M507.74 648.02h0"/><path d="M487.34 618.09h0"/><path d="M486.77 631.48h0"/><path d="M597.46 640.72h0"/><path d="M476.93 613.27h0"/><path d="M425.23 607.61h0"/></g>
<g stroke="#20b5ad" stroke-opacity="0.65" stroke-width="4.0" stroke-linecap="round" fill="none"><path d="M513.97 580.4h0"/><path d="M643.71 574.32h0"/><path d="M667.03 592.51h0"/><path d="M655.7 596.64h0"/><path d="M524.08 567.19h0"/><path d="M536.38 579.89h0"/><path d="M548.07 582.89h0"/><path d="M653.86 594.1h0"/><path d="M664.48 594.96h0"/><path d="M623.04 606.87h0"/><path d="M573.86 597.59h0"/><path d="M530.77 596.37h0"/><path d="M549.28 591.25h0"/><path d="M446.08 588.4h0"/><path d="M530.74 610.55h0"/><path d="M481.3 585.69h0"/><path d="M613.15 604.26h0"/><path d="M549.96 599.17h0"/><path d="M601.98 592.95h0"/><path d="M642.47 592.01h0"/><path d="M614.77 586.1h0"/><path d="M483.7 601.15h0"/><path d="M589.39 601.14h0"/><path d="M576.12 608.45h0"/><path d="M606.85 599.37h0"/><path d="M664.71 588.84h0"/><path d="M648.36 583.33h0"/><path d="M429.84 589.8h0"/><path d="M483.55 595.02h0"/><path d="M440.49 608.67h0"/><path d="M552.74 584.24h0"/><path d="M587.15 587.51h0"/><path d="M555.04 590.04h0"/><path d="M536.62 601.01h0"/><path d="M468.14 601.69h0"/><path d="M628.63 604.41h0"/><path d="M433.3 574.6h0"/><path d="M573.72 575.2h0"/><path d="M610.79 576.29h0"/><path d="M480.26 589.34h0"/><path d="M621.3 579.17h0"/><path d="M667.13 605.34h0"/><path d="M497.47 578.58h0"/><path d="M649.66 613h0"/><path d="M523.61 598.95h0"/><path d="M637.99 596.47h0"/><path d="M434.37 588.17h0"/><path d="M538.23 577.94h0"/><path d="M589.47 584.12h0"/><path d="M433.75 599.27h0"/><path d="M468.81 571.05h0"/><path d="M491.95 595.29h0"/><path d="M599.61 597.04h0"/><path d="M450.83 596.13h0"/><path d="M505.75 602.43h0"/><path d="M444.3 594.34h0"/><path d="M595.59 604.75h0"/><path d="M654.54 618.88h0"/><path d="M647.76 604.75h0"/><path d="M492.2 614.15h0"/><path d="M495.48 583.57h0"/><path d="M642.99 617h0"/><path d="M477.77 574.56h0"/><path d="M507.16 600.48h0"/><path d="M515.42 583h0"/><path d="M558.41 598.99h0"/><path d="M618.03 586.91h0"/><path d="M558.14 616.41h0"/><path d="M459.44 598.71h0"/><path d="M486.24 590.96h0"/><path d="M419.98 619.25h0"/><path d="M559.34 608.69h0"/><path d="M661.31 594.07h0"/><path d="M430.67 606.13h0"/><path d="M554.06 611.58h0"/><path d="M435.18 591.18h0"/><path d="M602.69 597.77h0"/><path d="M576.38 588.07h0"/><path d="M451.07 595.71h0"/><path d="M477.04 592.97h0"/><path d="M470.65 611.28h0"/><path d="M609.76 590.95h0"/><path d="M515.1 608.19h0"/><path d="M586.16 610.38h0"/><path d="M598.57 608.6h0"/><path d="M595.3 591.83h0"/><path d="M625.48 580.97h0"/><path d="M584.72 599.28h0"/><path d="M627.42 578.22h0"/><path d="M641.44 611.21h0"/><path d="M548.2 574.53h0"/><path d="M595.8 597.35h0"/><path d="M521.77 588.08h0"/><path d="M451.67 605.35h0"/><path d="M510.28 594.67h0"/><path d="M457.15 632.32h0"/><path d="M488.94 588.6h0"/><path d="M662.17 579.35h0"/><path d="M443.65 582.07h0"/><path d="M579.92 588.41h0"/><path d="M430.24 591.15h0"/><path d="M531.56 600.54h0"/><path d="M423.6 617.08h0"/><path d="M442.08 606.83h0"/><path d="M474.47 588.83h0"/><path d="M597.63 584.13h0"/><path d="M461.58 600.14h0"/><path d="M486.14 597.67h0"/><path d="M493.98 582.23h0"/><path d="M554.43 573.13h0"/><path d="M480.87 586.39h0"/><path d="M641.12 606.03h0"/><path d="M554.2 582.26h0"/><path d="M658.91 598.58h0"/><path d="M427 601.61h0"/><path d="M656.48 591.47h0"/><path d="M549.15 588.4h0"/><path d="M546.14 604.63h0"/><path d="M582.37 598.55h0"/><path d="M535.11 592.32h0"/><path d="M509.27 590.55h0"/><path d="M569.21 586.52h0"/><path d="M454.5 612.14h0"/><path d="M480.61 586.15h0"/><path d="M636.48 582.92h0"/><path d="M668.14 610.89h0"/><path d="M482.42 594.34h0"/><path d="M611.21 599.73h0"/><path d="M414.65 594.07h0"/><path d="M624.42 581.56h0"/><path d="M435.37 615.14h0"/><path d="M439.14 595.05h0"/><path d="M537.01 571.99h0"/><path d="M564.24 624.28h0"/><path d="M633.43 586.13h0"/><path d="M520.88 600.05h0"/><path d="M648.62 570.81h0"/><path d="M467.57 572.01h0"/><path d="M553.18 579.31h0"/><path d="M626.96 599.99h0"/><path d="M493.89 593.69h0"/><path d="M492.44 594.4h0"/><path d="M533.72 587.67h0"/><path d="M589.92 595.14h0"/><path d="M441.33 604.46h0"/><path d="M661.44 603.86h0"/><path d="M626.38 583.55h0"/><path d="M510.69 593.64h0"/><path d="M595.78 594.16h0"/><path d="M531.39 591.16h0"/><path d="M416.98 575.77h0"/><path d="M467.14 569.2h0"/><path d="M571.76 593.7h0"/><path d="M552.26 595.64h0"/><path d="M490.52 580.25h0"/><path d="M584.7 599.24h0"/><path d="M479.85 581.4h0"/><path d="M498.49 585.95h0"/><path d="M655.85 572.42h0"/><path d="M499.07 611.73h0"/><path d="M625.65 600.49h0"/><path d="M438.43 586.48h0"/><path d="M587.52 588.55h0"/><path d="M517.12 594.59h0"/><path d="M628.21 600.38h0"/><path d="M472.21 597.19h0"/><path d="M454.45 595.58h0"/><path d="M432.88 583.02h0"/><path d="M649.61 583.13h0"/><path d="M579.73 606.43h0"/><path d="M610.31 585.58h0"/><path d="M499.01 586.92h0"/><path d="M519.64 604.05h0"/><path d="M593.19 579.38h0"/><path d="M665.28 591.2h0"/><path d="M569.86 587.76h0"/><path d="M419.04 610.99h0"/><path d="M580.62 598.27h0"/><path d="M441.46 582.08h0"/><path d="M615.85 603.62h0"/><path d="M625.22 581.68h0"/><path d="M610.22 598.31h0"/><path d="M645.1 597.39h0"/><path d="M542.2 604.04h0"/><path d="M450.53 596.09h0"/><path d="M546.2 601.18h0"/><path d="M597.15 629.71h0"/><path d="M655.81 588.06h0"/><path d="M574.59 599.88h0"/><path d="M476.82 590.73h0"/><path d="M561.65 587.34h0"/><path d="M651.76 596.26h0"/><path d="M506.62 603.45h0"/><path d="M663.14 598.98h0"/><path d="M448.96 590.93h0"/><path d="M557.62 579.06h0"/><path d="M557.52 601.7h0"/><path d="M667.89 595.04h0"/><path d="M445.65 585.21h0"/><path d="M625.08 608.55h0"/><path d="M475.86 599.13h0"/><path d="M560.91 565.56h0"/><path d="M554.33 588.42h0"/><path d="M433.79 599.75h0"/><path d="M666.58 584.44h0"/><path d="M654.42 590.83h0"/><path d="M585.87 598.54h0"/><path d="M602.85 601.82h0"/><path d="M619.75 605.28h0"/><path d="M418.48 580.69h0"/><path d="M450.85 587.92h0"/><path d="M513.06 578.59h0"/><path d="M547.15 599.75h0"/><path d="M481.69 595.87h0"/><path d="M578.32 603.1h0"/><path d="M423.98 597.31h0"/><path d="M659.5 595.93h0"/><path d="M567.68 598.87h0"/><path d="M573.74 605.62h0"/><path d="M590.48 589.96h0"/><path d="M538.47 591.38h0"/><path d="M668.52 614.15h0"/><path d="M518.84 579.02h0"/><path d="M525.22 614.2h0"/><path d="M548.74 618.31h0"/><path d="M548.49 603.84h0"/><path d="M496.27 618.12h0"/><path d="M428.28 580.84h0"/><path d="M601.4 596.74h0"/><path d="M567.02 620.05h0"/><path d="M565.98 592.34h0"/><path d="M432.14 603.56h0"/><path d="M542.77 582.43h0"/><path d="M515.7 582.5h0"/><path d="M548.8 573.5h0"/><path d="M475.43 586.05h0"/><path d="M474.59 596.99h0"/><path d="M431.79 580.23h0"/><path d="M584.45 610.39h0"/><path d="M620.12 583.38h0"/><path d="M470.99 602.59h0"/><path d="M645.21 592.83h0"/><path d="M439.49 609.29h0"/><path d="M551.71 590.71h0"/><path d="M657.37 598.92h0"/><path d="M490.79 582.75h0"/><path d="M497.31 592.44h0"/><path d="M622.73 566.97h0"/><path d="M515.84 581.88h0"/><path d="M426.03 603.18h0"/><path d="M422.26 578.94h0"/><path d="M541.69 583.51h0"/><path d="M653.01 599.11h0"/><path d="M467.08 577.91h0"/><path d="M489.79 594.56h0"/><path d="M464.27 567.97h0"/><path d="M628.47 605.42h0"/><path d="M458.23 601.42h0"/><path d="M639.15 580.8h0"/><path d="M575.94 583.74h0"/><path d="M463.25 592.72h0"/><path d="M441.42 589.43h0"/><path d="M599.81 595.32h0"/><path d="M636.56 603.24h0"/><path d="M596.58 566.71h0"/><path d="M654 579.19h0"/><path d="M528.08 577.43h0"/><path d="M492.81 584.35h0"/><path d="M595.91 588.07h0"/><path d="M474.48 589.76h0"/></g>
<g stroke="#f06010" stroke-opacity="0.65" stroke-width="4.0" stroke-linecap="round" fill="none"><path d="M584.17 575.61h0"/><path d="M583.51 579.82h0"/><path d="M640.36 593.86h0"/><path d="M491.22 589.98h0"/><path d="M651.17 587.32h0"/><path d="M577.86 587.5h0"/><path d="M437.3 591.04h0"/><path d="M549.33 569.95h0"/><path d="M549.97 584.09h0"/><path d="M487.03 567.24h0"/><path d="M478.43 578.19h0"/><path d="M487.18 581.05h0"/><path d="M607.45 587.53h0"/><path d="M554.39 582.47h0"/><path d="M461.93 573.08h0"/><path d="M422.89 604.03h0"/><path d="M512.63 602.01h0"/><path d="M651.82 577.98h0"/><path d="M556.41 590.23h0"/><path d="M579.15 582.72h0"/><path d="M614.43 593.82h0"/><path d="M546.38 569.24h0"/><path d="M589.19 605.74h0"/><path d="M547.34 583.53h0"/><path d="M613.58 575.69h0"/><path d="M456.52 584.93h0"/><path d="M526.87 589.51h0"/><path d="M611.88 588.2h0"/><path d="M474.61 577.92h0"/><path d="M539.32 603.26h0"/><path d="M541.83 579.9h0"/><path d="M423.33 567.28h0"/><path d="M560.66 598.21h0"/><path d="M637.41 593.51h0"/><path d="M418.85 579.81h0"/><path d="M541.1 576.53h0"/><path d="M481.51 594.52h0"/><path d="M618.4 577.58h0"/><path d="M559.71 571.28h0"/><path d="M475.13 603.05h0"/><path d="M451.68 588.38h0"/><path d="M494.65 584.03h0"/><path d="M573.08 579.47h0"/><path d="M564.77 591.95h0"/><path d="M436.91 584.21h0"/><path d="M479.43 579.58h0"/><path d="M455.15 589.33h0"/><path d="M615.38 590.91h0"/><path d="M429.93 603.65h0"/><path d="M469.6 592.33h0"/><path d="M662.37 576.68h0"/><path d="M608.88 569.38h0"/><path d="M666.37 579.11h0"/><path d="M604.7 574.64h0"/><path d="M424.33 572.36h0"/><path d="M450.48 581.25h0"/><path d="M522.79 590.56h0"/><path d="M433.85 576.47h0"/><path d="M609.39 574.23h0"/><path d="M479.02 583.58h0"/><path d="M555.36 591.29h0"/><path d="M652.63 582.03h0"/><path d="M507.34 569.48h0"/><path d="M570.44 600.2h0"/><path d="M580.38 570.99h0"/><path d="M429.26 579.73h0"/><path d="M635.24 592.87h0"/><path d="M565.27 567.42h0"/><path d="M514.73 572.68h0"/><path d="M629.78 591.42h0"/><path d="M469.35 597.97h0"/><path d="M503.1 568.6h0"/><path d="M456.18 576.62h0"/><path d="M466.35 568.96h0"/><path d="M493.16 579.76h0"/><path d="M528.58 569.67h0"/><path d="M634.81 564.76h0"/><path d="M466.59 583.47h0"/><path d="M591.01 586.16h0"/><path d="M507.03 579.61h0"/><path d="M460.83 583.07h0"/><path d="M481.35 580.44h0"/><path d="M597.1 603.86h0"/><path d="M482.96 565.88h0"/><path d="M653.7 587.14h0"/><path d="M506.25 577.45h0"/><path d="M646.14 580.84h0"/><path d="M419.51 601.74h0"/><path d="M435.56 587.86h0"/><path d="M639.83 572.16h0"/><path d="M547.03 592.04h0"/><path d="M428.33 564.51h0"/><path d="M424.73 589.63h0"/><path d="M452.86 577.29h0"/><path d="M494.12 585.22h0"/><path d="M522.69 584.43h0"/><path d="M594.91 588.92h0"/><path d="M480.86 584.48h0"/><path d="M451.92 585.43h0"/><path d="M466.65 600.17h0"/><path d="M517.9 586.29h0"/><path d="M513.09 564.24h0"/><path d="M488.95 577.04h0"/><path d="M502.47 589.09h0"/><path d="M420.57 581.99h0"/><path d="M575.43 579.36h0"/><path d="M663.66 602.57h0"/><path d="M490.49 591.45h0"/><path d="M469.56 595.52h0"/><path d="M590.46 606.18h0"/><path d="M636.25 597.58h0"/><path d="M474.26 608.43h0"/><path d="M523.62 586.2h0"/><path d="M514.61 586.55h0"/><path d="M498.18 571.83h0"/><path d="M541.36 578.4h0"/><path d="M517.16 584.02h0"/><path d="M535.77 575.84h0"/><path d="M475.59 573.91h0"/><path d="M438.08 567.45h0"/><path d="M452.84 589.53h0"/><path d="M563.22 572.26h0"/><path d="M593.26 587.27h0"/><path d="M420.19 597.15h0"/><path d="M430.39 591.52h0"/><path d="M517.65 575.56h0"/><path d="M564.05 569.59h0"/><path d="M534.16 578.03h0"/><path d="M420.31 586.88h0"/><path d="M503.01 574.62h0"/><path d="M481.24 570.75h0"/><path d="M585.05 592.4h0"/><path d="M571.56 577.47h0"/><path d="M658.31 570.38h0"/><path d="M655.17 592.87h0"/><path d="M611.49 570.85h0"/><path d="M519.34 594.28h0"/><path d="M520.52 594.63h0"/><path d="M639.15 586.39h0"/><path d="M511.91 560.6h0"/><path d="M449.02 579.92h0"/><path d="M543.91 584.51h0"/><path d="M664.01 586.78h0"/><path d="M452.6 572.21h0"/><path d="M588.15 579.68h0"/><path d="M474.25 574.69h0"/><path d="M514.98 567.79h0"/><path d="M475.47 582.63h0"/><path d="M554.4 599.98h0"/><path d="M573.89 582.03h0"/><path d="M661.93 603.58h0"/><path d="M499.55 591.1h0"/><path d="M494.39 596.91h0"/><path d="M597.29 562.31h0"/><path d="M660.67 588.83h0"/><path d="M625.01 599.82h0"/><path d="M539.71 573.77h0"/><path d="M558.41 568.72h0"/><path d="M605.73 589.39h0"/><path d="M550.78 575.57h0"/><path d="M497.37 581.99h0"/><path d="M459.74 573.72h0"/><path d="M430.46 588.88h0"/><path d="M431.85 583.25h0"/><path d="M443.12 567.81h0"/><path d="M529.72 571.57h0"/><path d="M455.85 580.83h0"/><path d="M635.72 596.23h0"/><path d="M479.19 580.02h0"/><path d="M544 585.6h0"/><path d="M597.29 579.3h0"/><path d="M478.66 594.11h0"/><path d="M499.63 584.99h0"/><path d="M608.36 593.08h0"/><path d="M559.34 570.41h0"/><path d="M521.8 601.41h0"/><path d="M626.7 587.17h0"/><path d="M619.09 598.76h0"/><path d="M585.39 574.53h0"/><path d="M473.35 574.51h0"/><path d="M563.96 581.93h0"/><path d="M654.82 580.9h0"/><path d="M590.05 576.44h0"/><path d="M521.47 583.9h0"/><path d="M652.87 590.84h0"/><path d="M667.04 591.53h0"/><path d="M444.56 564.76h0"/><path d="M425.14 577.05h0"/><path d="M668.27 587.06h0"/><path d="M445.01 563.89h0"/><path d="M552.98 584.05h0"/><path d="M537.76 580.3h0"/><path d="M618.9 589.9h0"/><path d="M628.67 575.4h0"/><path d="M572.2 585.22h0"/><path d="M609.93 571.1h0"/><path d="M591.7 570.97h0"/><path d="M553.84 584.13h0"/><path d="M459.05 580.64h0"/><path d="M441.68 589.11h0"/><path d="M539.1 574.43h0"/><path d="M445.07 586.4h0"/><path d="M558.95 583.77h0"/><path d="M451.01 580.62h0"/><path d="M472.46 589.45h0"/><path d="M537.55 589.48h0"/><path d="M427.39 588.87h0"/><path d="M430.75 575.82h0"/><path d="M434.34 574.71h0"/><path d="M460.95 589.12h0"/><path d="M465.98 578.48h0"/><path d="M520.26 573.51h0"/><path d="M620.57 592.88h0"/><path d="M555.02 585.98h0"/><path d="M582.2 580.22h0"/><path d="M654.27 589.59h0"/><path d="M635.29 589.43h0"/><path d="M627.4 569.83h0"/><path d="M599.6 583.18h0"/><path d="M457.46 581.47h0"/><path d="M444.66 580.24h0"/><path d="M606.91 572.7h0"/><path d="M493.54 577.64h0"/><path d="M468.01 584.44h0"/><path d="M659.48 582.88h0"/><path d="M621.36 568.17h0"/><path d="M616.81 581.71h0"/><path d="M619.56 583.82h0"/><path d="M625.85 594.7h0"/><path d="M440.07 578.86h0"/><path d="M657.21 617.31h0"/><path d="M478.32 597.95h0"/><path d="M646.8 571.99h0"/><path d="M472.38 567.26h0"/><path d="M513.57 580.42h0"/><path d="M621.53 594.6h0"/><path d="M507.51 569.96h0"/><path d="M485.67 589.93h0"/><path d="M645.65 591.22h0"/><path d="M499.87 585.03h0"/><path d="M603.86 577.95h0"/><path d="M553.92 577.99h0"/><path d="M588.16 563.64h0"/><path d="M450.84 580.23h0"/><path d="M503.85 577.66h0"/><path d="M542.76 584.21h0"/><path d="M517.4 582.03h0"/><path d="M657.7 589.15h0"/><path d="M466.62 569.39h0"/><path d="M607.05 575.06h0"/><path d="M442 589.88h0"/><path d="M660.35 570.12h0"/><path d="M470.44 583.71h0"/><path d="M459.75 598.35h0"/><path d="M484.17 572.55h0"/><path d="M496.66 595.5h0"/><path d="M461.19 608.7h0"/><path d="M452.16 605.15h0"/><path d="M578.87 590.42h0"/><path d="M468.56 591.42h0"/><path d="M633.18 601.28h0"/><path d="M574.97 599.35h0"/><path d="M443.47 598.15h0"/><path d="M628.36 583.19h0"/><path d="M584.39 587.55h0"/><path d="M521.49 594.89h0"/><path d="M567.83 589.17h0"/><path d="M560.7 577.01h0"/><path d="M574.64 585.76h0"/><path d="M528.5 583.01h0"/></g>
<g stroke="#4a78b0" stroke-opacity="0.65" stroke-width="4.0" stroke-linecap="round" fill="none"><path d="M652.42 625.13h0"/><path d="M453.13 617.81h0"/><path d="M602.93 663.45h0"/><path d="M494.29 591.32h0"/><path d="M517.07 608.2h0"/><path d="M636.02 661.93h0"/><path d="M629.06 617.53h0"/><path d="M580.24 602.51h0"/><path d="M618.18 569.41h0"/><path d="M545.06 617.3h0"/><path d="M636.69 596.17h0"/><path d="M596.19 603.59h0"/><path d="M530.36 603.47h0"/><path d="M551.38 567.92h0"/><path d="M485.77 594.75h0"/><path d="M578.83 612.94h0"/><path d="M615.49 581.09h0"/><path d="M539.73 592.24h0"/><path d="M632.85 601.51h0"/><path d="M611.31 568.36h0"/><path d="M617.95 643.67h0"/><path d="M453.09 616.22h0"/><path d="M423.71 609.27h0"/><path d="M502.68 596.61h0"/><path d="M444.31 578.9h0"/><path d="M460.74 631.05h0"/><path d="M572.02 632.33h0"/><path d="M644.8 578.88h0"/><path d="M467.14 578.02h0"/><path d="M600.29 630.76h0"/><path d="M464.67 632.25h0"/><path d="M418.23 613.46h0"/><path d="M501.09 621.35h0"/><path d="M485.49 614.28h0"/><path d="M568.44 578.1h0"/><path d="M447.02 607.49h0"/><path d="M591.62 614.89h0"/><path d="M443.96 613.33h0"/><path d="M654.82 601.16h0"/><path d="M464.44 617.44h0"/><path d="M668.58 615h0"/><path d="M506.4 614.72h0"/><path d="M493.6 633.03h0"/><path d="M575.64 612.5h0"/><path d="M522.86 597.33h0"/><path d="M531.05 594.77h0"/><path d="M543.76 621.4h0"/><path d="M594.14 586.52h0"/><path d="M474.38 609.75h0"/><path d="M637.34 617.34h0"/><path d="M487.53 610.94h0"/><path d="M530.58 585.42h0"/><path d="M652.95 626.52h0"/><path d="M567.98 627.78h0"/><path d="M528.91 582.44h0"/><path d="M486.2 584.61h0"/><path d="M526.99 595.33h0"/><path d="M591.92 587.73h0"/><path d="M586.08 607.89h0"/><path d="M448.08 602.64h0"/><path d="M643.15 583.23h0"/><path d="M501.6 603.52h0"/><path d="M624.02 582.93h0"/><path d="M553.84 587.95h0"/><path d="M439.71 624.37h0"/><path d="M507.23 596.63h0"/><path d="M510.02 608.39h0"/><path d="M502.19 608.19h0"/><path d="M643.8 631.9h0"/><path d="M576.09 599.29h0"/><path d="M534.22 604.62h0"/><path d="M495.08 617.39h0"/><path d="M585.77 586.66h0"/><path d="M663.88 644.09h0"/><path d="M668.01 635.16h0"/><path d="M580.43 632.27h0"/><path d="M593.48 580.88h0"/><path d="M532.44 596.07h0"/><path d="M516.87 603.41h0"/><path d="M667.28 610.92h0"/><path d="M467.83 614.67h0"/><path d="M515.17 610.72h0"/><path d="M603.9 595.41h0"/><path d="M580.17 593.11h0"/><path d="M573.54 597.4h0"/><path d="M621.65 604.05h0"/><path d="M601.11 618.2h0"/><path d="M534.09 601.7h0"/><path d="M418.34 613.02h0"/><path d="M643.27 573.48h0"/><path d="M420.48 639.51h0"/><path d="M550.7 617.65h0"/><path d="M442.73 583.86h0"/><path d="M543.97 599.28h0"/><path d="M446.14 619.33h0"/><path d="M436.88 612.67h0"/><path d="M545.22 607.56h0"/><path d="M477.37 612.53h0"/><path d="M520.1 570.78h0"/><path d="M529.75 590.43h0"/><path d="M556.95 598.74h0"/><path d="M440.97 640.11h0"/><path d="M631.58 593.7h0"/><path d="M548.48 574.19h0"/><path d="M635.1 625.65h0"/><path d="M660.64 588.42h0"/><path d="M453.6 605.76h0"/><path d="M623.49 601.83h0"/><path d="M454.31 606.31h0"/><path d="M550.04 633.96h0"/><path d="M491.17 594.03h0"/><path d="M661.26 601.63h0"/><path d="M426.08 626.86h0"/><path d="M520.66 632.92h0"/><path d="M442.86 589.94h0"/><path d="M649.15 596.14h0"/><path d="M581.47 614.04h0"/><path d="M640.93 583.42h0"/><path d="M542.34 579.46h0"/><path d="M645.32 611.65h0"/><path d="M603.27 616.27h0"/><path d="M480.32 593.18h0"/><path d="M536.19 617.24h0"/><path d="M505.93 588.06h0"/><path d="M426.97 622.66h0"/><path d="M627.89 594.28h0"/><path d="M554.25 581.19h0"/><path d="M516.47 594.27h0"/><path d="M509.36 601.78h0"/><path d="M494.66 594.52h0"/><path d="M605.86 617.35h0"/><path d="M538.88 601.89h0"/><path d="M661.28 583.41h0"/><path d="M416.11 602.19h0"/><path d="M507.76 644.65h0"/><path d="M567.16 630.78h0"/><path d="M570.01 614.53h0"/><path d="M564.96 591.19h0"/><path d="M546.24 612.41h0"/><path d="M606.96 582.31h0"/><path d="M478.7 595.17h0"/><path d="M483.34 600.49h0"/><path d="M634.13 597.5h0"/><path d="M517.12 623h0"/><path d="M436.14 609.87h0"/><path d="M665.83 574.61h0"/><path d="M495.42 594.78h0"/><path d="M623.73 618.47h0"/><path d="M428.8 596.64h0"/><path d="M609.47 630.47h0"/><path d="M555.41 577.23h0"/><path d="M651.32 595.2h0"/><path d="M653.11 605.98h0"/><path d="M606.7 606.48h0"/><path d="M602.65 605.12h0"/><path d="M521.23 604.3h0"/><path d="M648.62 627.25h0"/><path d="M433.46 653.89h0"/><path d="M606.4 599.19h0"/><path d="M510.87 623.92h0"/><path d="M444.45 623.09h0"/><path d="M496.07 596.56h0"/><path d="M443.91 604.03h0"/><path d="M627.47 610.78h0"/><path d="M443.24 615.65h0"/><path d="M444.56 624.56h0"/><path d="M557.49 621.13h0"/><path d="M520.33 591.45h0"/><path d="M551.38 609.61h0"/><path d="M637.62 597.98h0"/><path d="M535.04 611.78h0"/><path d="M510.79 582.97h0"/><path d="M586.67 599.24h0"/><path d="M590.55 582.83h0"/><path d="M513.47 613.23h0"/><path d="M604.04 601.66h0"/><path d="M456.86 612.36h0"/><path d="M502.8 614.55h0"/><path d="M456.18 610.04h0"/><path d="M547.2 618.61h0"/><path d="M513.61 582.17h0"/><path d="M505.87 636.78h0"/><path d="M563.52 620.17h0"/><path d="M498.14 657.66h0"/><path d="M592.56 596.61h0"/><path d="M600.99 601.74h0"/><path d="M561.26 588.21h0"/><path d="M625.13 603.62h0"/><path d="M510.81 596.21h0"/><path d="M572.17 607.65h0"/><path d="M557.31 623.62h0"/><path d="M530.8 609.8h0"/><path d="M606.8 617.41h0"/><path d="M440.45 602.14h0"/><path d="M423.26 616.46h0"/><path d="M592.83 567.85h0"/><path d="M499.42 625.78h0"/><path d="M453.04 613.55h0"/><path d="M620.25 571.7h0"/><path d="M439.27 613.4h0"/><path d="M465.23 600.4h0"/><path d="M551.04 616.69h0"/><path d="M609.8 610.94h0"/><path d="M563.17 609.61h0"/><path d="M590.48 567.59h0"/><path d="M507.34 629.47h0"/><path d="M488.65 573.71h0"/><path d="M633.5 612.71h0"/><path d="M477.99 605.52h0"/><path d="M419.5 618.44h0"/><path d="M489.2 617.82h0"/><path d="M478.93 606.76h0"/><path d="M483.98 588.09h0"/><path d="M487.16 586.78h0"/><path d="M637.64 607.32h0"/><path d="M455.22 580.39h0"/><path d="M570.06 578.96h0"/><path d="M553.29 632.88h0"/><path d="M582.98 605.74h0"/><path d="M649.26 627.3h0"/><path d="M428.19 600.92h0"/><path d="M653.7 618.25h0"/><path d="M473.96 625.62h0"/><path d="M530.04 577.24h0"/><path d="M655.49 624.96h0"/><path d="M543.54 580.39h0"/><path d="M473.65 619.84h0"/><path d="M657.08 610.59h0"/><path d="M582.26 567.66h0"/><path d="M432.65 573.72h0"/><path d="M558.82 595.93h0"/><path d="M444.9 608.54h0"/><path d="M637.21 586.57h0"/><path d="M430 604.48h0"/><path d="M421.88 606.98h0"/><path d="M560.23 609.63h0"/><path d="M632.92 573.83h0"/><path d="M614.9 606.5h0"/><path d="M549 611.06h0"/><path d="M461.48 604.34h0"/><path d="M541.84 621.29h0"/><path d="M464.78 606.35h0"/><path d="M538.49 608.96h0"/><path d="M434.41 622.77h0"/><path d="M662.88 628.13h0"/><path d="M557.81 601.27h0"/><path d="M500.09 592.4h0"/><path d="M593.75 590.95h0"/><path d="M657.1 623.26h0"/><path d="M653.27 568.9h0"/><path d="M419.46 620.75h0"/><path d="M589.57 629.32h0"/><path d="M570.91 601.62h0"/><path d="M436.38 637.69h0"/><path d="M547.02 632.92h0"/><path d="M442.86 598.5h0"/><path d="M636.43 604.56h0"/><path d="M422.47 599.16h0"/><path d="M626.38 604.45h0"/><path d="M562.57 612.21h0"/><path d="M607.88 625.19h0"/><path d="M431.66 603.05h0"/><path d="M617.29 603.98h0"/><path d="M518.49 566.82h0"/><path d="M500.06 608.99h0"/><path d="M611.16 605.24h0"/><path d="M481.33 600.53h0"/><path d="M500.02 623.77h0"/><path d="M586.8 615.52h0"/><path d="M639.7 616.99h0"/></g>
<g stroke="#dd2a08" stroke-opacity="0.65" stroke-width="4.0" stroke-linecap="round" fill="none"><path d="M459.21 548.19h0"/><path d="M536.73 550.32h0"/><path d="M614.6 551.78h0"/><path d="M581.55 549.6h0"/><path d="M480.82 551.97h0"/><path d="M638.46 553.01h0"/><path d="M461.46 547.37h0"/><path d="M498.54 547.24h0"/><path d="M599.98 553.72h0"/><path d="M552.34 553.45h0"/><path d="M434.38 560.04h0"/><path d="M469.98 546.97h0"/><path d="M520.21 552.89h0"/><path d="M505.41 554.75h0"/><path d="M647.15 546.96h0"/><path d="M448.95 554.99h0"/><path d="M616.12 546.94h0"/><path d="M616.33 548.01h0"/><path d="M511.29 554.14h0"/><path d="M603.83 549.11h0"/><path d="M535.93 557.74h0"/><path d="M541.84 547.03h0"/><path d="M511.53 547.74h0"/><path d="M450.97 564.06h0"/><path d="M466.85 554.07h0"/><path d="M652.38 562.31h0"/><path d="M501.69 561.69h0"/><path d="M596.93 550.77h0"/><path d="M655.99 548.44h0"/><path d="M587.65 548.07h0"/><path d="M639.87 550.8h0"/><path d="M530.28 549.54h0"/><path d="M484.08 549.47h0"/><path d="M654.27 549.58h0"/><path d="M503.13 551.41h0"/><path d="M426.89 548.83h0"/><path d="M445.68 548.35h0"/><path d="M548.98 551.58h0"/><path d="M609.14 557.29h0"/><path d="M548.93 549.24h0"/><path d="M471.28 549.8h0"/><path d="M433.9 547.59h0"/><path d="M650.52 551.77h0"/><path d="M543.07 560.07h0"/><path d="M559.59 550.57h0"/><path d="M489.56 552.99h0"/><path d="M531.81 552.6h0"/><path d="M533.16 559.79h0"/><path d="M463.07 556.54h0"/><path d="M420.54 554.66h0"/><path d="M427.56 547.12h0"/><path d="M455.92 555.16h0"/><path d="M468.38 553h0"/><path d="M419.31 558.95h0"/><path d="M541.89 549.36h0"/><path d="M581.15 561.67h0"/><path d="M418.18 551.8h0"/><path d="M492.08 547.62h0"/><path d="M572.45 552.93h0"/><path d="M508.71 548.16h0"/><path d="M495.35 558.37h0"/><path d="M505.44 548.47h0"/><path d="M520.87 554.95h0"/><path d="M552.35 554.04h0"/><path d="M647.84 553.98h0"/><path d="M473.94 548.35h0"/><path d="M639.73 562.04h0"/><path d="M455.86 553.08h0"/><path d="M488.08 547.81h0"/><path d="M474.4 553.04h0"/><path d="M563.47 558.64h0"/><path d="M486.9 557.96h0"/><path d="M439.08 564.02h0"/><path d="M557.26 549.5h0"/><path d="M541.39 553.81h0"/><path d="M511.16 555.63h0"/><path d="M414.72 551.29h0"/><path d="M561.06 553.28h0"/><path d="M575.81 546.57h0"/><path d="M541.46 550.08h0"/><path d="M537.44 547.31h0"/><path d="M485.9 560.92h0"/><path d="M527.46 564.24h0"/><path d="M474.23 559.83h0"/><path d="M626.21 554.31h0"/><path d="M645.06 548.4h0"/><path d="M543.11 552.77h0"/><path d="M656.06 556.29h0"/><path d="M539.51 551.36h0"/><path d="M629.29 553.56h0"/><path d="M542.87 547.22h0"/><path d="M469.3 549.57h0"/><path d="M627.51 551.22h0"/><path d="M648.71 554.35h0"/><path d="M596.2 552.56h0"/><path d="M621.24 560.64h0"/><path d="M622.54 548.13h0"/><path d="M491.82 551.54h0"/><path d="M420.14 547.15h0"/><path d="M545.12 565.87h0"/><path d="M570.35 554.91h0"/><path d="M647.16 559.22h0"/><path d="M430.79 557.78h0"/><path d="M584.84 551.55h0"/><path d="M637.01 565.44h0"/><path d="M493.7 562.03h0"/><path d="M608.07 551.65h0"/><path d="M666.07 558.7h0"/><path d="M600.05 549.64h0"/><path d="M429.27 549.55h0"/><path d="M615.04 556.42h0"/><path d="M637.59 557.38h0"/><path d="M577.66 565.27h0"/><path d="M540.04 555.17h0"/><path d="M420.15 552.48h0"/><path d="M455.46 551.8h0"/><path d="M581.36 548.19h0"/><path d="M612.46 552.41h0"/><path d="M495.06 549.99h0"/><path d="M484.05 556.23h0"/><path d="M589.71 551.23h0"/><path d="M655.13 557.99h0"/><path d="M647.28 556.04h0"/><path d="M488.56 563.77h0"/><path d="M660.32 557.93h0"/><path d="M612.17 550h0"/><path d="M547.86 549.93h0"/><path d="M538.99 552.5h0"/><path d="M551.16 563.27h0"/><path d="M535.2 550.23h0"/><path d="M465.22 546.65h0"/><path d="M562.75 552.99h0"/><path d="M432.18 546.84h0"/><path d="M427.63 554.13h0"/><path d="M656.84 552.94h0"/><path d="M577.78 554.79h0"/><path d="M474.46 554.03h0"/><path d="M535.43 550.96h0"/><path d="M524.97 550.7h0"/><path d="M589.55 547.55h0"/><path d="M578.18 547.28h0"/><path d="M654.14 557.42h0"/><path d="M552.63 551.82h0"/><path d="M669.22 550.21h0"/><path d="M610.11 551.96h0"/><path d="M428.86 547.4h0"/><path d="M483.97 552.86h0"/><path d="M598.24 555.31h0"/><path d="M610.33 547.53h0"/><path d="M579.86 553.94h0"/><path d="M524.84 549.04h0"/><path d="M441.54 555.63h0"/><path d="M641.38 549.82h0"/><path d="M483.16 549.55h0"/><path d="M591.81 547.57h0"/><path d="M523.08 550.61h0"/><path d="M560.8 548.16h0"/><path d="M580.35 546.74h0"/><path d="M588.44 555.22h0"/><path d="M595.9 548.42h0"/><path d="M447.16 548.2h0"/><path d="M418.6 555.67h0"/><path d="M432.93 549.74h0"/><path d="M441.29 553.97h0"/><path d="M658.07 552.59h0"/><path d="M564.54 552.41h0"/><path d="M494.97 554.44h0"/><path d="M492.04 550.78h0"/><path d="M470.77 546.87h0"/><path d="M519.2 553.29h0"/><path d="M516.24 554.15h0"/><path d="M616.55 551.5h0"/><path d="M595.28 550.78h0"/><path d="M525.96 554.26h0"/><path d="M530.09 549.06h0"/><path d="M519.39 551.28h0"/><path d="M491.93 557.53h0"/><path d="M535.34 547.78h0"/><path d="M639.11 555.88h0"/><path d="M643.82 554.5h0"/><path d="M663.86 548.79h0"/><path d="M585.85 548.38h0"/><path d="M603.68 554.99h0"/><path d="M657.06 550.41h0"/><path d="M581.91 559.75h0"/><path d="M581.31 550.95h0"/><path d="M472.06 554.51h0"/><path d="M664.77 547.8h0"/><path d="M501.64 557.12h0"/><path d="M520.66 546.8h0"/><path d="M610.18 547.97h0"/><path d="M470.76 547.13h0"/><path d="M516.12 558.35h0"/><path d="M647.6 552.15h0"/><path d="M429.58 546.65h0"/><path d="M628.32 560.37h0"/><path d="M514.3 554.44h0"/><path d="M608.99 557.96h0"/><path d="M605.14 553.78h0"/><path d="M594.55 552.23h0"/><path d="M557.76 549.56h0"/><path d="M449.19 553.45h0"/><path d="M600.01 547.89h0"/><path d="M657.2 553.96h0"/><path d="M549.33 548.14h0"/><path d="M540.87 557.51h0"/><path d="M642.67 552.47h0"/><path d="M583.83 556.96h0"/><path d="M521.66 550.25h0"/><path d="M451.42 561.65h0"/><path d="M549.72 554h0"/><path d="M667.64 552.36h0"/><path d="M504.43 565.88h0"/><path d="M608.28 555.5h0"/><path d="M591.15 552.94h0"/><path d="M590.72 549.76h0"/><path d="M484.24 550.43h0"/><path d="M505.91 553.89h0"/><path d="M510.03 548.29h0"/><path d="M582.29 546.87h0"/><path d="M637.34 550.87h0"/><path d="M652.91 552.44h0"/><path d="M444.39 546.43h0"/><path d="M436.21 551.85h0"/><path d="M481.88 550.31h0"/><path d="M539.31 560.09h0"/><path d="M623.61 547.12h0"/><path d="M633.99 548.37h0"/><path d="M593.04 549.68h0"/><path d="M500.45 559.54h0"/><path d="M535.43 550.82h0"/><path d="M494.48 550.63h0"/><path d="M559.98 561.23h0"/><path d="M570.03 552.09h0"/><path d="M471.23 552.57h0"/><path d="M572.69 546.93h0"/><path d="M501.52 559.55h0"/><path d="M526.77 564.54h0"/><path d="M648.26 561.18h0"/><path d="M587.34 553.24h0"/><path d="M594.85 550.27h0"/><path d="M469.53 553.57h0"/><path d="M472.19 559.44h0"/><path d="M507.41 558.24h0"/><path d="M426.34 548.26h0"/><path d="M592.12 560.1h0"/><path d="M553.15 561.78h0"/><path d="M563.36 552.8h0"/><path d="M504.55 548.58h0"/><path d="M665.99 547.89h0"/><path d="M430.31 560.38h0"/><path d="M440.33 556.58h0"/><path d="M459.39 559.7h0"/><path d="M483.99 548.18h0"/><path d="M496.71 553.08h0"/><path d="M533.78 558.01h0"/><path d="M505.26 549.13h0"/><path d="M506.31 557.22h0"/><path d="M481 546.47h0"/><path d="M418.45 553.63h0"/><path d="M482.97 550.72h0"/><path d="M443.17 557.2h0"/><path d="M545.11 551.96h0"/><path d="M494.02 554.46h0"/><path d="M573.44 557.44h0"/><path d="M582.85 555.88h0"/><path d="M519.9 550.04h0"/><path d="M513.98 555.97h0"/><path d="M549.49 556.17h0"/><path d="M550.55 546.68h0"/></g>
<rect x="401.5" y="538.1" width="281.3" height="144.4" fill="none" stroke="#3b3b3b" stroke-width="1.0"/>
<line x1="398.5" y1="666.15" x2="401.5" y2="666.15" stroke="#3b3b3b" stroke-width="0.9"/>
<text x="394.2" y="669.07" font-size="8.1" text-anchor="end" fill="#262626" stroke="#262626">0.88</text>
<line x1="398.5" y1="644.48" x2="401.5" y2="644.48" stroke="#3b3b3b" stroke-width="0.9"/>
<text x="394.2" y="647.4" font-size="8.1" text-anchor="end" fill="#262626" stroke="#262626">0.90</text>
<line x1="398.5" y1="622.81" x2="401.5" y2="622.81" stroke="#3b3b3b" stroke-width="0.9"/>
<text x="394.2" y="625.73" font-size="8.1" text-anchor="end" fill="#262626" stroke="#262626">0.92</text>
<line x1="398.5" y1="601.14" x2="401.5" y2="601.14" stroke="#3b3b3b" stroke-width="0.9"/>
<text x="394.2" y="604.06" font-size="8.1" text-anchor="end" fill="#262626" stroke="#262626">0.94</text>
<line x1="398.5" y1="579.47" x2="401.5" y2="579.47" stroke="#3b3b3b" stroke-width="0.9"/>
<text x="394.2" y="582.39" font-size="8.1" text-anchor="end" fill="#262626" stroke="#262626">0.96</text>
<line x1="398.5" y1="557.8" x2="401.5" y2="557.8" stroke="#3b3b3b" stroke-width="0.9"/>
<text x="394.2" y="560.72" font-size="8.1" text-anchor="end" fill="#262626" stroke="#262626">0.98</text>
<line x1="414.3" y1="682.5" x2="414.3" y2="685.5" stroke="#3b3b3b" stroke-width="0.9"/>
<text x="414.3" y="695.7" font-size="8.1" text-anchor="middle" fill="#262626" stroke="#262626">0</text>
<line x1="464.27" y1="682.5" x2="464.27" y2="685.5" stroke="#3b3b3b" stroke-width="0.9"/>
<text x="464.27" y="695.7" font-size="8.1" text-anchor="middle" fill="#262626" stroke="#262626">200</text>
<line x1="514.24" y1="682.5" x2="514.24" y2="685.5" stroke="#3b3b3b" stroke-width="0.9"/>
<text x="514.24" y="695.7" font-size="8.1" text-anchor="middle" fill="#262626" stroke="#262626">400</text>
<line x1="564.21" y1="682.5" x2="564.21" y2="685.5" stroke="#3b3b3b" stroke-width="0.9"/>
<text x="564.21" y="695.7" font-size="8.1" text-anchor="middle" fill="#262626" stroke="#262626">600</text>
<line x1="614.18" y1="682.5" x2="614.18" y2="685.5" stroke="#3b3b3b" stroke-width="0.9"/>
<text x="614.18" y="695.7" font-size="8.1" text-anchor="middle" fill="#262626" stroke="#262626">800</text>
<line x1="664.15" y1="682.5" x2="664.15" y2="685.5" stroke="#3b3b3b" stroke-width="0.9"/>
<text x="664.15" y="695.7" font-size="8.1" text-anchor="middle" fill="#262626" stroke="#262626">1000</text>
<text x="542.15" y="705.6" font-size="9.5" text-anchor="middle" fill="#262626" stroke="#262626">5-mer id (0 ~ 1023)</text>
<text transform="translate(372.8,610.3) rotate(-90)" font-size="9.5" text-anchor="middle" fill="#262626" stroke="#262626">Accuracy of next called base</text>
<rect x="614.6" y="618.4" width="63.6" height="60.0" rx="1.5" fill="#ffffff" fill-opacity="0.8" stroke="#d6d6d6" stroke-width="0.8"/>
<circle cx="626.0" cy="625.5" r="3.9" fill="#ffa51a"/>
<text x="641" y="628.4" font-size="8.0" text-anchor="start" fill="#262626" stroke="#262626">Guppy</text>
<circle cx="626.0" cy="636.9" r="3.9" fill="#20b5ad"/>
<text x="641" y="639.8" font-size="8.0" text-anchor="start" fill="#262626" stroke="#262626">RODAN</text>
<circle cx="626.0" cy="648.3" r="3.9" fill="#f06010"/>
<text x="641" y="651.2" font-size="8.0" text-anchor="start" fill="#262626" stroke="#262626">GCRTcall</text>
<circle cx="626.0" cy="659.7" r="3.9" fill="#4a78b0"/>
<text x="641" y="662.6" font-size="8.0" text-anchor="start" fill="#262626" stroke="#262626">Dorado</text>
<circle cx="626.0" cy="671.1" r="3.9" fill="#dd2a08"/>
<text x="641" y="674" font-size="8.0" text-anchor="start" fill="#262626" stroke="#262626">Coral</text>
</svg></body></html>
